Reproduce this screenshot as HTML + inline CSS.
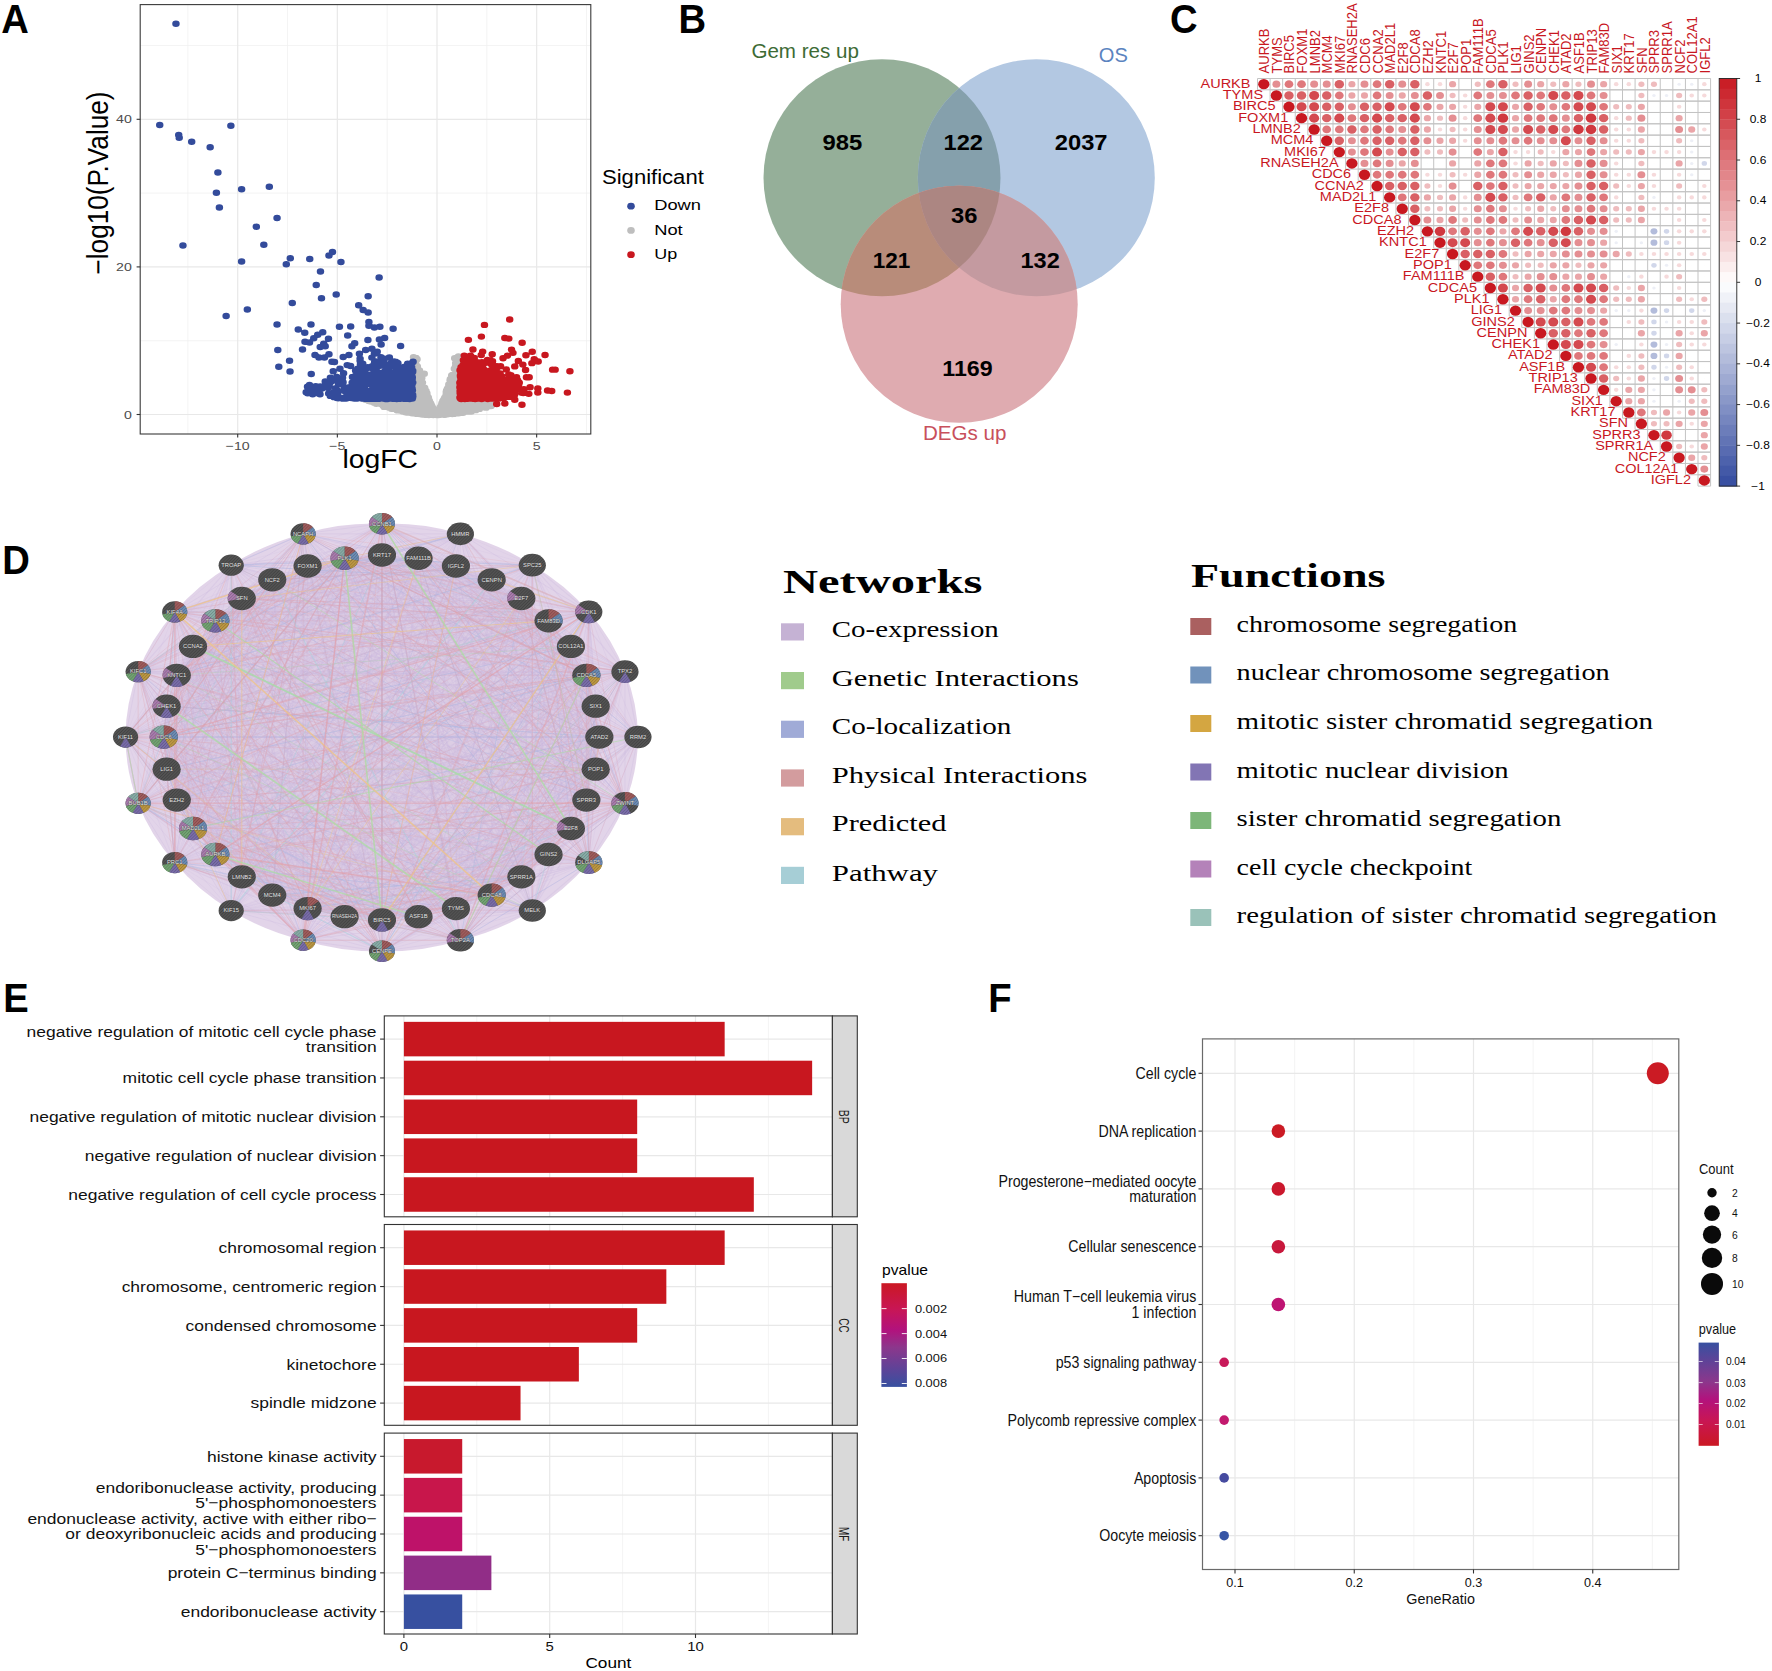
<!DOCTYPE html>
<html lang="en"><head><meta charset="utf-8"><title>Figure</title>
<style>
html,body{margin:0;padding:0;background:#fff}
svg{display:block}
text{font-family:"Liberation Sans",sans-serif;white-space:pre}
text.se{font-family:"Liberation Serif",serif}
</style></head><body>
<svg width="1772" height="1671" viewBox="0 0 1772 1671">
<rect width="1772" height="1671" fill="#fff"/>
<g id="a">
<rect x="140.2" y="4.6" width="450.6" height="429.4" fill="#fff" />
<line x1="187.88" y1="4.6" x2="187.88" y2="434" stroke="#efefef" stroke-width="0.7" />
<line x1="287.52" y1="4.6" x2="287.52" y2="434" stroke="#efefef" stroke-width="0.7" />
<line x1="387.18" y1="4.6" x2="387.18" y2="434" stroke="#efefef" stroke-width="0.7" />
<line x1="486.82" y1="4.6" x2="486.82" y2="434" stroke="#efefef" stroke-width="0.7" />
<line x1="586.48" y1="4.6" x2="586.48" y2="434" stroke="#efefef" stroke-width="0.7" />
<line x1="140.2" y1="340.7" x2="590.8" y2="340.7" stroke="#efefef" stroke-width="0.7" />
<line x1="140.2" y1="193.1" x2="590.8" y2="193.1" stroke="#efefef" stroke-width="0.7" />
<line x1="140.2" y1="45.5" x2="590.8" y2="45.5" stroke="#efefef" stroke-width="0.7" />
<line x1="237.7" y1="4.6" x2="237.7" y2="434" stroke="#e8e8e8" stroke-width="1.2" />
<line x1="337.35" y1="4.6" x2="337.35" y2="434" stroke="#e8e8e8" stroke-width="1.2" />
<line x1="437" y1="4.6" x2="437" y2="434" stroke="#e8e8e8" stroke-width="1.2" />
<line x1="536.65" y1="4.6" x2="536.65" y2="434" stroke="#e8e8e8" stroke-width="1.2" />
<line x1="140.2" y1="414.5" x2="590.8" y2="414.5" stroke="#e8e8e8" stroke-width="1.2" />
<line x1="140.2" y1="266.9" x2="590.8" y2="266.9" stroke="#e8e8e8" stroke-width="1.2" />
<line x1="140.2" y1="119.3" x2="590.8" y2="119.3" stroke="#e8e8e8" stroke-width="1.2" />
<path d="M364.92 402.51h0M381.23 414.06h0M350.58 412.71h0M365.82 407.18h0M392.4 411.71h0M375.65 414.78h0M334.94 408.53h0M388.54 407.08h0M334.4 404.13h0M333.28 405.77h0M376.85 407.29h0M369.38 413.37h0M376.92 412.94h0M378.73 403.62h0M382.19 400.31h0M395.8 409.09h0M363.04 413.98h0M368.09 413.48h0M360.85 406.58h0M350.01 405.99h0M353.18 370.47h0M375.56 411.18h0M371.39 413.49h0M398.12 401.15h0M368.1 403.5h0M352.98 409.86h0M339.22 409.47h0M387.95 395.63h0M400.98 402.79h0M378.06 408.79h0M383.44 395.83h0M357.35 389.2h0M349.79 401.82h0M359.06 374.99h0M339.37 410.2h0M375.44 411.34h0M329.97 400.93h0M316.82 401.61h0M346.55 412.16h0M391.13 392.4h0M375.58 414.9h0M379.59 402.58h0M381.38 407.98h0M382 393.69h0M390.66 387.27h0M381.61 394.44h0M388.26 404.99h0M331.85 405.27h0M342.48 399.67h0M404.58 409.97h0M377.26 413.42h0M384.17 401.78h0M356.29 413.92h0M361.54 403.87h0M351.64 399.86h0M390.48 378.59h0M341.02 403.76h0M367.49 414.67h0M400.22 401.09h0M348.52 402.48h0M353.62 410.53h0M383.78 397.24h0M377.69 413.46h0M373.38 414.92h0M366.61 414.93h0M376.25 414.37h0M386.6 413.97h0M382.39 392.47h0M361.27 408.84h0M362.44 407.07h0M363.2 392.65h0M378.56 400.85h0M346.46 411.69h0M375.54 414.75h0M361.19 387.57h0M384.28 411.46h0M422.02 402.52h0M377.91 413.97h0M365.56 406.39h0M369.02 406.01h0M391.8 403.48h0M345.51 408.49h0M388.56 392.34h0M402.05 402.5h0M363.11 393.66h0M383.61 384.47h0M393.5 402.3h0M339.58 402.75h0M374.09 414.29h0M395.75 412.82h0M387.3 406.56h0M373.36 413.96h0M392.64 360.17h0M364.11 390.96h0M389.8 406.32h0M364.71 411.59h0M375.08 412.32h0M383.93 386.75h0M383.43 397.33h0M349.88 402.51h0M397.28 400.58h0M386.23 385.04h0M370.38 414.44h0M346.11 402.49h0M351.43 399.52h0M403.53 407.59h0M328.43 401.74h0M400.26 410.73h0M378.85 401.68h0M379.07 403.01h0M394.51 399.36h0M401.97 404.32h0M354.54 409.57h0M392.01 413.37h0M400.63 406.33h0M364.76 394.65h0M330.94 400.96h0M387.76 408.07h0M370.15 414.05h0M388.06 390.48h0M369.05 414.37h0M392.47 362.16h0M356.07 387.11h0M389.06 368.98h0M328.63 403.79h0M393.08 407.08h0M366.27 408.99h0M369.75 414.23h0M408.44 408.82h0M371.3 413.62h0M366.15 410.81h0M343.58 406.23h0M335.36 408.78h0M357.65 391.62h0M370.52 411.09h0M387.47 395.53h0M337.11 400.22h0M356.77 396.23h0M351.17 407.23h0M353.97 377.53h0M345.28 407h0M378.1 403.06h0M356.72 366.37h0M329.07 405.82h0M322.95 400.2h0M351.75 412.19h0M386.94 412.87h0M386.25 408.02h0M398.71 402.63h0M384.38 385.43h0M389.42 383.22h0M398.19 411.41h0M411.6 407.59h0M332.98 399.59h0M350.64 399.19h0M385.02 386.25h0M382.29 403.67h0M389.54 400.9h0M376.58 409.32h0M387.9 413.89h0M348.76 412.63h0M362.72 407.78h0M352.22 412.94h0M352.46 399.28h0M383.91 412.9h0M315.23 401.06h0M406.16 408.46h0M379.45 413.73h0M329.02 400.88h0M392.32 403.54h0M398.54 405.94h0M408.82 403.01h0M376.55 409.72h0M374.26 413.98h0M415.43 402.89h0M392.41 369.97h0M406.56 410.13h0M391.38 365.63h0M351.82 406.67h0M375.9 408.72h0M369.1 411.09h0M381.47 411.16h0M380.1 414.49h0M378.36 413.26h0M363.47 396.29h0M387.13 405.5h0M357.05 401.39h0M370.35 415.03h0M370.35 411.08h0M374.09 413.68h0M379.31 399.8h0M392.76 410.33h0M379.85 407.61h0M349.83 401.92h0M350.57 404.42h0M386.08 375.47h0M348.26 403.94h0M403.9 404.41h0M354.13 412.33h0M381.43 413.16h0M401.9 409.51h0M385.37 410.93h0M405.53 400.94h0M391 379.08h0M367.2 412.04h0M385.87 400.21h0M383.03 409.6h0M389.66 362.85h0M396.72 410.57h0M365.78 396.95h0M363.06 414.69h0M388.94 399.5h0M345.54 410.42h0M374.34 413.64h0M387 412.39h0M370.87 413.63h0M374.74 414.16h0M371.53 414.57h0M347.94 403.22h0M356.99 384.83h0M361.09 404.31h0M327.65 404.93h0M382.4 397.28h0M369.2 410.07h0M409.21 400.48h0M381.32 402.3h0M366.42 413.63h0M331.68 404.2h0M330.02 401.11h0M369.25 408.26h0M331.55 402.56h0M347.71 404.11h0M371.03 414.75h0M375.66 413.35h0M402.3 405.67h0M395.11 405.39h0M347.82 407.18h0M347.47 412.44h0M380.78 406.18h0M336.62 404.96h0M366.12 403h0M363.74 410.5h0M385.26 390.08h0M377.89 413.42h0M366.65 408.52h0M312.5 399.85h0M338.38 402.28h0M374.6 412.93h0M365.03 413.08h0M363.68 410.43h0M369.58 411.3h0M352.26 413.3h0M385.97 390.9h0M376.61 409.58h0M362.42 401.93h0M354.62 392.21h0M359.92 380.6h0M372.6 414.89h0M419.77 406.09h0M363.52 405.22h0M394.08 408.22h0M319.85 402.76h0M383.16 410.8h0M420.03 402.55h0M386.65 374.93h0M390.5 409.7h0M381.18 395.61h0M347.44 403.94h0M375.65 412.55h0M415.44 407.63h0M395.08 408.09h0M370.91 414.09h0M382.73 408.5h0M385.45 384.58h0M405.79 401.38h0M370.74 414.75h0M400.42 400.64h0M355.37 402.46h0M355.6 357.99h0M385.63 395.26h0M355.95 403.73h0M387.61 413.32h0M402.73 409.02h0M394.41 400.18h0M370.43 412.65h0M387.06 409.25h0M333.15 400.43h0M408.34 401.6h0M338.36 399.86h0M335.89 404.68h0M369.07 408.92h0M363.71 405.67h0M370.87 414.13h0M339.79 410.38h0M380.3 407.48h0M365.43 409.91h0M360.05 377h0M403.64 409.11h0M360.34 396.89h0M355.42 396.92h0M376.62 413.89h0M381.32 394.66h0M355.37 363.77h0M370.63 409.79h0M359.27 409.45h0M373.96 414.96h0M365.28 411.69h0M378.14 412.74h0M330.12 401.69h0M351.54 408.72h0M348.15 408.77h0M383.7 407.02h0M386.21 375.76h0M376.87 414.38h0M340.4 401.06h0M369.72 414.03h0M368.24 411.54h0M386.28 400.17h0M409.95 400.7h0M358.57 413.94h0M403.1 400.65h0M377.08 411.22h0M370.01 413.06h0M370.15 409.23h0M389.48 362.88h0M333.17 407.07h0M379.89 407.03h0M378.15 407.05h0M402.09 404.45h0M358.13 381.8h0M344.4 411.58h0M377.49 406.89h0M375.57 411.54h0M417.84 405.18h0M381.59 401.55h0M382.02 398.91h0M376.54 411.31h0M375.61 411.93h0M358.82 391.96h0M380.14 414.83h0M362.84 387.66h0M392.75 380.7h0M388.34 406.75h0M354.25 404.22h0M402.55 408.81h0M362.22 414.41h0M338.51 406.61h0M370.69 414.19h0M346.33 410.29h0M328.33 406.88h0M358.69 387.62h0M389.25 407.65h0M380.51 406.52h0M337.02 408.45h0M388.4 376.46h0M366.9 412.67h0M376.77 413.14h0M405.72 399.73h0M356.67 406.65h0M370.72 413.43h0M344.06 410.65h0M325.7 403.91h0M383.61 412.19h0M377.45 411.72h0M372.75 413.83h0M396.06 399.05h0M347.29 400.18h0M363.85 391.76h0M382.32 396.76h0M401.14 408.2h0M376.61 412.59h0M364 414.75h0M381.63 410.2h0M338.78 409.59h0M412.98 399.44h0M375.64 410.13h0M389.61 372.45h0M364.2 405.74h0M373.14 414.67h0M382.54 407.44h0M363.61 392.27h0M391.83 369.27h0M374.49 412.38h0M375.83 414.87h0M371.79 412.47h0M368.8 406.44h0M405.58 407.86h0M362.88 399.53h0M423.3 403.72h0M366.5 411.83h0M352.22 413.33h0M372.04 413.72h0M323.02 399.44h0M385.69 399.84h0M372.71 413.68h0M390.5 404.35h0M364.35 406.99h0M321.62 403.76h0M372.36 413.62h0M367.5 405.3h0M330.91 403.24h0M361.6 405.78h0M386.83 383.32h0M382.75 395.5h0M377.07 413.39h0M375.48 412.29h0M372.56 414.7h0M414.1 399.15h0M364.9 410.99h0M378.62 409.12h0M375.18 411.67h0M355.68 396.04h0M375.44 411.9h0M354.16 366.76h0M339 403.7h0M399.86 409.45h0M398.47 406.01h0M346.07 410.54h0M395.27 410.76h0M370.71 410.71h0M382.62 401.31h0M360.5 377.89h0M389.3 392.36h0M374.87 412.43h0M408.74 399.13h0M389.66 372.48h0M384.82 386.48h0M375.6 413.79h0M367.23 414.06h0M391.53 384.8h0M423.41 399.51h0M340.74 406.68h0M401.02 409.63h0M379.27 414.04h0M319.82 401.25h0M359.49 403.23h0M360.16 411.43h0M375.01 412.55h0M385.99 391.78h0M371.28 414.17h0M373.44 413.93h0M377.64 413.53h0M387.24 381.42h0M363.02 413.27h0M368.07 411.44h0M341.5 410.53h0M360.95 411.15h0M363.01 409.27h0M349.8 409.91h0M387.96 391.7h0M365.02 409.28h0M333.59 399.04h0M391.65 398.03h0M381.53 411.8h0M402.79 411.43h0M388.55 375.97h0M357.42 399.01h0M387.87 409.78h0M354.49 413.46h0M341.52 400.4h0M360.68 412.92h0M355.63 390.93h0M356.14 409.54h0M365 395.61h0M395.59 412.21h0M332 399.4h0M372.65 414.9h0M405.97 399.37h0M406.72 405.99h0M416.18 404.98h0M386.33 378.62h0M341.5 409.95h0M343.14 402.36h0M374.13 412.58h0M391.67 368.04h0M376.45 412.49h0M383.97 400.97h0M362.25 409.65h0M377.63 407.38h0M375.28 412.46h0M366.65 403.75h0M409.77 408.89h0M379.98 405.33h0M341.96 408.57h0M361.12 403.3h0M350.91 404.91h0M359.25 399.72h0M366.07 405.35h0M372.1 414.16h0M373.7 413.4h0M406.3 406.35h0M380.66 413.71h0M392.11 409.55h0M361.9 403.58h0M374.29 413.66h0M399.61 411.67h0M378.02 406.52h0M374.75 414.98h0M345.29 406.65h0M332.8 407.81h0M406.59 401.08h0M404.85 401.79h0M369.52 414.1h0M394.93 399.79h0M367.52 402.97h0M389.4 365.97h0M402.62 411.13h0M349.2 411.54h0M399.13 400.76h0M364.24 412.88h0M408.97 405.38h0M383.09 409.58h0M363.35 403.67h0M367.91 413.64h0M375.64 414.47h0M399.91 400.76h0M357.88 409.53h0M372.64 414.4h0M360.09 393.06h0M342.88 405.64h0M403.67 405.21h0M377.75 403.2h0M363.63 400.59h0M340.44 408.69h0M393.79 399.18h0M352.59 403.24h0M360.97 402.31h0M385.93 413.63h0M401.78 401.89h0M369.66 407.57h0M400.7 405.48h0M360.86 414.49h0M354.59 413.01h0M387.74 398.68h0M394.08 407.28h0M379.32 412.51h0M363.45 399.54h0M371.88 414.37h0M370.57 414.77h0M360.91 396.91h0M382.2 401.74h0M378.8 409.27h0M398.86 411.35h0M385 411.47h0M364.19 413.65h0M342.55 402.37h0M337.5 406.62h0M370.07 411.31h0M373.58 414.08h0M352.31 408.37h0M395.09 400.14h0M368.69 406.12h0M354.37 412.68h0M349.08 410.65h0M366.09 414.46h0M370.96 412.97h0M367.06 401.26h0M379.24 406.4h0M381.41 405.2h0M345.82 410.74h0M340.1 408.15h0M368.27 405.29h0M376.73 408.41h0M369.84 409.28h0M368.01 406.77h0M336.2 405.81h0M377.93 413.19h0M382.55 414.31h0M379.85 410.5h0M370.28 410.15h0M337.59 402.93h0M367.65 410.53h0M397.23 402.64h0M353.84 380.92h0M367.93 403.25h0M379.37 414.85h0M413.2 406.82h0M373.41 413.33h0M405.31 402.74h0M350.02 409.67h0M409.14 408.06h0M395.44 404.32h0M353.89 379.38h0M394.08 401.9h0M367.21 405.96h0M384.61 391.92h0M352.57 406.46h0M365.15 403.62h0M384.07 413.41h0M380.42 414.68h0M364.04 413.44h0M387.99 410.44h0M361.91 414.28h0M401.9 404.66h0M378.8 405.59h0M369.71 411.26h0M362.54 406.72h0M386.56 378.5h0M334.51 408.78h0M402.14 399.91h0M335.55 408.82h0M373.2 415.07h0M380.32 399.01h0M381.81 395.65h0M342.47 404.54h0M368.09 414.42h0M379.84 402.25h0M375.56 413.04h0M388.26 413.81h0M369.63 410.05h0M387.67 401.7h0M346.76 406.85h0M419.83 400.34h0M366.43 409.62h0M366.75 409.57h0M373.18 414.08h0M350.94 406.82h0M379.18 414.22h0M411.75 401.26h0M370.88 414.48h0M371.31 412.38h0M372.32 414.29h0M370.08 412.44h0M374.29 413.72h0M357.36 401.73h0M378.48 401.97h0M355.97 403.33h0M377.6 410.35h0M402.51 410.8h0M364.64 398.37h0M363.75 398.86h0M377.23 412.29h0M341.26 407.34h0M335.1 408.83h0M397.84 400.93h0M384.62 408.46h0M372.63 413.71h0M349.59 401.06h0M370.2 414.11h0M344.96 402.96h0M376.72 408.74h0M358.42 403.77h0M354.71 408.56h0M387.65 383.14h0M344.25 410.47h0M336.4 404.41h0M384.1 412.38h0M327.38 405.45h0M380.81 412.36h0M359.82 382.74h0M358.52 370.35h0M385.04 389.1h0M365.92 403.12h0M368.98 407h0M364.87 393.3h0M387.48 380.65h0M370.01 408.54h0M377.62 406.5h0M371.82 412.38h0M386.73 381.59h0M382.42 398.29h0M373.86 413.16h0M386.87 379.47h0M389.58 368.59h0M359.34 379.75h0M381.85 398.22h0M355.32 376.41h0M387.1 377.92h0M389.65 372.88h0M360.43 387.15h0M355.32 374.2h0M364.78 397.83h0M371.34 411.96h0M358.66 371.34h0M362.34 396.55h0M383.88 386.89h0M360.1 378.95h0M381.43 392.04h0M353.53 377.61h0M358.42 377.25h0M367.33 404.72h0M371.81 412.81h0M385.52 382.27h0M375.8 410.24h0M391.34 368.61h0M353.46 357.23h0M377.72 407.61h0M356.91 371.75h0M385.77 380.64h0M365.45 398.22h0M382.51 396.26h0M357.47 377.28h0M367.05 404.15h0M392.14 364.62h0M373.81 412.81h0M380.45 397.84h0M382.73 394.08h0M359.72 386.01h0M389.74 383.05h0M388.42 384.32h0M385.6 393.3h0M368.13 407.97h0M378.43 406.51h0M356.08 379.9h0M380.24 402.73h0M388.57 383.35h0M359.55 375.81h0M377.45 405.4h0M358.18 380.09h0M361.67 392.69h0M356.58 374.44h0M362.99 387.88h0M378.37 406.25h0M369.06 408.49h0M386.2 377h0M381.72 390.52h0M368.68 407.61h0M371.67 413.05h0M388.88 384.24h0M382.82 387.96h0M368.06 406.1h0M365.72 397.1h0M380.14 397.65h0M366.74 403.7h0M384.12 384.51h0M380.4 399.4h0M383.18 394.94h0M392 365.26h0M365.87 401.97h0M376.14 407.53h0M357.39 386.54h0M383.96 396.23h0M375.79 410.98h0M385.14 383.75h0M385.29 383.79h0M368.08 404.84h0M385.45 390.93h0M355.8 373.24h0M354.96 365.23h0M390.07 380.21h0M384.27 392.47h0M377.21 408.9h0M364 394.12h0M362.74 391.97h0M357.58 378.68h0M382.11 400.41h0M384.87 379.31h0M363.16 394.48h0M370.5 410.67h0M360.33 386.57h0M359.26 389.26h0M367.97 407.45h0M374.09 412.36h0M363.62 391.85h0M365.21 396.58h0M358.4 387.97h0M382.37 389.06h0M390.85 381.05h0M371.84 413.26h0M364.78 399.55h0M354.14 360.53h0M366.14 397.68h0M382.55 397.73h0M365.26 397.65h0M382.68 389.91h0M391.43 361.85h0M379.23 405.37h0M390.02 365.58h0M356.5 371.15h0M384.69 380.22h0M365.01 396.58h0M356.95 379.94h0M366.04 402.74h0M361.08 382.59h0M366.66 404.94h0M366.93 400.74h0M380.25 403.29h0M388.67 382.34h0M366.27 404.81h0M382.46 397.43h0M384.73 395.23h0M382.36 399.07h0M388.2 382.86h0M390.32 369.74h0M383.23 395.75h0M368.46 408h0M380.54 398.4h0M388.34 368.76h0M371.22 411.06h0M389.96 374.65h0M388.49 383.82h0M365.6 399.66h0M370.3 410.96h0M384.73 392.02h0M381.73 391.08h0M367.3 406.77h0M353.45 372.51h0M371.1 411.54h0M382.86 388.47h0M355.91 368.16h0M358.84 388.87h0M384.32 386.63h0M377.17 405.37h0M391.82 356.42h0M368.84 405.49h0M374.87 411.28h0M356.39 384.06h0M374.8 412.11h0M354.48 364.68h0M384.79 388.29h0M388.64 358.28h0M389.88 364.6h0M356.44 359.19h0M362.6 373.63h0M356.74 375.08h0M359.83 382.66h0" stroke="#bebebe" stroke-width="6.4" stroke-linecap="round" fill="none" transform="scale(1.17 1)"/>
<path d="M322.28 390.55h0M339.4 392.43h0M339.25 392.66h0M336 377.11h0M334.6 366.63h0M306.47 396.73h0M301.12 397.93h0M324.97 392.8h0M312.86 378.99h0M338.78 398.71h0M341.58 395.46h0M349.29 392.95h0M341.17 381.31h0M347.09 391.03h0M289.2 391.32h0M348.16 391.81h0M344.65 398.66h0M328.37 394.33h0M305.7 394.99h0M349.49 390.91h0M333.8 396.79h0M332.01 385.76h0M308.05 364.55h0M329.11 375.04h0M349.17 380.33h0M336.48 394.97h0M344.95 395.39h0M338.54 391.87h0M347.72 375.28h0M348.33 385.44h0M335.97 389.59h0M332.17 391.23h0M307.78 360.8h0M343.08 393.07h0M351.64 392.02h0M343.47 396.35h0M299.24 389.21h0M345.27 396.44h0M326.3 375.54h0M289.2 381.57h0M311.42 396.44h0M348.58 384.28h0M324.21 396.17h0M342.19 398.87h0M318.77 389.26h0M299.66 366.06h0M331.71 393.33h0M343.27 385.46h0M268.64 393.57h0M337.61 379.88h0M348.7 384.46h0M344.59 388h0M351.76 382.91h0M328.11 373.07h0M340.11 363.27h0M350.7 393.14h0M344.72 375.46h0M282.39 377.75h0M294.27 387.59h0M286.83 394.2h0M349.54 381.56h0M335.74 398.66h0M305.65 397.09h0M344.77 397.77h0M324.93 396.56h0M342.03 388.24h0M262.95 393.33h0M344.08 374.88h0M323.55 390.72h0M344.97 391.2h0M340.35 397.69h0M347.14 394.77h0M334.76 387.29h0M311.4 397.45h0M349.09 370.34h0M330.29 395.57h0M345.39 384.32h0M334.91 392.29h0M267.25 394.28h0M323.7 383.28h0M326.56 386.74h0M351.3 393.01h0M338.04 374.78h0M316.49 374.4h0M341.66 392.2h0M329.03 393.78h0M348.25 383.86h0M340.23 371.85h0M321.38 398.85h0M349.5 396.24h0M341.5 396.02h0M320.86 395.61h0M337.05 392.28h0M335.36 398.37h0M351.65 372.34h0M324.79 365.79h0M324.6 385.86h0M305.38 398.52h0M349.78 397.28h0M352.44 395.41h0M351.68 397.41h0M340.49 396.58h0M350.29 387.15h0M275.15 388.54h0M332.12 370.25h0M281.37 386.15h0M343.58 381.31h0M313.85 394.51h0M335.34 383.24h0M345.6 392.51h0M329.84 392.93h0M288.54 394.19h0M334.05 376.31h0M351.93 393.61h0M346.79 388.51h0M338.24 364.74h0M341.52 393.77h0M343.74 371.02h0M345.8 398.22h0M352.2 388.36h0M325.92 393.32h0M321.84 389.33h0M300.86 393.2h0M311.23 389.23h0M320.11 362.9h0M337.25 384.35h0M348.47 396h0M325.56 394.7h0M300.04 397.68h0M296.76 365.11h0M343.79 385.77h0M323.93 382.85h0M337.43 397.55h0M337.56 388.4h0M349.23 392.27h0M348.15 373.81h0M343.37 386.1h0M349.44 373.65h0M318.73 394.49h0M340.27 393.22h0M331.25 386.98h0M322.63 398.91h0M338.99 394.26h0M330.58 377.42h0M336.3 392.72h0M345.21 376.1h0M325.76 395.31h0M352.09 395.06h0M287.43 394.17h0M330.61 394.03h0M324.86 391.37h0M302.33 381.75h0M336.58 390.71h0M351.64 384.02h0M335.39 398.86h0M350.79 395.54h0M337.61 389.77h0M322.61 363.97h0M348 396.23h0M337.03 392.18h0M310.68 368.53h0M327.24 383.38h0M313.16 397.72h0M339.81 392.93h0M350.58 394.06h0M347.26 384.83h0M342.74 393.41h0M273.64 386.47h0M324.01 389.14h0M303.87 395.91h0M288.18 391.94h0M351.04 387.95h0M349.58 387.79h0M323.99 381.96h0M318.81 398.86h0M352.76 382.53h0M329.56 365.93h0M338.19 397.62h0M352.39 398.6h0M347.27 379.54h0M328.64 371.78h0M287.52 389.33h0M348.35 396.06h0M326.22 396.92h0M331.71 389.54h0M351.99 397.95h0M334.62 391.52h0M306.26 385.05h0M319.48 387.51h0M348.35 395.39h0M343.52 398.56h0M324.19 372.95h0M267.53 393.72h0M346.69 386.01h0M352.27 395.7h0M338.26 379.82h0M351.54 398.26h0M344.97 395.65h0M347.82 387.25h0M347.33 398.92h0M294.51 390.93h0M337.17 395.15h0M350.82 383.98h0M320.35 387.32h0M337.41 392.25h0M316.87 398.7h0M294.25 397.79h0M347.45 392.67h0M352.62 370.58h0M338.26 393.01h0M341.04 371.75h0M341.01 385.01h0M336.98 366.57h0M329.5 392.49h0M334.65 393.39h0M336.3 394.65h0M352.1 377.29h0M344.84 397.15h0M346.52 388.55h0M308.06 388.25h0M334.64 377.95h0M344.9 392.91h0M345.79 392.1h0M324.14 387.45h0M342.64 390.42h0M346.23 373.04h0M320.32 361.16h0M326.64 391.29h0M330.72 392.12h0M332.2 397.22h0M312.68 383.95h0M350.07 373.64h0M314.34 379.78h0M352 382.18h0M348.31 398.8h0M316.98 383.24h0M309.57 395.5h0M346.81 369.52h0M350.8 366.43h0M305.55 380.13h0M346.65 382.15h0M350.18 394.48h0M303.77 392.24h0M340.12 374.29h0M334.78 385.86h0M324.2 372.59h0M273.03 393.2h0M339.64 377.66h0M318.89 368.81h0M352.1 382.84h0M338.04 367.59h0M349.87 394.42h0M343.7 386.53h0M345.68 383.97h0M337.84 386.54h0M336.55 380.21h0M347.93 381.19h0M329.6 385.81h0M345.37 389.85h0M331.57 364.47h0M320.77 387.63h0M273.51 394.31h0M311.13 384.85h0M327.4 383.18h0M319.8 398.5h0M341.75 379.06h0M340.58 366.47h0M337.23 380.9h0M325.22 395.69h0M331.17 393.3h0M340.81 389.71h0M319.12 374.75h0M324.41 389.56h0M320.2 395.94h0M320.51 374.1h0M309.29 390.07h0M302.42 388.12h0M347.29 396.63h0M308.95 395.43h0M347.52 393.34h0M350.03 385.56h0M348.57 383.6h0M333.57 390.24h0M317.48 398.92h0M318.83 397.1h0M323.23 383.09h0M348.7 382.66h0M327.23 395.34h0M324.14 397.33h0M336.86 361.36h0M320.16 396.77h0M299.95 392.08h0M346.16 383.44h0M352.48 390.15h0M351.56 368.96h0M342.36 397.45h0M347.75 391.18h0M328.49 394.46h0M329.26 398.38h0M333.62 380.73h0M341.19 381.16h0M343.96 385.24h0M308.55 393.84h0M339.97 397.74h0M343.1 386.38h0M314.91 383.04h0M322.23 397.92h0M313.05 398.66h0M338.3 396.92h0M331.29 368.99h0M319.71 397.57h0M316.15 394.07h0M325.11 392.67h0M322.71 393.15h0M345.27 397.05h0M344.38 398.21h0M349.56 377.44h0M337.91 398.31h0M345.79 391.7h0M326.16 385.92h0M348.41 395.57h0M348.54 385.55h0M297.86 390.33h0M345.72 392.81h0M351.9 386.47h0M301 389.49h0M348.37 398.01h0M351.19 382.52h0M288.86 398.14h0M347.23 381.86h0M339.07 398.95h0M305.7 384.06h0M328.6 390.6h0M330.22 389.34h0M336.67 388.84h0M324.43 396.77h0M338 386.53h0M350.38 376.96h0M315.75 393.65h0M321.78 387.94h0M337.03 392.89h0M321.94 397.05h0M294.89 388.96h0M323.8 373.97h0M345.56 381.12h0M318.85 396.89h0M327.82 388.25h0M269.92 389.18h0M344.89 391.27h0M344.09 395.58h0M346.28 380.59h0M345.61 374.88h0M322.51 396.24h0M320.76 382.6h0M345.39 390.86h0M330.31 383.15h0M314.38 367.12h0M328.65 373.66h0M319.94 377.6h0M348.67 389.71h0M332.38 374.78h0M331.91 390.82h0M319.35 388.56h0M346.69 390.44h0M350.01 392.79h0M324.96 392.12h0M351.44 398.44h0M317.84 357.62h0M335.04 397.3h0M348.63 367.23h0M346.33 397.38h0M315.17 393.18h0M339.62 374.54h0M305.71 381.31h0M352.5 395.08h0M344.93 389.44h0M331.33 393.14h0M333.43 376.48h0M340.23 393.16h0M341.37 386.73h0M351.83 366.98h0M344.81 393.19h0M318.61 398.72h0M336.08 378.2h0M333.48 397.98h0M344.19 396.84h0M320.82 374.97h0M327.18 395.18h0M311.4 394.84h0M335.86 398.67h0M333.53 390.21h0M351.91 374.89h0M350.6 386.13h0M322.92 386.83h0M318.7 391.09h0M331.8 393.05h0M331.12 394.05h0M348.78 385.99h0M345.97 376.28h0M315.28 393.65h0M334.57 362.19h0M341.93 393.57h0M333.74 395.59h0M344.57 371.24h0M325.71 385.76h0M315.31 396.94h0M338.81 398.13h0M340.08 387.68h0M327.45 397.01h0M318.16 366.25h0M285.49 397.16h0M346.41 391.62h0M328.32 397.62h0M307.45 378.08h0M344.98 377.84h0M348.44 398.01h0M340.76 393.02h0M297.37 395.27h0M293.21 382.29h0M341.07 382.82h0M320.63 370.42h0M308.72 389.69h0M287.9 377h0M348.11 395.95h0M289.34 384.22h0M337.83 392.3h0M310.05 363.77h0M327.29 396.94h0M316.05 395.14h0M328.31 384.72h0M350.63 396.2h0M278.03 385.19h0M342.35 393.21h0M318.95 382.03h0M341.72 396.44h0M286.92 388.29h0M311.76 385.92h0M345.02 398.73h0M351.43 391.11h0M288.27 394.59h0M332.69 397.61h0M344.84 398.23h0M348.84 398.34h0M350.63 376.49h0M328.07 382.14h0M352.69 394.81h0M323.1 398.8h0M341.56 398.63h0M341.62 372.13h0M352.04 390.15h0M325.63 377.6h0M347.29 372.57h0M306.84 397.79h0M325.41 379.13h0M338.09 361.58h0M293.11 398.66h0M341.82 384.9h0M341.97 391.88h0M317.03 375.07h0M347.91 398.75h0M346.01 388.99h0M299.75 393.12h0M339.86 393.4h0M319.88 372.31h0M328.1 395.53h0M324.96 376.7h0M334.07 398.57h0M322.71 384.99h0M329.78 382.72h0M329.15 393.05h0M331.03 394.75h0M344.41 388.15h0M349.8 377h0M348.12 385.83h0M349.07 388.59h0M346.21 379.05h0M344.17 386.63h0M314.16 368.03h0M293.67 373.29h0M309.18 389.01h0M340.35 382.57h0M335.99 372.9h0M345.91 366.66h0M285.97 392.04h0M345.95 378.28h0M352.06 384.67h0M352.39 377.17h0M282.02 382.83h0M340.35 395.56h0M339.2 367.45h0M339.22 384.79h0M295.93 398.59h0M352.23 382.59h0M344.83 393.19h0M341.43 391.64h0M343.39 370.9h0M307.6 390.38h0M263.65 391.8h0M342.52 397.77h0M352.72 371.68h0M344.53 393.88h0M325.6 357.26h0M345.95 398.29h0M308.78 373.68h0M314.39 398.37h0M309.85 391.32h0M336.34 397h0M305.57 396.81h0M282.34 395.9h0M342.41 389.72h0M340.31 380.52h0M334.78 392.28h0M337.38 385.35h0M321.19 392.29h0M341.01 369.07h0M327.39 396.01h0M324.3 398.8h0M348.65 386.99h0M328.11 383.08h0M315.14 398.34h0M287.95 398.12h0M331.29 398.97h0M345.51 388.67h0M323.84 388.53h0M331.01 374.69h0M261.7 392.26h0M345.51 398h0M317.68 398.8h0M346.52 398.35h0M307.78 358.68h0M343.85 393.77h0M351.62 390.97h0M343.25 393.67h0M313.3 394.85h0M336.99 388.69h0M338.88 396.82h0M311.46 370.65h0M305.76 368.66h0M323.7 395.37h0M318.63 381.61h0M302.35 384.54h0M350.21 386.12h0M351.85 382.26h0M337.79 388.14h0M319.45 391.24h0M320.96 390.93h0M327.91 390.48h0M322.71 390.55h0M340.72 388.51h0M339.02 375.85h0M307.53 371.96h0M340.15 398.12h0M343.88 384.69h0M302.25 398.01h0M306.69 384.5h0M344.04 374.57h0M296.46 393.32h0M327.1 387.77h0M350.87 380.2h0M339.75 395.96h0M347.48 392.95h0M320.46 396.8h0M321.49 396.4h0M322.31 366.93h0M341.6 393.04h0M295.24 391.58h0M337.58 382.89h0M339.24 392.97h0M321.39 389.18h0M342.43 384.58h0M343.54 394.44h0M335.75 397.43h0M323.73 381.58h0M347.29 389.33h0M352.67 397.14h0M333.44 384.66h0M324.65 389.16h0M306.08 395.13h0M329.35 398.99h0M344.15 387.14h0M342.25 388.55h0M280.91 393.57h0M343.92 391.35h0M331.3 389.97h0M350.15 397.18h0M308.92 365.36h0M316.3 392.74h0M351.61 380.42h0M336.54 386.58h0M344.26 395.38h0M298.05 397.16h0M297.66 387.47h0M350.95 395.99h0M295.96 397.9h0M335.79 392.36h0M337.35 362.54h0M323.06 378.17h0M349.54 387.99h0M347.23 398.11h0M338.18 397.07h0M312.43 398.88h0M345.19 396.03h0M330.28 364.45h0M342.77 393.68h0M338.67 390.82h0M350.11 373.99h0M328.37 398.79h0M332.97 373.96h0M345.82 390.96h0M302.61 396.04h0M341.02 372.6h0M329.73 380.7h0M299.19 397h0M337.73 398.32h0M324.36 393.87h0M346.88 388.72h0M331.62 397.8h0M338.84 384.52h0M342.58 392.33h0M290.11 383.82h0M342.24 395.21h0M339.01 391.39h0M330.41 394.17h0M348.75 395.91h0M322.3 363.2h0M321.96 382.56h0M348.43 363.59h0M340.75 390.9h0M317.36 384.52h0M315.06 398.89h0M302.71 398.52h0M345.67 391.32h0M346.37 395.88h0M325.56 392.08h0M315.22 395.97h0M346.27 396.36h0M296.38 397.24h0M348.58 370.84h0M304.16 389.87h0M352.43 382.03h0M314.2 396.62h0M345.63 382.07h0M312.91 377.49h0M330.73 396.7h0M309.38 382.31h0M331.84 390.68h0M346.33 397.73h0M351.35 395.64h0M301 382.73h0M335.95 391.66h0M348.7 396.68h0M335.75 380.15h0M292.78 377.81h0M317.35 382.12h0M342.13 395.04h0M329.83 395.79h0M341.36 396.75h0M342.89 384.87h0M318.58 396.07h0M348.18 396.3h0M341.12 392.19h0M351.69 393.24h0M321.86 395.86h0M321.98 389.13h0M350.65 390.06h0M352.32 378.8h0M346.37 394.64h0M342.4 387.35h0M312.03 396.02h0M334.46 379.61h0M310.96 367.84h0M327.84 394.27h0M327.75 397.59h0M352.8 396.13h0M348.06 394.26h0M347.38 393.27h0M333.87 393.69h0M339.75 397.46h0M301.26 377.01h0M315.65 390.94h0M313.11 397.41h0M347.75 392.36h0M351.78 398.47h0M327.81 391.92h0M318.36 391.87h0M300.36 397.95h0M315.24 381.4h0M339.96 384.56h0M350.11 398.94h0M322.92 374.92h0M342.39 394.98h0M349.58 395.38h0M348.03 394.81h0M330.32 393.8h0M344.68 387.84h0M351.6 395.07h0M266.57 389.95h0M283.73 380.88h0M330.71 395.36h0M349.95 397.52h0M351.24 378.16h0M317.89 395.85h0M313.48 397.79h0M347.41 374.57h0M336.89 386h0M349.48 387.8h0M349.12 384.52h0M345.74 395.29h0M309.72 389.45h0M303.4 376.12h0M350.65 393.54h0M349.85 395.79h0M309.99 396.45h0M342.38 397.84h0M311.68 387.1h0M347 393.93h0M351.89 378.36h0M348.21 389.49h0M347.55 377.78h0M310.33 395.98h0M277.99 381.47h0M317.19 398.08h0M352.76 370.76h0M351.73 389.1h0M341.26 398.05h0M326.09 398.14h0M294.59 398.32h0M339.68 391.96h0M322.41 351.81h0M327.57 377.4h0M333.23 379.36h0M333.02 395.01h0M318.63 394.21h0M351.27 390.66h0M307.92 383.86h0M347.63 392.53h0M323.32 362.15h0M332.04 380.69h0M326.81 384.86h0M323.9 398.07h0M308.64 377.47h0M312.68 374.02h0M344.9 387.23h0M329 371.1h0M328.1 363.04h0M289.14 398.32h0M321.34 392.33h0M324.35 379.25h0M340.71 392.67h0M267.3 391.09h0M320.62 378.16h0M321.37 367.85h0M336.76 394.17h0M342.51 386.7h0M334.19 391.97h0M342.55 396.91h0M330.05 397.85h0M338.36 390.67h0M351.88 393.57h0M346.84 369.73h0M337.71 388.74h0M344.84 395.76h0M324.31 392.74h0M287.26 392.31h0M341.14 396.83h0M347.54 393.25h0M303.92 370.62h0M342.17 393.91h0M292.44 378.22h0M325.87 373.19h0M338.5 398.88h0M297.31 397.55h0M344.68 387.94h0M321.89 381.28h0M314.49 380.42h0M321.12 397.07h0M312.37 395.12h0M337.29 389.41h0M341.21 394.89h0M342.7 394.16h0M317.12 383.6h0M351.06 384.88h0M333.18 383.38h0M352.31 371.36h0M289.53 397.32h0M339.15 394.05h0M332.07 396.81h0M325.83 390.84h0M352.63 362.37h0M343.68 396.24h0M280.53 387.99h0M347.33 387.17h0M324.3 395.33h0M309.98 398.65h0M329.87 392.05h0M323.35 389.98h0M339.92 368.03h0M341.51 375.19h0M333.04 398.34h0M330.86 369.22h0M150.4 23.75h0M136.53 125h0M197.33 125.75h0M152.75 135h0M153.17 137.75h0M163.84 141.75h0M179.63 147.25h0M186.24 172.5h0M230.19 186.75h0M206.51 189.25h0M184.96 192.75h0M187.52 207.5h0M236.8 218h0M219.09 226.75h0M156.37 245.5h0M225.49 244.75h0M206.51 261.5h0M248.11 258.25h0M244.69 264.25h0M264.75 259h0M281.17 255.5h0M284.16 252h0M291.41 262h0M273.92 271.5h0M324.05 277.5h0M270.29 285h0M287.36 294.5h0M314.67 296.25h0M274.77 298.25h0M249.81 303h0M306.56 305.25h0M310.4 310h0M314.67 312.5h0M211.41 309.5h0M193.28 316h0M236.8 324.5h0M265.81 324.5h0M290.13 326.75h0M299.73 326.5h0M315.31 322h0M315.31 325.75h0M320 327.5h0M324.69 326.75h0M336 328.75h0M254.93 329.5h0M260.48 332.75h0M275.84 332.25h0M271.57 334.75h0M268.16 338.25h0M280.75 338.75h0M297.17 335.5h0M260.69 341.75h0M264.53 342.5h0M276.69 343.75h0M273.71 347h0M277.97 346.25h0M314.45 340h0M324.27 339.5h0M328.75 338h0M325.76 344.5h0M303.15 343.25h0M300.8 346.25h0M342.4 346h0M237.44 350h0M258.56 349.5h0M269.23 355h0M272.64 357.5h0M277.33 357.5h0M281.17 354.25h0M283.73 361.75h0M285.87 362h0M293.33 357h0M298.24 355h0M307.2 353.75h0M312.53 350h0M317.87 348.75h0M320 353.75h0M247.47 360.75h0M238.29 366.75h0M247.89 371.5h0M266.03 374h0M284.8 371.25h0M290.56 368.75h0M264.53 385h0M262.83 386.75h0M269.87 386.25h0M353.07 361.75h0M332.8 357.5h0M339.2 362.5h0M328.53 358.75h0" stroke="#334b9b" stroke-width="6.4" stroke-linecap="round" fill="none" transform="scale(1.17 1)"/>
<path d="M397.36 375.9h0M394.22 393.84h0M407.35 382.96h0M439.55 384.56h0M422.33 392.74h0M416.1 394.54h0M436.37 388.35h0M411.94 362.1h0M403.07 382.96h0M401.76 393.6h0M423.81 390.03h0M412.04 389.25h0M403.24 396.56h0M436.58 396.72h0M399.37 388.24h0M414.15 372.58h0M403.35 397.89h0M402.69 381.29h0M402.82 375.64h0M430.26 396.37h0M404.66 398.84h0M407.83 382.21h0M400.11 386.08h0M394.96 386.06h0M427.44 373.33h0M417.31 361.71h0M396.52 396.28h0M418.08 379.99h0M395.43 391.75h0M429.01 376.47h0M428.72 391.22h0M406.52 393.24h0M432.14 380.47h0M396 380.35h0M403.42 362.25h0M399.64 395.64h0M415.38 362.77h0M394.33 398.96h0M409.66 395.24h0M404.06 395.63h0M418.49 377.43h0M415.23 372.12h0M395.75 395.48h0M430.04 394.38h0M395.59 394.34h0M445.06 389.53h0M399.6 384.38h0M433.73 390.93h0M437.29 379.81h0M421.85 385.98h0M406.89 385.88h0M438.78 391.88h0M401.7 387.2h0M435.85 396.3h0M393.44 388.79h0M397.79 390.42h0M421.21 390.7h0M410.42 386.3h0M393.62 388.18h0M405.3 389.73h0M399.79 360.4h0M407.77 395.33h0M408.88 374.92h0M409.83 381.49h0M397.91 396.34h0M425.54 394.42h0M402.15 355.67h0M399.23 397.69h0M395.31 392.06h0M403.26 383.6h0M434.74 396.81h0M402.05 388.37h0M413.95 394.94h0M413.05 386.98h0M434.51 384.14h0M397.11 385.59h0M395.3 396.46h0M420.85 397.89h0M437.51 397h0M422.36 377.1h0M419.55 378.19h0M397.37 379.25h0M428.57 393.47h0M423.14 398.68h0M419.27 385.69h0M393.29 392.88h0M403.56 373.7h0M413.04 379.71h0M408.07 387.56h0M412.29 387.32h0M400.39 392.86h0M395.15 380.15h0M415.96 391.34h0M393.56 381.49h0M421.95 393.11h0M431.17 391.72h0M435.15 388.21h0M394.66 393.23h0M400.48 367.09h0M430.07 387.67h0M398.63 392.1h0M401.52 384.03h0M447.21 392.96h0M399.35 375.34h0M407.29 378.12h0M418.28 396.54h0M437.31 389.21h0M395.89 397.35h0M418.43 388.38h0M393.52 375.48h0M394.73 377.75h0M397.44 387.08h0M401.06 387.5h0M405.09 378.46h0M438.82 396.96h0M397.45 392.86h0M434.54 396.17h0M404.32 387.1h0M442.49 380.37h0M409.49 381.19h0M431.67 395.4h0M413.61 371.24h0M417.65 390.11h0M434.54 384.56h0M395.44 389.34h0M402.38 382.13h0M424.45 368.08h0M393.07 387.3h0M419.72 395.44h0M419.21 384.37h0M398.41 365.55h0M397.34 398.99h0M405.26 391.79h0M422.18 398.37h0M408.86 386.9h0M403.42 398.41h0M405.31 389.86h0M420.85 369h0M394.96 396.83h0M407.7 385.58h0M400.61 389h0M402.38 369.4h0M394.44 398.58h0M413.41 397.75h0M409.1 385.7h0M423.67 388.19h0M416.91 383.82h0M411.65 390.44h0M414.7 387.49h0M397.55 396.09h0M406.81 373.54h0M397.55 381.73h0M418.99 383.38h0M411.53 397.74h0M407.32 383.13h0M394.77 395.17h0M394.81 394.51h0M400.21 394.09h0M406.3 386.96h0M400.95 396.01h0M394.58 398.38h0M415.44 378.55h0M397.68 392.18h0M443.32 384.5h0M397.61 379.07h0M420.25 397.84h0M393.4 398.15h0M418.53 383.45h0M395.81 365.05h0M424.56 398.13h0M411.83 394.13h0M398.74 396.98h0M423.28 372.74h0M393.54 392.25h0M396.43 396.51h0M413.84 390.01h0M412.06 379.38h0M420.12 393.47h0M424.81 398.7h0M408.07 393.16h0M408.33 392.81h0M426.09 398.7h0M421.8 395.18h0M401.18 397.84h0M396.42 398.5h0M430.26 390.42h0M401.01 398.07h0M395.52 390.41h0M397.62 398.23h0M414.28 395.06h0M407.28 378h0M412.5 384.37h0M397.79 379.28h0M435.39 379.94h0M404.02 397.24h0M411.42 385.64h0M399.52 392.05h0M394.86 370.79h0M413.02 385.5h0M413.84 380.09h0M395.97 397.99h0M394.35 392.04h0M394.56 380.66h0M407.98 397.93h0M394.49 387.58h0M418.04 384.35h0M406.94 369.53h0M442.55 388.19h0M437.99 393.04h0M402.8 382.27h0M405.05 393.54h0M397.49 392.12h0M422.99 397.42h0M397.56 392.95h0M400.97 385.25h0M429.52 397.22h0M394.81 377.61h0M414.17 393.76h0M398.94 398.35h0M405.82 373.58h0M394.13 394.89h0M394.8 386.72h0M394.23 394.08h0M399.09 361.57h0M446.75 389.87h0M408.26 396.28h0M401.99 380.26h0M402.03 396.45h0M414.26 370.13h0M439.9 394.38h0M420.95 361.25h0M393.57 384.34h0M435.55 377.32h0M430.49 394.28h0M436.66 393.07h0M393.12 397.53h0M402.24 392.54h0M399.45 390.03h0M406.05 397.37h0M408.82 389.5h0M403.12 389.7h0M403.83 398.12h0M397.12 394.66h0M404.45 395.17h0M401.06 398.17h0M406.9 389.73h0M397.73 385.76h0M444.55 389.7h0M394.18 391.07h0M394.1 388.67h0M406.95 393.67h0M395.07 389.9h0M405.34 358.03h0M423.04 397.02h0M425.12 384.87h0M394.99 394.38h0M423.41 398.01h0M416.75 389.97h0M398.79 389.01h0M412.29 375.6h0M438.54 382.63h0M415.69 398.54h0M413.42 378.24h0M414.33 396.9h0M401.84 392.13h0M435.61 392.03h0M393.81 371.68h0M413.87 384.25h0M416.51 398.78h0M404.97 380.96h0M404.65 372.39h0M428.73 393.29h0M400.35 395.88h0M394.32 398.65h0M396.51 392.75h0M405.92 398.05h0M402.13 372.09h0M419.5 383.35h0M397.64 365.85h0M397.15 390.09h0M400.23 377.49h0M420.55 398.55h0M396.8 391.53h0M417.11 387.21h0M421.72 395.18h0M428.45 396.06h0M425.63 385.7h0M405.58 387.87h0M402.53 394.76h0M409.13 394.51h0M403.5 365.18h0M395.82 393.57h0M420.35 396.43h0M403.72 397.83h0M426.45 376.79h0M398.68 387.16h0M397.91 396.71h0M417.32 397.6h0M404.16 374.99h0M438.8 396.04h0M420.36 396.3h0M395.89 397.93h0M402.23 394h0M414.26 381.85h0M410.09 390.71h0M406.52 388.4h0M415.25 392.53h0M407.41 387.54h0M404.18 386.43h0M398.69 392.25h0M413.15 391.55h0M398.8 374.8h0M416.59 398.18h0M415.41 395.66h0M400.75 363.57h0M404.49 393.17h0M436.1 388.63h0M408.27 391.81h0M395.79 379.72h0M402.04 381.73h0M402.33 389.44h0M412.95 369.4h0M395.32 389h0M435.2 384.11h0M413.31 390.11h0M404.81 393.34h0M408.29 393.07h0M420.76 393.71h0M425.6 382.22h0M415.04 377.7h0M402.77 397.25h0M412.39 394.16h0M408.6 395.8h0M398.56 386.43h0M421.63 392.54h0M430.12 383.53h0M396.46 398.06h0M404.84 383.63h0M421.45 398.35h0M437.45 384.55h0M403.37 387.47h0M393.55 376.55h0M428.46 397.15h0M398.57 396.33h0M396.73 366.63h0M423.06 395.22h0M393.45 397.8h0M394.79 395.9h0M405.39 397.93h0M401.37 394.16h0M419.9 369.87h0M400.9 362.26h0M398.97 394.67h0M394.26 398.25h0M395.74 370.6h0M400.77 389.23h0M395.95 385.97h0M424.96 379.36h0M428.69 390.68h0M399.82 398.77h0M400.27 397.95h0M405.48 398.05h0M396.21 376.86h0M404.74 390.14h0M425.94 385.08h0M427.05 389.64h0M404.16 398.82h0M446.01 392.72h0M428.81 389.8h0M420.15 389.25h0M407.41 393.35h0M394.12 395.36h0M393.44 388.92h0M397.62 381.26h0M404.82 396.01h0M437.73 395.23h0M394.23 390.29h0M401.07 381.93h0M415.33 382.03h0M424.95 391.79h0M407.45 393.87h0M422.12 393.69h0M399.77 393.49h0M398.25 396.3h0M412.39 395.06h0M393.58 393.58h0M423.04 381.23h0M432.86 381.61h0M405.63 393.78h0M394.5 383.92h0M412.09 390.94h0M394.33 376.18h0M407.07 390.63h0M403.57 381.88h0M407.95 377.79h0M418.2 393.7h0M394 378.45h0M395.77 371.61h0M408.92 398.09h0M415.51 398.5h0M413.94 372.17h0M414.1 393.16h0M407.32 396.81h0M416.36 381.36h0M419.02 398.55h0M440.03 381.35h0M407.74 382.11h0M400.4 375.07h0M411.08 391.69h0M398.33 392.14h0M425.14 381.59h0M401.78 367.91h0M404.96 387.75h0M402.54 395.4h0M396.97 375.65h0M420.79 392h0M397.38 377.29h0M420.01 364.35h0M406.18 370.67h0M407.05 376.28h0M393.52 388.92h0M425.89 382.08h0M411.66 393.73h0M418.54 372.52h0M415.42 383.89h0M394.11 399h0M398.13 393.09h0M423.26 394.89h0M393.76 398.47h0M398.03 393.64h0M399.99 385.51h0M402.78 394.32h0M393.22 383.21h0M420.59 378.41h0M409.34 364.95h0M426.19 384.22h0M394.02 368.11h0M396.65 396.71h0M400.14 389.15h0M400.69 390.95h0M400.15 395.16h0M417.41 383.42h0M394.08 367.28h0M396.68 393.6h0M422.1 371.71h0M433.36 386.81h0M405.4 390.32h0M420 373.53h0M418.54 392.72h0M394.27 397.24h0M393.48 392.52h0M411.65 389.34h0M394.03 371.44h0M412.96 393.78h0M405.64 392.34h0M412.88 368.42h0M409.79 393.62h0M401.25 373.4h0M419.25 392.91h0M441.08 383.92h0M437.24 396.27h0M404.53 398.84h0M398.01 395.72h0M408.28 362.19h0M414 371.11h0M413.78 387.22h0M405.08 387.19h0M393.44 397.03h0M396.95 394.18h0M407.14 379.84h0M395.07 376.86h0M411.08 398.17h0M401.91 359.04h0M419.14 396.59h0M412.79 397.88h0M403.52 393.44h0M406.19 379.44h0M393.19 370.26h0M411.13 392.34h0M427.82 366.2h0M396.48 398.75h0M413.47 369.39h0M395.32 387.2h0M394.05 398.2h0M406.72 366.52h0M430.23 380.61h0M417.35 395.61h0M405.11 396.65h0M397.67 396.67h0M404.25 398.57h0M395.84 382.69h0M411.1 395.27h0M397.75 385.12h0M394.06 378.16h0M424.72 366.15h0M396.51 377.59h0M408.1 395.3h0M426.72 394.93h0M396.73 370.14h0M417.98 397.37h0M405.11 386.36h0M397.73 373.65h0M403.78 388.97h0M406.08 398.98h0M432.77 369.4h0M437.56 385.74h0M403.46 393.6h0M396.66 395.58h0M408.29 391.64h0M398.03 370.47h0M401.6 390.97h0M400.23 384.87h0M404.51 396.85h0M410.4 397.14h0M399.84 391.42h0M428.81 377.84h0M410.51 390.02h0M399.32 388.75h0M405.46 389.03h0M406.54 395.28h0M401.45 392.22h0M394.39 397.52h0M418.88 393.27h0M416.85 373.28h0M413.26 390.22h0M428.17 387.32h0M393.81 377.49h0M405.64 389.03h0M417.34 383.1h0M411.89 396.62h0M413.64 379.75h0M393.05 382.74h0M412.24 383.12h0M402.93 393.46h0M409.55 395.52h0M424.56 396.54h0M408.68 384.25h0M399.55 396.95h0M411.71 375.97h0M404.34 394.5h0M407.39 398.72h0M408.55 377h0M400.66 360.02h0M395.39 394.88h0M411.38 387.32h0M431.03 397.84h0M424.45 397.96h0M425.5 384.92h0M399.62 389.42h0M447.77 389.26h0M394.51 395.7h0M419.08 396.88h0M400.26 395.53h0M404.2 397.18h0M439.42 395.4h0M396.01 387.78h0M421.97 396.75h0M428.52 397.83h0M406.41 380.62h0M403.7 385.08h0M417.11 396.23h0M395.62 393.97h0M394.69 396.55h0M393.75 393.43h0M416.16 396.42h0M405.15 397.41h0M397.28 392.79h0M448.39 392.72h0M395.49 371.73h0M400.67 391.63h0M404.53 389.75h0M393.46 383.32h0M438.05 394.63h0M436.65 375.21h0M412.21 384.07h0M404.51 385.35h0M408.48 368.75h0M393.25 390.9h0M393.43 384.93h0M414.09 388.96h0M396.1 398.31h0M423.17 388.81h0M406.41 382.65h0M396.31 384.44h0M406.54 363.09h0M416.63 359.85h0M429.37 391.99h0M416.89 396.06h0M402.34 383.76h0M400.92 389.84h0M396.41 367.39h0M397.61 383.7h0M411.62 398.94h0M409.94 393.46h0M413.09 387.49h0M424.56 393.16h0M409.65 387.93h0M406.22 374.27h0M393.9 391.17h0M394.66 391.5h0M399.79 389.07h0M416.85 398.94h0M410.36 396.99h0M402.21 369.67h0M411.2 390.99h0M434.87 374.33h0M394.63 390.65h0M401.96 398.49h0M428.13 393.47h0M394.29 394.82h0M422.77 395.77h0M406.84 389.26h0M407.62 378.46h0M416.05 384.38h0M399.34 384.56h0M400.45 382.87h0M393.9 373.64h0M425.59 393.88h0M410.99 370.93h0M419.09 360.11h0M401.45 372.28h0M431.14 393.85h0M406.78 390.75h0M393.48 397.81h0M423.6 368.86h0M397.72 386.13h0M433.81 396.54h0M399.7 373.32h0M411.33 354.95h0M413.24 379.12h0M413.23 373.45h0M398.87 396.49h0M439.3 393.46h0M431.09 394.52h0M398.85 398.12h0M394.25 392.23h0M397.64 391.45h0M405.38 393.74h0M394.19 392.22h0M413.65 389.81h0M407.74 395.94h0M398.83 388.69h0M395.47 393.63h0M437.79 388.31h0M395.01 389.35h0M400.76 393.12h0M394.93 392.31h0M406.48 394.34h0M400.81 386.91h0M396.81 378.37h0M435.64 319.46h0M414.07 324.88h0M411.45 336.61h0M400.35 339.86h0M431.48 338.06h0M434.87 338.6h0M446.28 342.75h0M404.21 349.44h0M412.53 351.6h0M437.18 349.62h0M454.91 351.78h0M449.51 355.21h0M465.85 355.03h0M420.7 354.31h0M456.6 359.19h0M459.99 361.53h0M454.6 363.16h0M472.32 369.66h0M474.48 369.66h0M487.11 371.29h0M449.2 370.02h0M449.97 377.25h0M452.29 377.25h0M453.06 387.18h0M459.68 388.44h0M459.68 392.6h0M468 390.43h0M471.55 390.97h0M484.96 392.6h0M451.98 393.86h0M446.12 404.7h0M439.96 399.82h0M431.48 403.43h0M424.55 403.97h0M443.81 382.66h0M441.5 377.25h0M446.89 364.6h0M443.04 360.99h0M439.96 366.41h0M396.81 355.58h0M396.04 360.09h0M433.79 355.58h0M429.94 358.28h0M438.42 352.87h0" stroke="#c8171f" stroke-width="6.4" stroke-linecap="round" fill="none" transform="scale(1.17 1)"/>
<rect x="140.2" y="4.6" width="450.6" height="429.4" fill="none" stroke="#3a3a3a" stroke-width="1.1" />
<line x1="237.7" y1="434" x2="237.7" y2="437.6" stroke="#333" stroke-width="1.1" />
<text font-size="11.8" text-anchor="middle" textLength="24.02" lengthAdjust="spacingAndGlyphs" fill="#4d4d4d" x="237.7" y="450.3">−10</text>
<line x1="337.35" y1="434" x2="337.35" y2="437.6" stroke="#333" stroke-width="1.1" />
<text font-size="11.8" text-anchor="middle" textLength="16.14" lengthAdjust="spacingAndGlyphs" fill="#4d4d4d" x="337.35" y="450.3">−5</text>
<line x1="437" y1="434" x2="437" y2="437.6" stroke="#333" stroke-width="1.1" />
<text font-size="11.8" text-anchor="middle" textLength="7.87" lengthAdjust="spacingAndGlyphs" fill="#4d4d4d" x="437" y="450.3">0</text>
<line x1="536.65" y1="434" x2="536.65" y2="437.6" stroke="#333" stroke-width="1.1" />
<text font-size="11.8" text-anchor="middle" textLength="7.87" lengthAdjust="spacingAndGlyphs" fill="#4d4d4d" x="536.65" y="450.3">5</text>
<line x1="136.6" y1="414.5" x2="140.2" y2="414.5" stroke="#333" stroke-width="1.1" />
<text font-size="11.8" text-anchor="end" textLength="7.87" lengthAdjust="spacingAndGlyphs" fill="#4d4d4d" x="131.8" y="418.5">0</text>
<line x1="136.6" y1="266.9" x2="140.2" y2="266.9" stroke="#333" stroke-width="1.1" />
<text font-size="11.8" text-anchor="end" textLength="15.75" lengthAdjust="spacingAndGlyphs" fill="#4d4d4d" x="131.8" y="270.9">20</text>
<line x1="136.6" y1="119.3" x2="140.2" y2="119.3" stroke="#333" stroke-width="1.1" />
<text font-size="11.8" text-anchor="end" textLength="15.75" lengthAdjust="spacingAndGlyphs" fill="#4d4d4d" x="131.8" y="123.3">40</text>
<text font-size="25.8" text-anchor="middle" textLength="75.5" lengthAdjust="spacingAndGlyphs" x="380.3" y="467.9">logFC</text>
<text font-size="28.6" text-anchor="middle" textLength="183" lengthAdjust="spacingAndGlyphs" transform="translate(107.7 183) rotate(-90)">−log10(P.Value)</text>
<text font-size="19.6" textLength="101.8" lengthAdjust="spacingAndGlyphs" x="602" y="184.3">Significant</text>
<ellipse cx="631" cy="206.2" rx="3.8" ry="3.4" fill="#334b9b"/>
<text font-size="14.6" textLength="46.8" lengthAdjust="spacingAndGlyphs" x="654.2" y="210.3">Down</text>
<ellipse cx="631" cy="230.4" rx="3.8" ry="3.4" fill="#bebebe"/>
<text font-size="14.6" textLength="28.5" lengthAdjust="spacingAndGlyphs" x="654.2" y="234.5">Not</text>
<ellipse cx="631" cy="254.7" rx="3.8" ry="3.4" fill="#c8171f"/>
<text font-size="14.6" textLength="23" lengthAdjust="spacingAndGlyphs" x="654.2" y="258.8">Up</text>
</g>
<g id="b">
<defs><clipPath id="cg"><circle cx="882" cy="177.8" r="118.5"/></clipPath><clipPath id="cb"><circle cx="1036.3" cy="177.8" r="118.5"/></clipPath><clipPath id="cgb"><circle cx="1036.3" cy="177.8" r="118.5" clip-path="url(#cg)"/></clipPath></defs>
<circle cx="882" cy="177.8" r="118.5" fill="#95af99"/>
<circle cx="1036.3" cy="177.8" r="118.5" fill="#b3c8e2"/>
<circle cx="1036.3" cy="177.8" r="118.5" fill="#85a0ac" clip-path="url(#cg)"/>
<circle cx="959.2" cy="304.3" r="118.5" fill="#dfabb0"/>
<circle cx="959.2" cy="304.3" r="118.5" fill="#b88c7a" clip-path="url(#cg)"/>
<circle cx="959.2" cy="304.3" r="118.5" fill="#c49aa0" clip-path="url(#cb)"/>
<circle cx="959.2" cy="304.3" r="118.5" fill="#ac8682" clip-path="url(#cgb)"/>
<text font-size="21" textLength="107.6" lengthAdjust="spacingAndGlyphs" fill="#3d6b35" x="751.4" y="57.9">Gem res up</text>
<text font-size="21" textLength="29" lengthAdjust="spacingAndGlyphs" fill="#5b84bf" x="1098.8" y="61.9">OS</text>
<text font-size="21" textLength="83.5" lengthAdjust="spacingAndGlyphs" fill="#c8505c" x="923" y="440.4">DEGs up</text>
<text font-size="22.5" font-weight="bold" text-anchor="middle" textLength="39.7" lengthAdjust="spacingAndGlyphs" x="842.35" y="150">985</text>
<text font-size="22.5" font-weight="bold" text-anchor="middle" textLength="39.4" lengthAdjust="spacingAndGlyphs" x="963.2" y="150">122</text>
<text font-size="22.5" font-weight="bold" text-anchor="middle" textLength="52.7" lengthAdjust="spacingAndGlyphs" x="1081.15" y="150">2037</text>
<text font-size="22.5" font-weight="bold" text-anchor="middle" textLength="26.4" lengthAdjust="spacingAndGlyphs" x="964.3" y="223.4">36</text>
<text font-size="22.5" font-weight="bold" text-anchor="middle" textLength="37.6" lengthAdjust="spacingAndGlyphs" x="891.6" y="268.2">121</text>
<text font-size="22.5" font-weight="bold" text-anchor="middle" textLength="39.2" lengthAdjust="spacingAndGlyphs" x="1040.1" y="268.2">132</text>
<text font-size="22.5" font-weight="bold" text-anchor="middle" textLength="50.4" lengthAdjust="spacingAndGlyphs" x="967.5" y="376">1169</text>
</g>
<g id="c">
<path d="M1257.5 78.5H1710.6M1257.5 89.82V78.5M1270.09 78.5V89.82M1257.5 89.82H1710.6M1270.09 89.82H1710.6M1270.09 101.14V89.82M1282.67 78.5V101.14M1270.09 101.14H1710.6M1282.67 101.14H1710.6M1282.67 112.47V101.14M1295.26 78.5V112.47M1282.67 112.47H1710.6M1295.26 112.47H1710.6M1295.26 123.79V112.47M1307.84 78.5V123.79M1295.26 123.79H1710.6M1307.84 123.79H1710.6M1307.84 135.11V123.79M1320.43 78.5V135.11M1307.84 135.11H1710.6M1320.43 135.11H1710.6M1320.43 146.43V135.11M1333.02 78.5V146.43M1320.43 146.43H1710.6M1333.02 146.43H1710.6M1333.02 157.76V146.43M1345.6 78.5V157.76M1333.02 157.76H1710.6M1345.6 157.76H1710.6M1345.6 169.08V157.76M1358.19 78.5V169.08M1345.6 169.08H1710.6M1358.19 169.08H1710.6M1358.19 180.4V169.08M1370.78 78.5V180.4M1358.19 180.4H1710.6M1370.78 180.4H1710.6M1370.78 191.72V180.4M1383.36 78.5V191.72M1370.78 191.72H1710.6M1383.36 191.72H1710.6M1383.36 203.04V191.72M1395.95 78.5V203.04M1383.36 203.04H1710.6M1395.95 203.04H1710.6M1395.95 214.37V203.04M1408.53 78.5V214.37M1395.95 214.37H1710.6M1408.53 214.37H1710.6M1408.53 225.69V214.37M1421.12 78.5V225.69M1408.53 225.69H1710.6M1421.12 225.69H1710.6M1421.12 237.01V225.69M1433.71 78.5V237.01M1421.12 237.01H1710.6M1433.71 237.01H1710.6M1433.71 248.33V237.01M1446.29 78.5V248.33M1433.71 248.33H1710.6M1446.29 248.33H1710.6M1446.29 259.66V248.33M1458.88 78.5V259.66M1446.29 259.66H1710.6M1458.88 259.66H1710.6M1458.88 270.98V259.66M1471.46 78.5V270.98M1458.88 270.98H1710.6M1471.46 270.98H1710.6M1471.46 282.3V270.98M1484.05 78.5V282.3M1471.46 282.3H1710.6M1484.05 282.3H1710.6M1484.05 293.62V282.3M1496.64 78.5V293.62M1484.05 293.62H1710.6M1496.64 293.62H1710.6M1496.64 304.94V293.62M1509.22 78.5V304.94M1496.64 304.94H1710.6M1509.22 304.94H1710.6M1509.22 316.27V304.94M1521.81 78.5V316.27M1509.22 316.27H1710.6M1521.81 316.27H1710.6M1521.81 327.59V316.27M1534.39 78.5V327.59M1521.81 327.59H1710.6M1534.39 327.59H1710.6M1534.39 338.91V327.59M1546.98 78.5V338.91M1534.39 338.91H1710.6M1546.98 338.91H1710.6M1546.98 350.23V338.91M1559.57 78.5V350.23M1546.98 350.23H1710.6M1559.57 350.23H1710.6M1559.57 361.56V350.23M1572.15 78.5V361.56M1559.57 361.56H1710.6M1572.15 361.56H1710.6M1572.15 372.88V361.56M1584.74 78.5V372.88M1572.15 372.88H1710.6M1584.74 372.88H1710.6M1584.74 384.2V372.88M1597.32 78.5V384.2M1584.74 384.2H1710.6M1597.32 384.2H1710.6M1597.32 395.52V384.2M1609.91 78.5V395.52M1597.32 395.52H1710.6M1609.91 395.52H1710.6M1609.91 406.84V395.52M1622.5 78.5V406.84M1609.91 406.84H1710.6M1622.5 406.84H1710.6M1622.5 418.17V406.84M1635.08 78.5V418.17M1622.5 418.17H1710.6M1635.08 418.17H1710.6M1635.08 429.49V418.17M1647.67 78.5V429.49M1635.08 429.49H1710.6M1647.67 429.49H1710.6M1647.67 440.81V429.49M1660.26 78.5V440.81M1647.67 440.81H1710.6M1660.26 440.81H1710.6M1660.26 452.13V440.81M1672.84 78.5V452.13M1660.26 452.13H1710.6M1672.84 452.13H1710.6M1672.84 463.46V452.13M1685.43 78.5V463.46M1672.84 463.46H1710.6M1685.43 463.46H1710.6M1685.43 474.78V463.46M1698.01 78.5V474.78M1685.43 474.78H1710.6M1698.01 474.78H1710.6M1698.01 486.1V474.78M1710.6 78.5V486.1M1698.01 486.1H1710.6" stroke="#c3c3c3" stroke-width="1" fill="none"/>
<ellipse cx="1263.79" cy="84.16" rx="5.66" ry="5.21" fill="#c81820"/>
<ellipse cx="1276.38" cy="84.16" rx="3.96" ry="3.57" fill="#e48e92"/>
<ellipse cx="1288.97" cy="84.16" rx="4.35" ry="3.91" fill="#df777b"/>
<ellipse cx="1301.55" cy="84.16" rx="4.35" ry="3.91" fill="#df777b"/>
<ellipse cx="1314.14" cy="84.16" rx="3.96" ry="3.57" fill="#e48e92"/>
<ellipse cx="1326.72" cy="84.16" rx="3.96" ry="3.57" fill="#e48e92"/>
<ellipse cx="1339.31" cy="84.16" rx="4.7" ry="4.23" fill="#d96065"/>
<ellipse cx="1351.9" cy="84.16" rx="3.54" ry="3.18" fill="#eaa5a8"/>
<ellipse cx="1364.48" cy="84.16" rx="3.96" ry="3.57" fill="#e48e92"/>
<ellipse cx="1377.07" cy="84.16" rx="4.35" ry="3.91" fill="#df777b"/>
<ellipse cx="1389.65" cy="84.16" rx="4.7" ry="4.23" fill="#d96065"/>
<ellipse cx="1402.24" cy="84.16" rx="3.96" ry="3.57" fill="#e48e92"/>
<ellipse cx="1414.83" cy="84.16" rx="4.7" ry="4.23" fill="#d96065"/>
<ellipse cx="1427.41" cy="84.16" rx="2.27" ry="2.04" fill="#f6dadb"/>
<ellipse cx="1440" cy="84.16" rx="2.27" ry="2.04" fill="#f6dadb"/>
<ellipse cx="1452.58" cy="84.16" rx="3.54" ry="3.18" fill="#eaa5a8"/>
<ellipse cx="1465.17" cy="84.16" rx="0.57" ry="0.51" fill="#fefdfd"/>
<ellipse cx="1477.76" cy="84.16" rx="3.05" ry="2.74" fill="#efbcbe"/>
<ellipse cx="1490.34" cy="84.16" rx="4.35" ry="3.91" fill="#df777b"/>
<ellipse cx="1502.93" cy="84.16" rx="4.7" ry="4.23" fill="#d96065"/>
<ellipse cx="1515.52" cy="84.16" rx="3.05" ry="2.74" fill="#efbcbe"/>
<ellipse cx="1528.1" cy="84.16" rx="3.96" ry="3.57" fill="#e48e92"/>
<ellipse cx="1540.69" cy="84.16" rx="3.54" ry="3.18" fill="#eaa5a8"/>
<ellipse cx="1553.27" cy="84.16" rx="3.05" ry="2.74" fill="#efbcbe"/>
<ellipse cx="1565.86" cy="84.16" rx="3.54" ry="3.18" fill="#eaa5a8"/>
<ellipse cx="1578.45" cy="84.16" rx="3.05" ry="2.74" fill="#efbcbe"/>
<ellipse cx="1591.03" cy="84.16" rx="3.96" ry="3.57" fill="#e48e92"/>
<ellipse cx="1603.62" cy="84.16" rx="3.54" ry="3.18" fill="#eaa5a8"/>
<ellipse cx="1616.2" cy="84.16" rx="2.27" ry="2.04" fill="#f6dadb"/>
<ellipse cx="1628.79" cy="84.16" rx="2.27" ry="2.04" fill="#f6dadb"/>
<ellipse cx="1641.38" cy="84.16" rx="3.05" ry="2.74" fill="#efbcbe"/>
<ellipse cx="1653.96" cy="84.16" rx="3.05" ry="2.74" fill="#efbcbe"/>
<ellipse cx="1666.55" cy="84.16" rx="0.57" ry="0.51" fill="#fefdfd"/>
<ellipse cx="1679.13" cy="84.16" rx="1.7" ry="1.53" fill="#edeff6"/>
<ellipse cx="1691.72" cy="84.16" rx="1.7" ry="1.53" fill="#edeff6"/>
<ellipse cx="1704.31" cy="84.16" rx="2.27" ry="2.04" fill="#f6dadb"/>
<ellipse cx="1276.38" cy="95.48" rx="5.66" ry="5.21" fill="#c81820"/>
<ellipse cx="1288.97" cy="95.48" rx="4.7" ry="4.23" fill="#d96065"/>
<ellipse cx="1301.55" cy="95.48" rx="4.7" ry="4.23" fill="#d96065"/>
<ellipse cx="1314.14" cy="95.48" rx="5.03" ry="4.53" fill="#d4494f"/>
<ellipse cx="1326.72" cy="95.48" rx="4.7" ry="4.23" fill="#d96065"/>
<ellipse cx="1339.31" cy="95.48" rx="4.35" ry="3.91" fill="#df777b"/>
<ellipse cx="1351.9" cy="95.48" rx="3.54" ry="3.18" fill="#eaa5a8"/>
<ellipse cx="1364.48" cy="95.48" rx="3.54" ry="3.18" fill="#eaa5a8"/>
<ellipse cx="1377.07" cy="95.48" rx="4.35" ry="3.91" fill="#df777b"/>
<ellipse cx="1389.65" cy="95.48" rx="3.96" ry="3.57" fill="#e48e92"/>
<ellipse cx="1402.24" cy="95.48" rx="3.54" ry="3.18" fill="#eaa5a8"/>
<ellipse cx="1414.83" cy="95.48" rx="3.96" ry="3.57" fill="#e48e92"/>
<ellipse cx="1427.41" cy="95.48" rx="4.7" ry="4.23" fill="#d96065"/>
<ellipse cx="1440" cy="95.48" rx="3.96" ry="3.57" fill="#e48e92"/>
<ellipse cx="1452.58" cy="95.48" rx="3.05" ry="2.74" fill="#efbcbe"/>
<ellipse cx="1465.17" cy="95.48" rx="2.27" ry="2.04" fill="#f6dadb"/>
<ellipse cx="1477.76" cy="95.48" rx="4.35" ry="3.91" fill="#df777b"/>
<ellipse cx="1490.34" cy="95.48" rx="3.96" ry="3.57" fill="#e48e92"/>
<ellipse cx="1502.93" cy="95.48" rx="3.96" ry="3.57" fill="#e48e92"/>
<ellipse cx="1515.52" cy="95.48" rx="4.35" ry="3.91" fill="#df777b"/>
<ellipse cx="1528.1" cy="95.48" rx="4.7" ry="4.23" fill="#d96065"/>
<ellipse cx="1540.69" cy="95.48" rx="4.35" ry="3.91" fill="#df777b"/>
<ellipse cx="1553.27" cy="95.48" rx="5.03" ry="4.53" fill="#d4494f"/>
<ellipse cx="1565.86" cy="95.48" rx="4.7" ry="4.23" fill="#d96065"/>
<ellipse cx="1578.45" cy="95.48" rx="5.03" ry="4.53" fill="#d4494f"/>
<ellipse cx="1591.03" cy="95.48" rx="4.35" ry="3.91" fill="#df777b"/>
<ellipse cx="1603.62" cy="95.48" rx="3.96" ry="3.57" fill="#e48e92"/>
<ellipse cx="1616.2" cy="95.48" rx="0.57" ry="0.51" fill="#fefdfd"/>
<ellipse cx="1628.79" cy="95.48" rx="0.57" ry="0.51" fill="#fefdfd"/>
<ellipse cx="1641.38" cy="95.48" rx="3.05" ry="2.74" fill="#efbcbe"/>
<ellipse cx="1653.96" cy="95.48" rx="1.7" ry="1.53" fill="#edeff6"/>
<ellipse cx="1666.55" cy="95.48" rx="1.7" ry="1.53" fill="#edeff6"/>
<ellipse cx="1679.13" cy="95.48" rx="3.05" ry="2.74" fill="#efbcbe"/>
<ellipse cx="1691.72" cy="95.48" rx="2.27" ry="2.04" fill="#f6dadb"/>
<ellipse cx="1704.31" cy="95.48" rx="2.27" ry="2.04" fill="#f6dadb"/>
<ellipse cx="1288.97" cy="106.81" rx="5.66" ry="5.21" fill="#c81820"/>
<ellipse cx="1301.55" cy="106.81" rx="5.03" ry="4.53" fill="#d4494f"/>
<ellipse cx="1314.14" cy="106.81" rx="5.03" ry="4.53" fill="#d4494f"/>
<ellipse cx="1326.72" cy="106.81" rx="4.7" ry="4.23" fill="#d96065"/>
<ellipse cx="1339.31" cy="106.81" rx="4.7" ry="4.23" fill="#d96065"/>
<ellipse cx="1351.9" cy="106.81" rx="3.96" ry="3.57" fill="#e48e92"/>
<ellipse cx="1364.48" cy="106.81" rx="4.7" ry="4.23" fill="#d96065"/>
<ellipse cx="1377.07" cy="106.81" rx="4.7" ry="4.23" fill="#d96065"/>
<ellipse cx="1389.65" cy="106.81" rx="5.03" ry="4.53" fill="#d4494f"/>
<ellipse cx="1402.24" cy="106.81" rx="4.35" ry="3.91" fill="#df777b"/>
<ellipse cx="1414.83" cy="106.81" rx="5.03" ry="4.53" fill="#d4494f"/>
<ellipse cx="1427.41" cy="106.81" rx="4.35" ry="3.91" fill="#df777b"/>
<ellipse cx="1440" cy="106.81" rx="3.54" ry="3.18" fill="#eaa5a8"/>
<ellipse cx="1452.58" cy="106.81" rx="3.54" ry="3.18" fill="#eaa5a8"/>
<ellipse cx="1465.17" cy="106.81" rx="2.27" ry="2.04" fill="#f6dadb"/>
<ellipse cx="1477.76" cy="106.81" rx="3.54" ry="3.18" fill="#eaa5a8"/>
<ellipse cx="1490.34" cy="106.81" rx="5.03" ry="4.53" fill="#d4494f"/>
<ellipse cx="1502.93" cy="106.81" rx="5.03" ry="4.53" fill="#d4494f"/>
<ellipse cx="1515.52" cy="106.81" rx="3.54" ry="3.18" fill="#eaa5a8"/>
<ellipse cx="1528.1" cy="106.81" rx="4.7" ry="4.23" fill="#d96065"/>
<ellipse cx="1540.69" cy="106.81" rx="4.35" ry="3.91" fill="#df777b"/>
<ellipse cx="1553.27" cy="106.81" rx="3.96" ry="3.57" fill="#e48e92"/>
<ellipse cx="1565.86" cy="106.81" rx="4.35" ry="3.91" fill="#df777b"/>
<ellipse cx="1578.45" cy="106.81" rx="5.03" ry="4.53" fill="#d4494f"/>
<ellipse cx="1591.03" cy="106.81" rx="5.03" ry="4.53" fill="#d4494f"/>
<ellipse cx="1603.62" cy="106.81" rx="4.35" ry="3.91" fill="#df777b"/>
<ellipse cx="1616.2" cy="106.81" rx="3.05" ry="2.74" fill="#efbcbe"/>
<ellipse cx="1628.79" cy="106.81" rx="3.05" ry="2.74" fill="#efbcbe"/>
<ellipse cx="1641.38" cy="106.81" rx="3.54" ry="3.18" fill="#eaa5a8"/>
<ellipse cx="1653.96" cy="106.81" rx="0.57" ry="0.51" fill="#fefdfd"/>
<ellipse cx="1666.55" cy="106.81" rx="0.57" ry="0.51" fill="#fefdfd"/>
<ellipse cx="1679.13" cy="106.81" rx="2.27" ry="2.04" fill="#f6dadb"/>
<ellipse cx="1691.72" cy="106.81" rx="0.57" ry="0.51" fill="#fefdfd"/>
<ellipse cx="1704.31" cy="106.81" rx="0.57" ry="0.51" fill="#fefdfd"/>
<ellipse cx="1301.55" cy="118.13" rx="5.66" ry="5.21" fill="#c81820"/>
<ellipse cx="1314.14" cy="118.13" rx="5.03" ry="4.53" fill="#d4494f"/>
<ellipse cx="1326.72" cy="118.13" rx="4.7" ry="4.23" fill="#d96065"/>
<ellipse cx="1339.31" cy="118.13" rx="5.03" ry="4.53" fill="#d4494f"/>
<ellipse cx="1351.9" cy="118.13" rx="4.35" ry="3.91" fill="#df777b"/>
<ellipse cx="1364.48" cy="118.13" rx="4.7" ry="4.23" fill="#d96065"/>
<ellipse cx="1377.07" cy="118.13" rx="5.03" ry="4.53" fill="#d4494f"/>
<ellipse cx="1389.65" cy="118.13" rx="4.7" ry="4.23" fill="#d96065"/>
<ellipse cx="1402.24" cy="118.13" rx="4.7" ry="4.23" fill="#d96065"/>
<ellipse cx="1414.83" cy="118.13" rx="5.03" ry="4.53" fill="#d4494f"/>
<ellipse cx="1427.41" cy="118.13" rx="3.54" ry="3.18" fill="#eaa5a8"/>
<ellipse cx="1440" cy="118.13" rx="3.05" ry="2.74" fill="#efbcbe"/>
<ellipse cx="1452.58" cy="118.13" rx="3.96" ry="3.57" fill="#e48e92"/>
<ellipse cx="1465.17" cy="118.13" rx="2.27" ry="2.04" fill="#f6dadb"/>
<ellipse cx="1477.76" cy="118.13" rx="4.35" ry="3.91" fill="#df777b"/>
<ellipse cx="1490.34" cy="118.13" rx="5.03" ry="4.53" fill="#d4494f"/>
<ellipse cx="1502.93" cy="118.13" rx="5.25" ry="4.72" fill="#d0383f"/>
<ellipse cx="1515.52" cy="118.13" rx="3.54" ry="3.18" fill="#eaa5a8"/>
<ellipse cx="1528.1" cy="118.13" rx="4.35" ry="3.91" fill="#df777b"/>
<ellipse cx="1540.69" cy="118.13" rx="4.35" ry="3.91" fill="#df777b"/>
<ellipse cx="1553.27" cy="118.13" rx="4.35" ry="3.91" fill="#df777b"/>
<ellipse cx="1565.86" cy="118.13" rx="3.96" ry="3.57" fill="#e48e92"/>
<ellipse cx="1578.45" cy="118.13" rx="4.7" ry="4.23" fill="#d96065"/>
<ellipse cx="1591.03" cy="118.13" rx="5.25" ry="4.72" fill="#d0383f"/>
<ellipse cx="1603.62" cy="118.13" rx="4.7" ry="4.23" fill="#d96065"/>
<ellipse cx="1616.2" cy="118.13" rx="2.27" ry="2.04" fill="#f6dadb"/>
<ellipse cx="1628.79" cy="118.13" rx="3.05" ry="2.74" fill="#efbcbe"/>
<ellipse cx="1641.38" cy="118.13" rx="3.96" ry="3.57" fill="#e48e92"/>
<ellipse cx="1653.96" cy="118.13" rx="0.57" ry="0.51" fill="#fefdfd"/>
<ellipse cx="1666.55" cy="118.13" rx="0.57" ry="0.51" fill="#fefdfd"/>
<ellipse cx="1679.13" cy="118.13" rx="3.54" ry="3.18" fill="#eaa5a8"/>
<ellipse cx="1691.72" cy="118.13" rx="0.57" ry="0.51" fill="#fefdfd"/>
<ellipse cx="1704.31" cy="118.13" rx="0.57" ry="0.51" fill="#fefdfd"/>
<ellipse cx="1314.14" cy="129.45" rx="5.66" ry="5.21" fill="#c81820"/>
<ellipse cx="1326.72" cy="129.45" rx="4.35" ry="3.91" fill="#df777b"/>
<ellipse cx="1339.31" cy="129.45" rx="4.35" ry="3.91" fill="#df777b"/>
<ellipse cx="1351.9" cy="129.45" rx="4.7" ry="4.23" fill="#d96065"/>
<ellipse cx="1364.48" cy="129.45" rx="4.35" ry="3.91" fill="#df777b"/>
<ellipse cx="1377.07" cy="129.45" rx="4.7" ry="4.23" fill="#d96065"/>
<ellipse cx="1389.65" cy="129.45" rx="4.35" ry="3.91" fill="#df777b"/>
<ellipse cx="1402.24" cy="129.45" rx="3.96" ry="3.57" fill="#e48e92"/>
<ellipse cx="1414.83" cy="129.45" rx="4.7" ry="4.23" fill="#d96065"/>
<ellipse cx="1427.41" cy="129.45" rx="3.54" ry="3.18" fill="#eaa5a8"/>
<ellipse cx="1440" cy="129.45" rx="2.27" ry="2.04" fill="#f6dadb"/>
<ellipse cx="1452.58" cy="129.45" rx="3.05" ry="2.74" fill="#efbcbe"/>
<ellipse cx="1465.17" cy="129.45" rx="2.27" ry="2.04" fill="#f6dadb"/>
<ellipse cx="1477.76" cy="129.45" rx="3.96" ry="3.57" fill="#e48e92"/>
<ellipse cx="1490.34" cy="129.45" rx="5.03" ry="4.53" fill="#d4494f"/>
<ellipse cx="1502.93" cy="129.45" rx="5.03" ry="4.53" fill="#d4494f"/>
<ellipse cx="1515.52" cy="129.45" rx="3.54" ry="3.18" fill="#eaa5a8"/>
<ellipse cx="1528.1" cy="129.45" rx="5.03" ry="4.53" fill="#d4494f"/>
<ellipse cx="1540.69" cy="129.45" rx="4.7" ry="4.23" fill="#d96065"/>
<ellipse cx="1553.27" cy="129.45" rx="5.03" ry="4.53" fill="#d4494f"/>
<ellipse cx="1565.86" cy="129.45" rx="4.35" ry="3.91" fill="#df777b"/>
<ellipse cx="1578.45" cy="129.45" rx="5.25" ry="4.72" fill="#d0383f"/>
<ellipse cx="1591.03" cy="129.45" rx="5.25" ry="4.72" fill="#d0383f"/>
<ellipse cx="1603.62" cy="129.45" rx="4.7" ry="4.23" fill="#d96065"/>
<ellipse cx="1616.2" cy="129.45" rx="2.27" ry="2.04" fill="#f6dadb"/>
<ellipse cx="1628.79" cy="129.45" rx="2.27" ry="2.04" fill="#f6dadb"/>
<ellipse cx="1641.38" cy="129.45" rx="3.54" ry="3.18" fill="#eaa5a8"/>
<ellipse cx="1653.96" cy="129.45" rx="0.57" ry="0.51" fill="#fefdfd"/>
<ellipse cx="1666.55" cy="129.45" rx="0.57" ry="0.51" fill="#fefdfd"/>
<ellipse cx="1679.13" cy="129.45" rx="3.96" ry="3.57" fill="#e48e92"/>
<ellipse cx="1691.72" cy="129.45" rx="3.54" ry="3.18" fill="#eaa5a8"/>
<ellipse cx="1704.31" cy="129.45" rx="2.27" ry="2.04" fill="#f6dadb"/>
<ellipse cx="1326.72" cy="140.77" rx="5.66" ry="5.21" fill="#c81820"/>
<ellipse cx="1339.31" cy="140.77" rx="4.7" ry="4.23" fill="#d96065"/>
<ellipse cx="1351.9" cy="140.77" rx="3.96" ry="3.57" fill="#e48e92"/>
<ellipse cx="1364.48" cy="140.77" rx="4.35" ry="3.91" fill="#df777b"/>
<ellipse cx="1377.07" cy="140.77" rx="4.7" ry="4.23" fill="#d96065"/>
<ellipse cx="1389.65" cy="140.77" rx="4.7" ry="4.23" fill="#d96065"/>
<ellipse cx="1402.24" cy="140.77" rx="4.35" ry="3.91" fill="#df777b"/>
<ellipse cx="1414.83" cy="140.77" rx="4.7" ry="4.23" fill="#d96065"/>
<ellipse cx="1427.41" cy="140.77" rx="3.96" ry="3.57" fill="#e48e92"/>
<ellipse cx="1440" cy="140.77" rx="3.54" ry="3.18" fill="#eaa5a8"/>
<ellipse cx="1452.58" cy="140.77" rx="3.54" ry="3.18" fill="#eaa5a8"/>
<ellipse cx="1465.17" cy="140.77" rx="2.27" ry="2.04" fill="#f6dadb"/>
<ellipse cx="1477.76" cy="140.77" rx="3.96" ry="3.57" fill="#e48e92"/>
<ellipse cx="1490.34" cy="140.77" rx="3.96" ry="3.57" fill="#e48e92"/>
<ellipse cx="1502.93" cy="140.77" rx="4.35" ry="3.91" fill="#df777b"/>
<ellipse cx="1515.52" cy="140.77" rx="3.96" ry="3.57" fill="#e48e92"/>
<ellipse cx="1528.1" cy="140.77" rx="4.35" ry="3.91" fill="#df777b"/>
<ellipse cx="1540.69" cy="140.77" rx="3.96" ry="3.57" fill="#e48e92"/>
<ellipse cx="1553.27" cy="140.77" rx="3.96" ry="3.57" fill="#e48e92"/>
<ellipse cx="1565.86" cy="140.77" rx="5.03" ry="4.53" fill="#d4494f"/>
<ellipse cx="1578.45" cy="140.77" rx="3.96" ry="3.57" fill="#e48e92"/>
<ellipse cx="1591.03" cy="140.77" rx="4.7" ry="4.23" fill="#d96065"/>
<ellipse cx="1603.62" cy="140.77" rx="3.96" ry="3.57" fill="#e48e92"/>
<ellipse cx="1616.2" cy="140.77" rx="2.27" ry="2.04" fill="#f6dadb"/>
<ellipse cx="1628.79" cy="140.77" rx="2.27" ry="2.04" fill="#f6dadb"/>
<ellipse cx="1641.38" cy="140.77" rx="3.05" ry="2.74" fill="#efbcbe"/>
<ellipse cx="1653.96" cy="140.77" rx="0.57" ry="0.51" fill="#fefdfd"/>
<ellipse cx="1666.55" cy="140.77" rx="0.57" ry="0.51" fill="#fefdfd"/>
<ellipse cx="1679.13" cy="140.77" rx="3.05" ry="2.74" fill="#efbcbe"/>
<ellipse cx="1691.72" cy="140.77" rx="1.7" ry="1.53" fill="#edeff6"/>
<ellipse cx="1704.31" cy="140.77" rx="0.57" ry="0.51" fill="#fefdfd"/>
<ellipse cx="1339.31" cy="152.09" rx="5.66" ry="5.21" fill="#c81820"/>
<ellipse cx="1351.9" cy="152.09" rx="3.96" ry="3.57" fill="#e48e92"/>
<ellipse cx="1364.48" cy="152.09" rx="4.35" ry="3.91" fill="#df777b"/>
<ellipse cx="1377.07" cy="152.09" rx="5.03" ry="4.53" fill="#d4494f"/>
<ellipse cx="1389.65" cy="152.09" rx="3.96" ry="3.57" fill="#e48e92"/>
<ellipse cx="1402.24" cy="152.09" rx="4.7" ry="4.23" fill="#d96065"/>
<ellipse cx="1414.83" cy="152.09" rx="4.7" ry="4.23" fill="#d96065"/>
<ellipse cx="1427.41" cy="152.09" rx="3.05" ry="2.74" fill="#efbcbe"/>
<ellipse cx="1440" cy="152.09" rx="3.05" ry="2.74" fill="#efbcbe"/>
<ellipse cx="1452.58" cy="152.09" rx="3.96" ry="3.57" fill="#e48e92"/>
<ellipse cx="1465.17" cy="152.09" rx="0.57" ry="0.51" fill="#fefdfd"/>
<ellipse cx="1477.76" cy="152.09" rx="4.35" ry="3.91" fill="#df777b"/>
<ellipse cx="1490.34" cy="152.09" rx="3.54" ry="3.18" fill="#eaa5a8"/>
<ellipse cx="1502.93" cy="152.09" rx="4.7" ry="4.23" fill="#d96065"/>
<ellipse cx="1515.52" cy="152.09" rx="2.27" ry="2.04" fill="#f6dadb"/>
<ellipse cx="1528.1" cy="152.09" rx="2.27" ry="2.04" fill="#f6dadb"/>
<ellipse cx="1540.69" cy="152.09" rx="3.05" ry="2.74" fill="#efbcbe"/>
<ellipse cx="1553.27" cy="152.09" rx="2.27" ry="2.04" fill="#f6dadb"/>
<ellipse cx="1565.86" cy="152.09" rx="3.54" ry="3.18" fill="#eaa5a8"/>
<ellipse cx="1578.45" cy="152.09" rx="3.54" ry="3.18" fill="#eaa5a8"/>
<ellipse cx="1591.03" cy="152.09" rx="4.35" ry="3.91" fill="#df777b"/>
<ellipse cx="1603.62" cy="152.09" rx="3.54" ry="3.18" fill="#eaa5a8"/>
<ellipse cx="1616.2" cy="152.09" rx="3.05" ry="2.74" fill="#efbcbe"/>
<ellipse cx="1628.79" cy="152.09" rx="3.05" ry="2.74" fill="#efbcbe"/>
<ellipse cx="1641.38" cy="152.09" rx="3.54" ry="3.18" fill="#eaa5a8"/>
<ellipse cx="1653.96" cy="152.09" rx="2.27" ry="2.04" fill="#f6dadb"/>
<ellipse cx="1666.55" cy="152.09" rx="2.27" ry="2.04" fill="#f6dadb"/>
<ellipse cx="1679.13" cy="152.09" rx="2.27" ry="2.04" fill="#f6dadb"/>
<ellipse cx="1691.72" cy="152.09" rx="1.7" ry="1.53" fill="#edeff6"/>
<ellipse cx="1704.31" cy="152.09" rx="0.57" ry="0.51" fill="#fefdfd"/>
<ellipse cx="1351.9" cy="163.42" rx="5.66" ry="5.21" fill="#c81820"/>
<ellipse cx="1364.48" cy="163.42" rx="3.96" ry="3.57" fill="#e48e92"/>
<ellipse cx="1377.07" cy="163.42" rx="4.35" ry="3.91" fill="#df777b"/>
<ellipse cx="1389.65" cy="163.42" rx="3.96" ry="3.57" fill="#e48e92"/>
<ellipse cx="1402.24" cy="163.42" rx="3.54" ry="3.18" fill="#eaa5a8"/>
<ellipse cx="1414.83" cy="163.42" rx="3.96" ry="3.57" fill="#e48e92"/>
<ellipse cx="1427.41" cy="163.42" rx="0.57" ry="0.51" fill="#fefdfd"/>
<ellipse cx="1440" cy="163.42" rx="0.57" ry="0.51" fill="#fefdfd"/>
<ellipse cx="1452.58" cy="163.42" rx="3.54" ry="3.18" fill="#eaa5a8"/>
<ellipse cx="1465.17" cy="163.42" rx="0.57" ry="0.51" fill="#fefdfd"/>
<ellipse cx="1477.76" cy="163.42" rx="3.54" ry="3.18" fill="#eaa5a8"/>
<ellipse cx="1490.34" cy="163.42" rx="4.35" ry="3.91" fill="#df777b"/>
<ellipse cx="1502.93" cy="163.42" rx="4.35" ry="3.91" fill="#df777b"/>
<ellipse cx="1515.52" cy="163.42" rx="2.27" ry="2.04" fill="#f6dadb"/>
<ellipse cx="1528.1" cy="163.42" rx="3.54" ry="3.18" fill="#eaa5a8"/>
<ellipse cx="1540.69" cy="163.42" rx="3.05" ry="2.74" fill="#efbcbe"/>
<ellipse cx="1553.27" cy="163.42" rx="3.54" ry="3.18" fill="#eaa5a8"/>
<ellipse cx="1565.86" cy="163.42" rx="3.05" ry="2.74" fill="#efbcbe"/>
<ellipse cx="1578.45" cy="163.42" rx="3.96" ry="3.57" fill="#e48e92"/>
<ellipse cx="1591.03" cy="163.42" rx="4.7" ry="4.23" fill="#d96065"/>
<ellipse cx="1603.62" cy="163.42" rx="3.96" ry="3.57" fill="#e48e92"/>
<ellipse cx="1616.2" cy="163.42" rx="2.27" ry="2.04" fill="#f6dadb"/>
<ellipse cx="1628.79" cy="163.42" rx="0.57" ry="0.51" fill="#fefdfd"/>
<ellipse cx="1641.38" cy="163.42" rx="3.05" ry="2.74" fill="#efbcbe"/>
<ellipse cx="1653.96" cy="163.42" rx="0.57" ry="0.51" fill="#fefdfd"/>
<ellipse cx="1666.55" cy="163.42" rx="0.57" ry="0.51" fill="#fefdfd"/>
<ellipse cx="1679.13" cy="163.42" rx="3.54" ry="3.18" fill="#eaa5a8"/>
<ellipse cx="1691.72" cy="163.42" rx="1.7" ry="1.53" fill="#edeff6"/>
<ellipse cx="1704.31" cy="163.42" rx="2.69" ry="2.42" fill="#d1d7ea"/>
<ellipse cx="1364.48" cy="174.74" rx="5.66" ry="5.21" fill="#c81820"/>
<ellipse cx="1377.07" cy="174.74" rx="4.35" ry="3.91" fill="#df777b"/>
<ellipse cx="1389.65" cy="174.74" rx="4.35" ry="3.91" fill="#df777b"/>
<ellipse cx="1402.24" cy="174.74" rx="4.35" ry="3.91" fill="#df777b"/>
<ellipse cx="1414.83" cy="174.74" rx="4.35" ry="3.91" fill="#df777b"/>
<ellipse cx="1427.41" cy="174.74" rx="2.27" ry="2.04" fill="#f6dadb"/>
<ellipse cx="1440" cy="174.74" rx="2.27" ry="2.04" fill="#f6dadb"/>
<ellipse cx="1452.58" cy="174.74" rx="3.05" ry="2.74" fill="#efbcbe"/>
<ellipse cx="1465.17" cy="174.74" rx="2.27" ry="2.04" fill="#f6dadb"/>
<ellipse cx="1477.76" cy="174.74" rx="3.54" ry="3.18" fill="#eaa5a8"/>
<ellipse cx="1490.34" cy="174.74" rx="4.35" ry="3.91" fill="#df777b"/>
<ellipse cx="1502.93" cy="174.74" rx="4.35" ry="3.91" fill="#df777b"/>
<ellipse cx="1515.52" cy="174.74" rx="3.05" ry="2.74" fill="#efbcbe"/>
<ellipse cx="1528.1" cy="174.74" rx="3.96" ry="3.57" fill="#e48e92"/>
<ellipse cx="1540.69" cy="174.74" rx="3.54" ry="3.18" fill="#eaa5a8"/>
<ellipse cx="1553.27" cy="174.74" rx="3.54" ry="3.18" fill="#eaa5a8"/>
<ellipse cx="1565.86" cy="174.74" rx="3.05" ry="2.74" fill="#efbcbe"/>
<ellipse cx="1578.45" cy="174.74" rx="3.54" ry="3.18" fill="#eaa5a8"/>
<ellipse cx="1591.03" cy="174.74" rx="4.7" ry="4.23" fill="#d96065"/>
<ellipse cx="1603.62" cy="174.74" rx="3.96" ry="3.57" fill="#e48e92"/>
<ellipse cx="1616.2" cy="174.74" rx="2.27" ry="2.04" fill="#f6dadb"/>
<ellipse cx="1628.79" cy="174.74" rx="2.27" ry="2.04" fill="#f6dadb"/>
<ellipse cx="1641.38" cy="174.74" rx="3.96" ry="3.57" fill="#e48e92"/>
<ellipse cx="1653.96" cy="174.74" rx="2.27" ry="2.04" fill="#f6dadb"/>
<ellipse cx="1666.55" cy="174.74" rx="0.57" ry="0.51" fill="#fefdfd"/>
<ellipse cx="1679.13" cy="174.74" rx="2.27" ry="2.04" fill="#f6dadb"/>
<ellipse cx="1691.72" cy="174.74" rx="1.7" ry="1.53" fill="#edeff6"/>
<ellipse cx="1704.31" cy="174.74" rx="0.57" ry="0.51" fill="#fefdfd"/>
<ellipse cx="1377.07" cy="186.06" rx="5.66" ry="5.21" fill="#c81820"/>
<ellipse cx="1389.65" cy="186.06" rx="4.7" ry="4.23" fill="#d96065"/>
<ellipse cx="1402.24" cy="186.06" rx="4.7" ry="4.23" fill="#d96065"/>
<ellipse cx="1414.83" cy="186.06" rx="4.7" ry="4.23" fill="#d96065"/>
<ellipse cx="1427.41" cy="186.06" rx="3.05" ry="2.74" fill="#efbcbe"/>
<ellipse cx="1440" cy="186.06" rx="2.27" ry="2.04" fill="#f6dadb"/>
<ellipse cx="1452.58" cy="186.06" rx="3.96" ry="3.57" fill="#e48e92"/>
<ellipse cx="1465.17" cy="186.06" rx="0.57" ry="0.51" fill="#fefdfd"/>
<ellipse cx="1477.76" cy="186.06" rx="4.7" ry="4.23" fill="#d96065"/>
<ellipse cx="1490.34" cy="186.06" rx="4.35" ry="3.91" fill="#df777b"/>
<ellipse cx="1502.93" cy="186.06" rx="4.7" ry="4.23" fill="#d96065"/>
<ellipse cx="1515.52" cy="186.06" rx="3.05" ry="2.74" fill="#efbcbe"/>
<ellipse cx="1528.1" cy="186.06" rx="3.54" ry="3.18" fill="#eaa5a8"/>
<ellipse cx="1540.69" cy="186.06" rx="3.54" ry="3.18" fill="#eaa5a8"/>
<ellipse cx="1553.27" cy="186.06" rx="3.54" ry="3.18" fill="#eaa5a8"/>
<ellipse cx="1565.86" cy="186.06" rx="3.54" ry="3.18" fill="#eaa5a8"/>
<ellipse cx="1578.45" cy="186.06" rx="3.96" ry="3.57" fill="#e48e92"/>
<ellipse cx="1591.03" cy="186.06" rx="4.7" ry="4.23" fill="#d96065"/>
<ellipse cx="1603.62" cy="186.06" rx="4.7" ry="4.23" fill="#d96065"/>
<ellipse cx="1616.2" cy="186.06" rx="3.05" ry="2.74" fill="#efbcbe"/>
<ellipse cx="1628.79" cy="186.06" rx="2.27" ry="2.04" fill="#f6dadb"/>
<ellipse cx="1641.38" cy="186.06" rx="3.54" ry="3.18" fill="#eaa5a8"/>
<ellipse cx="1653.96" cy="186.06" rx="2.27" ry="2.04" fill="#f6dadb"/>
<ellipse cx="1666.55" cy="186.06" rx="0.57" ry="0.51" fill="#fefdfd"/>
<ellipse cx="1679.13" cy="186.06" rx="3.05" ry="2.74" fill="#efbcbe"/>
<ellipse cx="1691.72" cy="186.06" rx="0.57" ry="0.51" fill="#fefdfd"/>
<ellipse cx="1704.31" cy="186.06" rx="2.27" ry="2.04" fill="#f6dadb"/>
<ellipse cx="1389.65" cy="197.38" rx="5.66" ry="5.21" fill="#c81820"/>
<ellipse cx="1402.24" cy="197.38" rx="4.35" ry="3.91" fill="#df777b"/>
<ellipse cx="1414.83" cy="197.38" rx="4.7" ry="4.23" fill="#d96065"/>
<ellipse cx="1427.41" cy="197.38" rx="3.54" ry="3.18" fill="#eaa5a8"/>
<ellipse cx="1440" cy="197.38" rx="3.05" ry="2.74" fill="#efbcbe"/>
<ellipse cx="1452.58" cy="197.38" rx="3.54" ry="3.18" fill="#eaa5a8"/>
<ellipse cx="1465.17" cy="197.38" rx="2.27" ry="2.04" fill="#f6dadb"/>
<ellipse cx="1477.76" cy="197.38" rx="3.96" ry="3.57" fill="#e48e92"/>
<ellipse cx="1490.34" cy="197.38" rx="5.03" ry="4.53" fill="#d4494f"/>
<ellipse cx="1502.93" cy="197.38" rx="4.7" ry="4.23" fill="#d96065"/>
<ellipse cx="1515.52" cy="197.38" rx="3.05" ry="2.74" fill="#efbcbe"/>
<ellipse cx="1528.1" cy="197.38" rx="4.35" ry="3.91" fill="#df777b"/>
<ellipse cx="1540.69" cy="197.38" rx="4.7" ry="4.23" fill="#d96065"/>
<ellipse cx="1553.27" cy="197.38" rx="3.54" ry="3.18" fill="#eaa5a8"/>
<ellipse cx="1565.86" cy="197.38" rx="4.35" ry="3.91" fill="#df777b"/>
<ellipse cx="1578.45" cy="197.38" rx="3.96" ry="3.57" fill="#e48e92"/>
<ellipse cx="1591.03" cy="197.38" rx="4.7" ry="4.23" fill="#d96065"/>
<ellipse cx="1603.62" cy="197.38" rx="4.35" ry="3.91" fill="#df777b"/>
<ellipse cx="1616.2" cy="197.38" rx="2.27" ry="2.04" fill="#f6dadb"/>
<ellipse cx="1628.79" cy="197.38" rx="0.57" ry="0.51" fill="#fefdfd"/>
<ellipse cx="1641.38" cy="197.38" rx="3.05" ry="2.74" fill="#efbcbe"/>
<ellipse cx="1653.96" cy="197.38" rx="1.7" ry="1.53" fill="#edeff6"/>
<ellipse cx="1666.55" cy="197.38" rx="0.57" ry="0.51" fill="#fefdfd"/>
<ellipse cx="1679.13" cy="197.38" rx="2.27" ry="2.04" fill="#f6dadb"/>
<ellipse cx="1691.72" cy="197.38" rx="2.27" ry="2.04" fill="#f6dadb"/>
<ellipse cx="1704.31" cy="197.38" rx="2.27" ry="2.04" fill="#f6dadb"/>
<ellipse cx="1402.24" cy="208.71" rx="5.66" ry="5.21" fill="#c81820"/>
<ellipse cx="1414.83" cy="208.71" rx="4.7" ry="4.23" fill="#d96065"/>
<ellipse cx="1427.41" cy="208.71" rx="3.05" ry="2.74" fill="#efbcbe"/>
<ellipse cx="1440" cy="208.71" rx="3.05" ry="2.74" fill="#efbcbe"/>
<ellipse cx="1452.58" cy="208.71" rx="3.54" ry="3.18" fill="#eaa5a8"/>
<ellipse cx="1465.17" cy="208.71" rx="2.27" ry="2.04" fill="#f6dadb"/>
<ellipse cx="1477.76" cy="208.71" rx="3.96" ry="3.57" fill="#e48e92"/>
<ellipse cx="1490.34" cy="208.71" rx="4.35" ry="3.91" fill="#df777b"/>
<ellipse cx="1502.93" cy="208.71" rx="3.96" ry="3.57" fill="#e48e92"/>
<ellipse cx="1515.52" cy="208.71" rx="2.27" ry="2.04" fill="#f6dadb"/>
<ellipse cx="1528.1" cy="208.71" rx="3.05" ry="2.74" fill="#efbcbe"/>
<ellipse cx="1540.69" cy="208.71" rx="3.54" ry="3.18" fill="#eaa5a8"/>
<ellipse cx="1553.27" cy="208.71" rx="3.05" ry="2.74" fill="#efbcbe"/>
<ellipse cx="1565.86" cy="208.71" rx="3.96" ry="3.57" fill="#e48e92"/>
<ellipse cx="1578.45" cy="208.71" rx="3.96" ry="3.57" fill="#e48e92"/>
<ellipse cx="1591.03" cy="208.71" rx="4.35" ry="3.91" fill="#df777b"/>
<ellipse cx="1603.62" cy="208.71" rx="3.96" ry="3.57" fill="#e48e92"/>
<ellipse cx="1616.2" cy="208.71" rx="3.05" ry="2.74" fill="#efbcbe"/>
<ellipse cx="1628.79" cy="208.71" rx="3.05" ry="2.74" fill="#efbcbe"/>
<ellipse cx="1641.38" cy="208.71" rx="3.54" ry="3.18" fill="#eaa5a8"/>
<ellipse cx="1653.96" cy="208.71" rx="2.27" ry="2.04" fill="#f6dadb"/>
<ellipse cx="1666.55" cy="208.71" rx="2.27" ry="2.04" fill="#f6dadb"/>
<ellipse cx="1679.13" cy="208.71" rx="2.27" ry="2.04" fill="#f6dadb"/>
<ellipse cx="1691.72" cy="208.71" rx="0.57" ry="0.51" fill="#fefdfd"/>
<ellipse cx="1704.31" cy="208.71" rx="0.57" ry="0.51" fill="#fefdfd"/>
<ellipse cx="1414.83" cy="220.03" rx="5.66" ry="5.21" fill="#c81820"/>
<ellipse cx="1427.41" cy="220.03" rx="3.96" ry="3.57" fill="#e48e92"/>
<ellipse cx="1440" cy="220.03" rx="3.54" ry="3.18" fill="#eaa5a8"/>
<ellipse cx="1452.58" cy="220.03" rx="4.35" ry="3.91" fill="#df777b"/>
<ellipse cx="1465.17" cy="220.03" rx="3.05" ry="2.74" fill="#efbcbe"/>
<ellipse cx="1477.76" cy="220.03" rx="3.96" ry="3.57" fill="#e48e92"/>
<ellipse cx="1490.34" cy="220.03" rx="4.35" ry="3.91" fill="#df777b"/>
<ellipse cx="1502.93" cy="220.03" rx="4.35" ry="3.91" fill="#df777b"/>
<ellipse cx="1515.52" cy="220.03" rx="3.05" ry="2.74" fill="#efbcbe"/>
<ellipse cx="1528.1" cy="220.03" rx="3.96" ry="3.57" fill="#e48e92"/>
<ellipse cx="1540.69" cy="220.03" rx="3.54" ry="3.18" fill="#eaa5a8"/>
<ellipse cx="1553.27" cy="220.03" rx="3.54" ry="3.18" fill="#eaa5a8"/>
<ellipse cx="1565.86" cy="220.03" rx="4.35" ry="3.91" fill="#df777b"/>
<ellipse cx="1578.45" cy="220.03" rx="4.7" ry="4.23" fill="#d96065"/>
<ellipse cx="1591.03" cy="220.03" rx="5.03" ry="4.53" fill="#d4494f"/>
<ellipse cx="1603.62" cy="220.03" rx="4.7" ry="4.23" fill="#d96065"/>
<ellipse cx="1616.2" cy="220.03" rx="3.05" ry="2.74" fill="#efbcbe"/>
<ellipse cx="1628.79" cy="220.03" rx="3.05" ry="2.74" fill="#efbcbe"/>
<ellipse cx="1641.38" cy="220.03" rx="3.54" ry="3.18" fill="#eaa5a8"/>
<ellipse cx="1653.96" cy="220.03" rx="0.57" ry="0.51" fill="#fefdfd"/>
<ellipse cx="1666.55" cy="220.03" rx="0.57" ry="0.51" fill="#fefdfd"/>
<ellipse cx="1679.13" cy="220.03" rx="2.27" ry="2.04" fill="#f6dadb"/>
<ellipse cx="1691.72" cy="220.03" rx="0.57" ry="0.51" fill="#fefdfd"/>
<ellipse cx="1704.31" cy="220.03" rx="2.27" ry="2.04" fill="#f6dadb"/>
<ellipse cx="1427.41" cy="231.35" rx="5.66" ry="5.21" fill="#c81820"/>
<ellipse cx="1440" cy="231.35" rx="5.25" ry="4.72" fill="#d0383f"/>
<ellipse cx="1452.58" cy="231.35" rx="4.35" ry="3.91" fill="#df777b"/>
<ellipse cx="1465.17" cy="231.35" rx="4.7" ry="4.23" fill="#d96065"/>
<ellipse cx="1477.76" cy="231.35" rx="3.96" ry="3.57" fill="#e48e92"/>
<ellipse cx="1490.34" cy="231.35" rx="4.35" ry="3.91" fill="#df777b"/>
<ellipse cx="1502.93" cy="231.35" rx="3.54" ry="3.18" fill="#eaa5a8"/>
<ellipse cx="1515.52" cy="231.35" rx="4.35" ry="3.91" fill="#df777b"/>
<ellipse cx="1528.1" cy="231.35" rx="5.03" ry="4.53" fill="#d4494f"/>
<ellipse cx="1540.69" cy="231.35" rx="4.7" ry="4.23" fill="#d96065"/>
<ellipse cx="1553.27" cy="231.35" rx="5.03" ry="4.53" fill="#d4494f"/>
<ellipse cx="1565.86" cy="231.35" rx="5.25" ry="4.72" fill="#d0383f"/>
<ellipse cx="1578.45" cy="231.35" rx="4.7" ry="4.23" fill="#d96065"/>
<ellipse cx="1591.03" cy="231.35" rx="3.96" ry="3.57" fill="#e48e92"/>
<ellipse cx="1603.62" cy="231.35" rx="3.96" ry="3.57" fill="#e48e92"/>
<ellipse cx="1616.2" cy="231.35" rx="1.7" ry="1.53" fill="#edeff6"/>
<ellipse cx="1628.79" cy="231.35" rx="0.57" ry="0.51" fill="#fefdfd"/>
<ellipse cx="1641.38" cy="231.35" rx="0.57" ry="0.51" fill="#fefdfd"/>
<ellipse cx="1653.96" cy="231.35" rx="3.47" ry="3.12" fill="#b3bcdb"/>
<ellipse cx="1666.55" cy="231.35" rx="2.69" ry="2.42" fill="#d1d7ea"/>
<ellipse cx="1679.13" cy="231.35" rx="2.27" ry="2.04" fill="#f6dadb"/>
<ellipse cx="1691.72" cy="231.35" rx="2.27" ry="2.04" fill="#f6dadb"/>
<ellipse cx="1704.31" cy="231.35" rx="2.27" ry="2.04" fill="#f6dadb"/>
<ellipse cx="1440" cy="242.67" rx="5.66" ry="5.21" fill="#c81820"/>
<ellipse cx="1452.58" cy="242.67" rx="5.03" ry="4.53" fill="#d4494f"/>
<ellipse cx="1465.17" cy="242.67" rx="5.03" ry="4.53" fill="#d4494f"/>
<ellipse cx="1477.76" cy="242.67" rx="3.96" ry="3.57" fill="#e48e92"/>
<ellipse cx="1490.34" cy="242.67" rx="4.35" ry="3.91" fill="#df777b"/>
<ellipse cx="1502.93" cy="242.67" rx="3.96" ry="3.57" fill="#e48e92"/>
<ellipse cx="1515.52" cy="242.67" rx="4.7" ry="4.23" fill="#d96065"/>
<ellipse cx="1528.1" cy="242.67" rx="4.35" ry="3.91" fill="#df777b"/>
<ellipse cx="1540.69" cy="242.67" rx="3.96" ry="3.57" fill="#e48e92"/>
<ellipse cx="1553.27" cy="242.67" rx="4.7" ry="4.23" fill="#d96065"/>
<ellipse cx="1565.86" cy="242.67" rx="5.03" ry="4.53" fill="#d4494f"/>
<ellipse cx="1578.45" cy="242.67" rx="3.96" ry="3.57" fill="#e48e92"/>
<ellipse cx="1591.03" cy="242.67" rx="3.96" ry="3.57" fill="#e48e92"/>
<ellipse cx="1603.62" cy="242.67" rx="3.54" ry="3.18" fill="#eaa5a8"/>
<ellipse cx="1616.2" cy="242.67" rx="1.7" ry="1.53" fill="#edeff6"/>
<ellipse cx="1628.79" cy="242.67" rx="0.57" ry="0.51" fill="#fefdfd"/>
<ellipse cx="1641.38" cy="242.67" rx="1.7" ry="1.53" fill="#edeff6"/>
<ellipse cx="1653.96" cy="242.67" rx="3.47" ry="3.12" fill="#b3bcdb"/>
<ellipse cx="1666.55" cy="242.67" rx="2.69" ry="2.42" fill="#d1d7ea"/>
<ellipse cx="1679.13" cy="242.67" rx="2.27" ry="2.04" fill="#f6dadb"/>
<ellipse cx="1691.72" cy="242.67" rx="0.57" ry="0.51" fill="#fefdfd"/>
<ellipse cx="1704.31" cy="242.67" rx="0.57" ry="0.51" fill="#fefdfd"/>
<ellipse cx="1452.58" cy="253.99" rx="5.66" ry="5.21" fill="#c81820"/>
<ellipse cx="1465.17" cy="253.99" rx="4.7" ry="4.23" fill="#d96065"/>
<ellipse cx="1477.76" cy="253.99" rx="4.7" ry="4.23" fill="#d96065"/>
<ellipse cx="1490.34" cy="253.99" rx="4.7" ry="4.23" fill="#d96065"/>
<ellipse cx="1502.93" cy="253.99" rx="4.35" ry="3.91" fill="#df777b"/>
<ellipse cx="1515.52" cy="253.99" rx="3.05" ry="2.74" fill="#efbcbe"/>
<ellipse cx="1528.1" cy="253.99" rx="3.54" ry="3.18" fill="#eaa5a8"/>
<ellipse cx="1540.69" cy="253.99" rx="3.54" ry="3.18" fill="#eaa5a8"/>
<ellipse cx="1553.27" cy="253.99" rx="3.54" ry="3.18" fill="#eaa5a8"/>
<ellipse cx="1565.86" cy="253.99" rx="3.96" ry="3.57" fill="#e48e92"/>
<ellipse cx="1578.45" cy="253.99" rx="3.96" ry="3.57" fill="#e48e92"/>
<ellipse cx="1591.03" cy="253.99" rx="3.96" ry="3.57" fill="#e48e92"/>
<ellipse cx="1603.62" cy="253.99" rx="3.96" ry="3.57" fill="#e48e92"/>
<ellipse cx="1616.2" cy="253.99" rx="3.54" ry="3.18" fill="#eaa5a8"/>
<ellipse cx="1628.79" cy="253.99" rx="3.05" ry="2.74" fill="#efbcbe"/>
<ellipse cx="1641.38" cy="253.99" rx="2.27" ry="2.04" fill="#f6dadb"/>
<ellipse cx="1653.96" cy="253.99" rx="2.27" ry="2.04" fill="#f6dadb"/>
<ellipse cx="1666.55" cy="253.99" rx="2.27" ry="2.04" fill="#f6dadb"/>
<ellipse cx="1679.13" cy="253.99" rx="2.27" ry="2.04" fill="#f6dadb"/>
<ellipse cx="1691.72" cy="253.99" rx="2.27" ry="2.04" fill="#f6dadb"/>
<ellipse cx="1704.31" cy="253.99" rx="2.27" ry="2.04" fill="#f6dadb"/>
<ellipse cx="1465.17" cy="265.32" rx="5.66" ry="5.21" fill="#c81820"/>
<ellipse cx="1477.76" cy="265.32" rx="4.35" ry="3.91" fill="#df777b"/>
<ellipse cx="1490.34" cy="265.32" rx="4.35" ry="3.91" fill="#df777b"/>
<ellipse cx="1502.93" cy="265.32" rx="3.96" ry="3.57" fill="#e48e92"/>
<ellipse cx="1515.52" cy="265.32" rx="3.54" ry="3.18" fill="#eaa5a8"/>
<ellipse cx="1528.1" cy="265.32" rx="3.05" ry="2.74" fill="#efbcbe"/>
<ellipse cx="1540.69" cy="265.32" rx="3.05" ry="2.74" fill="#efbcbe"/>
<ellipse cx="1553.27" cy="265.32" rx="3.54" ry="3.18" fill="#eaa5a8"/>
<ellipse cx="1565.86" cy="265.32" rx="3.54" ry="3.18" fill="#eaa5a8"/>
<ellipse cx="1578.45" cy="265.32" rx="3.05" ry="2.74" fill="#efbcbe"/>
<ellipse cx="1591.03" cy="265.32" rx="3.54" ry="3.18" fill="#eaa5a8"/>
<ellipse cx="1603.62" cy="265.32" rx="3.54" ry="3.18" fill="#eaa5a8"/>
<ellipse cx="1616.2" cy="265.32" rx="0.57" ry="0.51" fill="#fefdfd"/>
<ellipse cx="1628.79" cy="265.32" rx="0.57" ry="0.51" fill="#fefdfd"/>
<ellipse cx="1641.38" cy="265.32" rx="0.57" ry="0.51" fill="#fefdfd"/>
<ellipse cx="1653.96" cy="265.32" rx="2.69" ry="2.42" fill="#d1d7ea"/>
<ellipse cx="1666.55" cy="265.32" rx="1.7" ry="1.53" fill="#edeff6"/>
<ellipse cx="1679.13" cy="265.32" rx="2.27" ry="2.04" fill="#f6dadb"/>
<ellipse cx="1691.72" cy="265.32" rx="0.57" ry="0.51" fill="#fefdfd"/>
<ellipse cx="1704.31" cy="265.32" rx="0.57" ry="0.51" fill="#fefdfd"/>
<ellipse cx="1477.76" cy="276.64" rx="5.66" ry="5.21" fill="#c81820"/>
<ellipse cx="1490.34" cy="276.64" rx="4.7" ry="4.23" fill="#d96065"/>
<ellipse cx="1502.93" cy="276.64" rx="4.35" ry="3.91" fill="#df777b"/>
<ellipse cx="1515.52" cy="276.64" rx="3.05" ry="2.74" fill="#efbcbe"/>
<ellipse cx="1528.1" cy="276.64" rx="3.54" ry="3.18" fill="#eaa5a8"/>
<ellipse cx="1540.69" cy="276.64" rx="3.96" ry="3.57" fill="#e48e92"/>
<ellipse cx="1553.27" cy="276.64" rx="3.96" ry="3.57" fill="#e48e92"/>
<ellipse cx="1565.86" cy="276.64" rx="3.54" ry="3.18" fill="#eaa5a8"/>
<ellipse cx="1578.45" cy="276.64" rx="3.54" ry="3.18" fill="#eaa5a8"/>
<ellipse cx="1591.03" cy="276.64" rx="3.96" ry="3.57" fill="#e48e92"/>
<ellipse cx="1603.62" cy="276.64" rx="3.54" ry="3.18" fill="#eaa5a8"/>
<ellipse cx="1616.2" cy="276.64" rx="0.57" ry="0.51" fill="#fefdfd"/>
<ellipse cx="1628.79" cy="276.64" rx="1.7" ry="1.53" fill="#edeff6"/>
<ellipse cx="1641.38" cy="276.64" rx="2.27" ry="2.04" fill="#f6dadb"/>
<ellipse cx="1653.96" cy="276.64" rx="0.57" ry="0.51" fill="#fefdfd"/>
<ellipse cx="1666.55" cy="276.64" rx="2.27" ry="2.04" fill="#f6dadb"/>
<ellipse cx="1679.13" cy="276.64" rx="3.05" ry="2.74" fill="#efbcbe"/>
<ellipse cx="1691.72" cy="276.64" rx="0.57" ry="0.51" fill="#fefdfd"/>
<ellipse cx="1704.31" cy="276.64" rx="0.57" ry="0.51" fill="#fefdfd"/>
<ellipse cx="1490.34" cy="287.96" rx="5.66" ry="5.21" fill="#c81820"/>
<ellipse cx="1502.93" cy="287.96" rx="5.03" ry="4.53" fill="#d4494f"/>
<ellipse cx="1515.52" cy="287.96" rx="3.54" ry="3.18" fill="#eaa5a8"/>
<ellipse cx="1528.1" cy="287.96" rx="4.7" ry="4.23" fill="#d96065"/>
<ellipse cx="1540.69" cy="287.96" rx="5.03" ry="4.53" fill="#d4494f"/>
<ellipse cx="1553.27" cy="287.96" rx="3.96" ry="3.57" fill="#e48e92"/>
<ellipse cx="1565.86" cy="287.96" rx="4.35" ry="3.91" fill="#df777b"/>
<ellipse cx="1578.45" cy="287.96" rx="5.03" ry="4.53" fill="#d4494f"/>
<ellipse cx="1591.03" cy="287.96" rx="5.03" ry="4.53" fill="#d4494f"/>
<ellipse cx="1603.62" cy="287.96" rx="4.7" ry="4.23" fill="#d96065"/>
<ellipse cx="1616.2" cy="287.96" rx="3.05" ry="2.74" fill="#efbcbe"/>
<ellipse cx="1628.79" cy="287.96" rx="2.27" ry="2.04" fill="#f6dadb"/>
<ellipse cx="1641.38" cy="287.96" rx="3.54" ry="3.18" fill="#eaa5a8"/>
<ellipse cx="1653.96" cy="287.96" rx="1.7" ry="1.53" fill="#edeff6"/>
<ellipse cx="1666.55" cy="287.96" rx="0.57" ry="0.51" fill="#fefdfd"/>
<ellipse cx="1679.13" cy="287.96" rx="2.27" ry="2.04" fill="#f6dadb"/>
<ellipse cx="1691.72" cy="287.96" rx="0.57" ry="0.51" fill="#fefdfd"/>
<ellipse cx="1704.31" cy="287.96" rx="0.57" ry="0.51" fill="#fefdfd"/>
<ellipse cx="1502.93" cy="299.28" rx="5.66" ry="5.21" fill="#c81820"/>
<ellipse cx="1515.52" cy="299.28" rx="3.54" ry="3.18" fill="#eaa5a8"/>
<ellipse cx="1528.1" cy="299.28" rx="4.35" ry="3.91" fill="#df777b"/>
<ellipse cx="1540.69" cy="299.28" rx="4.7" ry="4.23" fill="#d96065"/>
<ellipse cx="1553.27" cy="299.28" rx="3.54" ry="3.18" fill="#eaa5a8"/>
<ellipse cx="1565.86" cy="299.28" rx="4.35" ry="3.91" fill="#df777b"/>
<ellipse cx="1578.45" cy="299.28" rx="4.35" ry="3.91" fill="#df777b"/>
<ellipse cx="1591.03" cy="299.28" rx="5.03" ry="4.53" fill="#d4494f"/>
<ellipse cx="1603.62" cy="299.28" rx="4.35" ry="3.91" fill="#df777b"/>
<ellipse cx="1616.2" cy="299.28" rx="3.05" ry="2.74" fill="#efbcbe"/>
<ellipse cx="1628.79" cy="299.28" rx="3.05" ry="2.74" fill="#efbcbe"/>
<ellipse cx="1641.38" cy="299.28" rx="3.54" ry="3.18" fill="#eaa5a8"/>
<ellipse cx="1653.96" cy="299.28" rx="0.57" ry="0.51" fill="#fefdfd"/>
<ellipse cx="1666.55" cy="299.28" rx="0.57" ry="0.51" fill="#fefdfd"/>
<ellipse cx="1679.13" cy="299.28" rx="3.05" ry="2.74" fill="#efbcbe"/>
<ellipse cx="1691.72" cy="299.28" rx="2.27" ry="2.04" fill="#f6dadb"/>
<ellipse cx="1704.31" cy="299.28" rx="3.05" ry="2.74" fill="#efbcbe"/>
<ellipse cx="1515.52" cy="310.61" rx="5.66" ry="5.21" fill="#c81820"/>
<ellipse cx="1528.1" cy="310.61" rx="3.96" ry="3.57" fill="#e48e92"/>
<ellipse cx="1540.69" cy="310.61" rx="3.96" ry="3.57" fill="#e48e92"/>
<ellipse cx="1553.27" cy="310.61" rx="4.35" ry="3.91" fill="#df777b"/>
<ellipse cx="1565.86" cy="310.61" rx="4.35" ry="3.91" fill="#df777b"/>
<ellipse cx="1578.45" cy="310.61" rx="3.96" ry="3.57" fill="#e48e92"/>
<ellipse cx="1591.03" cy="310.61" rx="3.96" ry="3.57" fill="#e48e92"/>
<ellipse cx="1603.62" cy="310.61" rx="3.54" ry="3.18" fill="#eaa5a8"/>
<ellipse cx="1616.2" cy="310.61" rx="1.7" ry="1.53" fill="#edeff6"/>
<ellipse cx="1628.79" cy="310.61" rx="1.7" ry="1.53" fill="#edeff6"/>
<ellipse cx="1641.38" cy="310.61" rx="2.27" ry="2.04" fill="#f6dadb"/>
<ellipse cx="1653.96" cy="310.61" rx="3.47" ry="3.12" fill="#b3bcdb"/>
<ellipse cx="1666.55" cy="310.61" rx="2.69" ry="2.42" fill="#d1d7ea"/>
<ellipse cx="1679.13" cy="310.61" rx="0.57" ry="0.51" fill="#fefdfd"/>
<ellipse cx="1691.72" cy="310.61" rx="2.69" ry="2.42" fill="#d1d7ea"/>
<ellipse cx="1704.31" cy="310.61" rx="1.7" ry="1.53" fill="#edeff6"/>
<ellipse cx="1528.1" cy="321.93" rx="5.66" ry="5.21" fill="#c81820"/>
<ellipse cx="1540.69" cy="321.93" rx="5.03" ry="4.53" fill="#d4494f"/>
<ellipse cx="1553.27" cy="321.93" rx="5.03" ry="4.53" fill="#d4494f"/>
<ellipse cx="1565.86" cy="321.93" rx="4.7" ry="4.23" fill="#d96065"/>
<ellipse cx="1578.45" cy="321.93" rx="5.03" ry="4.53" fill="#d4494f"/>
<ellipse cx="1591.03" cy="321.93" rx="4.35" ry="3.91" fill="#df777b"/>
<ellipse cx="1603.62" cy="321.93" rx="4.35" ry="3.91" fill="#df777b"/>
<ellipse cx="1616.2" cy="321.93" rx="0.57" ry="0.51" fill="#fefdfd"/>
<ellipse cx="1628.79" cy="321.93" rx="2.27" ry="2.04" fill="#f6dadb"/>
<ellipse cx="1641.38" cy="321.93" rx="3.05" ry="2.74" fill="#efbcbe"/>
<ellipse cx="1653.96" cy="321.93" rx="2.69" ry="2.42" fill="#d1d7ea"/>
<ellipse cx="1666.55" cy="321.93" rx="1.7" ry="1.53" fill="#edeff6"/>
<ellipse cx="1679.13" cy="321.93" rx="2.27" ry="2.04" fill="#f6dadb"/>
<ellipse cx="1691.72" cy="321.93" rx="2.27" ry="2.04" fill="#f6dadb"/>
<ellipse cx="1704.31" cy="321.93" rx="3.05" ry="2.74" fill="#efbcbe"/>
<ellipse cx="1540.69" cy="333.25" rx="5.66" ry="5.21" fill="#c81820"/>
<ellipse cx="1553.27" cy="333.25" rx="4.7" ry="4.23" fill="#d96065"/>
<ellipse cx="1565.86" cy="333.25" rx="4.7" ry="4.23" fill="#d96065"/>
<ellipse cx="1578.45" cy="333.25" rx="4.35" ry="3.91" fill="#df777b"/>
<ellipse cx="1591.03" cy="333.25" rx="4.7" ry="4.23" fill="#d96065"/>
<ellipse cx="1603.62" cy="333.25" rx="4.35" ry="3.91" fill="#df777b"/>
<ellipse cx="1616.2" cy="333.25" rx="0.57" ry="0.51" fill="#fefdfd"/>
<ellipse cx="1628.79" cy="333.25" rx="0.57" ry="0.51" fill="#fefdfd"/>
<ellipse cx="1641.38" cy="333.25" rx="3.54" ry="3.18" fill="#eaa5a8"/>
<ellipse cx="1653.96" cy="333.25" rx="2.69" ry="2.42" fill="#d1d7ea"/>
<ellipse cx="1666.55" cy="333.25" rx="0.57" ry="0.51" fill="#fefdfd"/>
<ellipse cx="1679.13" cy="333.25" rx="3.54" ry="3.18" fill="#eaa5a8"/>
<ellipse cx="1691.72" cy="333.25" rx="2.27" ry="2.04" fill="#f6dadb"/>
<ellipse cx="1704.31" cy="333.25" rx="3.54" ry="3.18" fill="#eaa5a8"/>
<ellipse cx="1553.27" cy="344.57" rx="5.66" ry="5.21" fill="#c81820"/>
<ellipse cx="1565.86" cy="344.57" rx="5.03" ry="4.53" fill="#d4494f"/>
<ellipse cx="1578.45" cy="344.57" rx="5.03" ry="4.53" fill="#d4494f"/>
<ellipse cx="1591.03" cy="344.57" rx="4.35" ry="3.91" fill="#df777b"/>
<ellipse cx="1603.62" cy="344.57" rx="3.96" ry="3.57" fill="#e48e92"/>
<ellipse cx="1616.2" cy="344.57" rx="1.7" ry="1.53" fill="#edeff6"/>
<ellipse cx="1628.79" cy="344.57" rx="0.57" ry="0.51" fill="#fefdfd"/>
<ellipse cx="1641.38" cy="344.57" rx="2.27" ry="2.04" fill="#f6dadb"/>
<ellipse cx="1653.96" cy="344.57" rx="3.47" ry="3.12" fill="#b3bcdb"/>
<ellipse cx="1666.55" cy="344.57" rx="1.7" ry="1.53" fill="#edeff6"/>
<ellipse cx="1679.13" cy="344.57" rx="3.05" ry="2.74" fill="#efbcbe"/>
<ellipse cx="1691.72" cy="344.57" rx="2.27" ry="2.04" fill="#f6dadb"/>
<ellipse cx="1704.31" cy="344.57" rx="2.27" ry="2.04" fill="#f6dadb"/>
<ellipse cx="1565.86" cy="355.89" rx="5.66" ry="5.21" fill="#c81820"/>
<ellipse cx="1578.45" cy="355.89" rx="4.35" ry="3.91" fill="#df777b"/>
<ellipse cx="1591.03" cy="355.89" rx="4.35" ry="3.91" fill="#df777b"/>
<ellipse cx="1603.62" cy="355.89" rx="4.35" ry="3.91" fill="#df777b"/>
<ellipse cx="1616.2" cy="355.89" rx="0.57" ry="0.51" fill="#fefdfd"/>
<ellipse cx="1628.79" cy="355.89" rx="2.27" ry="2.04" fill="#f6dadb"/>
<ellipse cx="1641.38" cy="355.89" rx="3.05" ry="2.74" fill="#efbcbe"/>
<ellipse cx="1653.96" cy="355.89" rx="3.47" ry="3.12" fill="#b3bcdb"/>
<ellipse cx="1666.55" cy="355.89" rx="2.69" ry="2.42" fill="#d1d7ea"/>
<ellipse cx="1679.13" cy="355.89" rx="3.54" ry="3.18" fill="#eaa5a8"/>
<ellipse cx="1691.72" cy="355.89" rx="0.57" ry="0.51" fill="#fefdfd"/>
<ellipse cx="1704.31" cy="355.89" rx="0.57" ry="0.51" fill="#fefdfd"/>
<ellipse cx="1578.45" cy="367.22" rx="5.66" ry="5.21" fill="#c81820"/>
<ellipse cx="1591.03" cy="367.22" rx="5.03" ry="4.53" fill="#d4494f"/>
<ellipse cx="1603.62" cy="367.22" rx="4.35" ry="3.91" fill="#df777b"/>
<ellipse cx="1616.2" cy="367.22" rx="2.27" ry="2.04" fill="#f6dadb"/>
<ellipse cx="1628.79" cy="367.22" rx="2.27" ry="2.04" fill="#f6dadb"/>
<ellipse cx="1641.38" cy="367.22" rx="3.05" ry="2.74" fill="#efbcbe"/>
<ellipse cx="1653.96" cy="367.22" rx="2.69" ry="2.42" fill="#d1d7ea"/>
<ellipse cx="1666.55" cy="367.22" rx="1.7" ry="1.53" fill="#edeff6"/>
<ellipse cx="1679.13" cy="367.22" rx="3.05" ry="2.74" fill="#efbcbe"/>
<ellipse cx="1691.72" cy="367.22" rx="2.27" ry="2.04" fill="#f6dadb"/>
<ellipse cx="1704.31" cy="367.22" rx="0.57" ry="0.51" fill="#fefdfd"/>
<ellipse cx="1591.03" cy="378.54" rx="5.66" ry="5.21" fill="#c81820"/>
<ellipse cx="1603.62" cy="378.54" rx="4.7" ry="4.23" fill="#d96065"/>
<ellipse cx="1616.2" cy="378.54" rx="3.05" ry="2.74" fill="#efbcbe"/>
<ellipse cx="1628.79" cy="378.54" rx="2.27" ry="2.04" fill="#f6dadb"/>
<ellipse cx="1641.38" cy="378.54" rx="3.54" ry="3.18" fill="#eaa5a8"/>
<ellipse cx="1653.96" cy="378.54" rx="1.7" ry="1.53" fill="#edeff6"/>
<ellipse cx="1666.55" cy="378.54" rx="2.69" ry="2.42" fill="#d1d7ea"/>
<ellipse cx="1679.13" cy="378.54" rx="3.96" ry="3.57" fill="#e48e92"/>
<ellipse cx="1691.72" cy="378.54" rx="2.27" ry="2.04" fill="#f6dadb"/>
<ellipse cx="1704.31" cy="378.54" rx="0.57" ry="0.51" fill="#fefdfd"/>
<ellipse cx="1603.62" cy="389.86" rx="5.66" ry="5.21" fill="#c81820"/>
<ellipse cx="1616.2" cy="389.86" rx="2.27" ry="2.04" fill="#f6dadb"/>
<ellipse cx="1628.79" cy="389.86" rx="3.54" ry="3.18" fill="#eaa5a8"/>
<ellipse cx="1641.38" cy="389.86" rx="3.54" ry="3.18" fill="#eaa5a8"/>
<ellipse cx="1653.96" cy="389.86" rx="1.7" ry="1.53" fill="#edeff6"/>
<ellipse cx="1666.55" cy="389.86" rx="0.57" ry="0.51" fill="#fefdfd"/>
<ellipse cx="1679.13" cy="389.86" rx="3.96" ry="3.57" fill="#e48e92"/>
<ellipse cx="1691.72" cy="389.86" rx="3.96" ry="3.57" fill="#e48e92"/>
<ellipse cx="1704.31" cy="389.86" rx="3.05" ry="2.74" fill="#efbcbe"/>
<ellipse cx="1616.2" cy="401.18" rx="5.66" ry="5.21" fill="#c81820"/>
<ellipse cx="1628.79" cy="401.18" rx="3.54" ry="3.18" fill="#eaa5a8"/>
<ellipse cx="1641.38" cy="401.18" rx="3.54" ry="3.18" fill="#eaa5a8"/>
<ellipse cx="1653.96" cy="401.18" rx="1.7" ry="1.53" fill="#edeff6"/>
<ellipse cx="1666.55" cy="401.18" rx="0.57" ry="0.51" fill="#fefdfd"/>
<ellipse cx="1679.13" cy="401.18" rx="1.7" ry="1.53" fill="#edeff6"/>
<ellipse cx="1691.72" cy="401.18" rx="3.05" ry="2.74" fill="#efbcbe"/>
<ellipse cx="1704.31" cy="401.18" rx="3.05" ry="2.74" fill="#efbcbe"/>
<ellipse cx="1628.79" cy="412.51" rx="5.66" ry="5.21" fill="#c81820"/>
<ellipse cx="1641.38" cy="412.51" rx="4.35" ry="3.91" fill="#df777b"/>
<ellipse cx="1653.96" cy="412.51" rx="3.05" ry="2.74" fill="#efbcbe"/>
<ellipse cx="1666.55" cy="412.51" rx="3.54" ry="3.18" fill="#eaa5a8"/>
<ellipse cx="1679.13" cy="412.51" rx="2.27" ry="2.04" fill="#f6dadb"/>
<ellipse cx="1691.72" cy="412.51" rx="3.54" ry="3.18" fill="#eaa5a8"/>
<ellipse cx="1704.31" cy="412.51" rx="3.96" ry="3.57" fill="#e48e92"/>
<ellipse cx="1641.38" cy="423.83" rx="5.66" ry="5.21" fill="#c81820"/>
<ellipse cx="1653.96" cy="423.83" rx="3.05" ry="2.74" fill="#efbcbe"/>
<ellipse cx="1666.55" cy="423.83" rx="3.05" ry="2.74" fill="#efbcbe"/>
<ellipse cx="1679.13" cy="423.83" rx="3.54" ry="3.18" fill="#eaa5a8"/>
<ellipse cx="1691.72" cy="423.83" rx="2.27" ry="2.04" fill="#f6dadb"/>
<ellipse cx="1704.31" cy="423.83" rx="3.54" ry="3.18" fill="#eaa5a8"/>
<ellipse cx="1653.96" cy="435.15" rx="5.66" ry="5.21" fill="#c81820"/>
<ellipse cx="1666.55" cy="435.15" rx="5.25" ry="4.72" fill="#d0383f"/>
<ellipse cx="1679.13" cy="435.15" rx="0.57" ry="0.51" fill="#fefdfd"/>
<ellipse cx="1691.72" cy="435.15" rx="0.57" ry="0.51" fill="#fefdfd"/>
<ellipse cx="1704.31" cy="435.15" rx="3.54" ry="3.18" fill="#eaa5a8"/>
<ellipse cx="1666.55" cy="446.47" rx="5.66" ry="5.21" fill="#c81820"/>
<ellipse cx="1679.13" cy="446.47" rx="3.05" ry="2.74" fill="#efbcbe"/>
<ellipse cx="1691.72" cy="446.47" rx="2.27" ry="2.04" fill="#f6dadb"/>
<ellipse cx="1704.31" cy="446.47" rx="3.54" ry="3.18" fill="#eaa5a8"/>
<ellipse cx="1679.13" cy="457.79" rx="5.66" ry="5.21" fill="#c81820"/>
<ellipse cx="1691.72" cy="457.79" rx="3.54" ry="3.18" fill="#eaa5a8"/>
<ellipse cx="1704.31" cy="457.79" rx="3.05" ry="2.74" fill="#efbcbe"/>
<ellipse cx="1691.72" cy="469.12" rx="5.66" ry="5.21" fill="#c81820"/>
<ellipse cx="1704.31" cy="469.12" rx="3.96" ry="3.57" fill="#e48e92"/>
<ellipse cx="1704.31" cy="480.44" rx="5.66" ry="5.21" fill="#c81820"/>
<text font-size="12.1" text-anchor="end" textLength="50.03" lengthAdjust="spacingAndGlyphs" fill="#c8171f" x="1250.5" y="87.76">AURKB</text>
<text font-size="14.6" textLength="44.77" lengthAdjust="spacingAndGlyphs" fill="#c8171f" transform="translate(1269.29 73.4) rotate(-90)">AURKB</text>
<text font-size="12.1" text-anchor="end" textLength="40.33" lengthAdjust="spacingAndGlyphs" fill="#c8171f" x="1263.09" y="99.08">TYMS</text>
<text font-size="14.6" textLength="36.09" lengthAdjust="spacingAndGlyphs" fill="#c8171f" transform="translate(1281.88 73.4) rotate(-90)">TYMS</text>
<text font-size="12.1" text-anchor="end" textLength="42.77" lengthAdjust="spacingAndGlyphs" fill="#c8171f" x="1275.67" y="110.41">BIRC5</text>
<text font-size="14.6" textLength="38.27" lengthAdjust="spacingAndGlyphs" fill="#c8171f" transform="translate(1294.47 73.4) rotate(-90)">BIRC5</text>
<text font-size="12.1" text-anchor="end" textLength="50.02" lengthAdjust="spacingAndGlyphs" fill="#c8171f" x="1288.26" y="121.73">FOXM1</text>
<text font-size="14.6" textLength="44.76" lengthAdjust="spacingAndGlyphs" fill="#c8171f" transform="translate(1307.05 73.4) rotate(-90)">FOXM1</text>
<text font-size="12.1" text-anchor="end" textLength="48.42" lengthAdjust="spacingAndGlyphs" fill="#c8171f" x="1300.84" y="133.05">LMNB2</text>
<text font-size="14.6" textLength="43.33" lengthAdjust="spacingAndGlyphs" fill="#c8171f" transform="translate(1319.64 73.4) rotate(-90)">LMNB2</text>
<text font-size="12.1" text-anchor="end" textLength="42.75" lengthAdjust="spacingAndGlyphs" fill="#c8171f" x="1313.43" y="144.37">MCM4</text>
<text font-size="14.6" textLength="38.26" lengthAdjust="spacingAndGlyphs" fill="#c8171f" transform="translate(1332.22 73.4) rotate(-90)">MCM4</text>
<text font-size="12.1" text-anchor="end" textLength="41.96" lengthAdjust="spacingAndGlyphs" fill="#c8171f" x="1326.02" y="155.69">MKI67</text>
<text font-size="14.6" textLength="37.55" lengthAdjust="spacingAndGlyphs" fill="#c8171f" transform="translate(1344.81 73.4) rotate(-90)">MKI67</text>
<text font-size="12.1" text-anchor="end" textLength="78.27" lengthAdjust="spacingAndGlyphs" fill="#c8171f" x="1338.6" y="167.02">RNASEH2A</text>
<text font-size="14.6" textLength="70.05" lengthAdjust="spacingAndGlyphs" fill="#c8171f" transform="translate(1357.4 73.4) rotate(-90)">RNASEH2A</text>
<text font-size="12.1" text-anchor="end" textLength="39.53" lengthAdjust="spacingAndGlyphs" fill="#c8171f" x="1351.19" y="178.34">CDC6</text>
<text font-size="14.6" textLength="35.38" lengthAdjust="spacingAndGlyphs" fill="#c8171f" transform="translate(1369.98 73.4) rotate(-90)">CDC6</text>
<text font-size="12.1" text-anchor="end" textLength="49.22" lengthAdjust="spacingAndGlyphs" fill="#c8171f" x="1363.78" y="189.66">CCNA2</text>
<text font-size="14.6" textLength="44.05" lengthAdjust="spacingAndGlyphs" fill="#c8171f" transform="translate(1382.57 73.4) rotate(-90)">CCNA2</text>
<text font-size="12.1" text-anchor="end" textLength="56.49" lengthAdjust="spacingAndGlyphs" fill="#c8171f" x="1376.36" y="200.98">MAD2L1</text>
<text font-size="14.6" textLength="50.55" lengthAdjust="spacingAndGlyphs" fill="#c8171f" transform="translate(1395.15 73.4) rotate(-90)">MAD2L1</text>
<text font-size="12.1" text-anchor="end" textLength="34.7" lengthAdjust="spacingAndGlyphs" fill="#c8171f" x="1388.95" y="212.31">E2F8</text>
<text font-size="14.6" textLength="31.06" lengthAdjust="spacingAndGlyphs" fill="#c8171f" transform="translate(1407.74 73.4) rotate(-90)">E2F8</text>
<text font-size="12.1" text-anchor="end" textLength="49.22" lengthAdjust="spacingAndGlyphs" fill="#c8171f" x="1401.53" y="223.63">CDCA8</text>
<text font-size="14.6" textLength="44.05" lengthAdjust="spacingAndGlyphs" fill="#c8171f" transform="translate(1420.33 73.4) rotate(-90)">CDCA8</text>
<text font-size="12.1" text-anchor="end" textLength="37.11" lengthAdjust="spacingAndGlyphs" fill="#c8171f" x="1414.12" y="234.95">EZH2</text>
<text font-size="14.6" textLength="33.21" lengthAdjust="spacingAndGlyphs" fill="#c8171f" transform="translate(1432.91 73.4) rotate(-90)">EZH2</text>
<text font-size="12.1" text-anchor="end" textLength="47.6" lengthAdjust="spacingAndGlyphs" fill="#c8171f" x="1426.71" y="246.27">KNTC1</text>
<text font-size="14.6" textLength="42.6" lengthAdjust="spacingAndGlyphs" fill="#c8171f" transform="translate(1445.5 73.4) rotate(-90)">KNTC1</text>
<text font-size="12.1" text-anchor="end" textLength="34.7" lengthAdjust="spacingAndGlyphs" fill="#c8171f" x="1439.29" y="257.59">E2F7</text>
<text font-size="14.6" textLength="31.06" lengthAdjust="spacingAndGlyphs" fill="#c8171f" transform="translate(1458.08 73.4) rotate(-90)">E2F7</text>
<text font-size="12.1" text-anchor="end" textLength="38.74" lengthAdjust="spacingAndGlyphs" fill="#c8171f" x="1451.88" y="268.92">POP1</text>
<text font-size="14.6" textLength="34.67" lengthAdjust="spacingAndGlyphs" fill="#c8171f" transform="translate(1470.67 73.4) rotate(-90)">POP1</text>
<text font-size="12.1" text-anchor="end" textLength="61.6" lengthAdjust="spacingAndGlyphs" fill="#c8171f" x="1464.46" y="280.24">FAM111B</text>
<text font-size="14.6" textLength="55.13" lengthAdjust="spacingAndGlyphs" fill="#c8171f" transform="translate(1483.26 73.4) rotate(-90)">FAM111B</text>
<text font-size="12.1" text-anchor="end" textLength="49.22" lengthAdjust="spacingAndGlyphs" fill="#c8171f" x="1477.05" y="291.56">CDCA5</text>
<text font-size="14.6" textLength="44.05" lengthAdjust="spacingAndGlyphs" fill="#c8171f" transform="translate(1495.84 73.4) rotate(-90)">CDCA5</text>
<text font-size="12.1" text-anchor="end" textLength="35.52" lengthAdjust="spacingAndGlyphs" fill="#c8171f" x="1489.64" y="302.88">PLK1</text>
<text font-size="14.6" textLength="31.79" lengthAdjust="spacingAndGlyphs" fill="#c8171f" transform="translate(1508.43 73.4) rotate(-90)">PLK1</text>
<text font-size="12.1" text-anchor="end" textLength="31.48" lengthAdjust="spacingAndGlyphs" fill="#c8171f" x="1502.22" y="314.21">LIG1</text>
<text font-size="14.6" textLength="28.17" lengthAdjust="spacingAndGlyphs" fill="#c8171f" transform="translate(1521.02 73.4) rotate(-90)">LIG1</text>
<text font-size="12.1" text-anchor="end" textLength="43.57" lengthAdjust="spacingAndGlyphs" fill="#c8171f" x="1514.81" y="325.53">GINS2</text>
<text font-size="14.6" textLength="38.99" lengthAdjust="spacingAndGlyphs" fill="#c8171f" transform="translate(1533.6 73.4) rotate(-90)">GINS2</text>
<text font-size="12.1" text-anchor="end" textLength="50.83" lengthAdjust="spacingAndGlyphs" fill="#c8171f" x="1527.39" y="336.85">CENPN</text>
<text font-size="14.6" textLength="45.49" lengthAdjust="spacingAndGlyphs" fill="#c8171f" transform="translate(1546.19 73.4) rotate(-90)">CENPN</text>
<text font-size="12.1" text-anchor="end" textLength="48.42" lengthAdjust="spacingAndGlyphs" fill="#c8171f" x="1539.98" y="348.17">CHEK1</text>
<text font-size="14.6" textLength="43.33" lengthAdjust="spacingAndGlyphs" fill="#c8171f" transform="translate(1558.77 73.4) rotate(-90)">CHEK1</text>
<text font-size="12.1" text-anchor="end" textLength="44.64" lengthAdjust="spacingAndGlyphs" fill="#c8171f" x="1552.57" y="359.49">ATAD2</text>
<text font-size="14.6" textLength="39.95" lengthAdjust="spacingAndGlyphs" fill="#c8171f" transform="translate(1571.36 73.4) rotate(-90)">ATAD2</text>
<text font-size="12.1" text-anchor="end" textLength="46" lengthAdjust="spacingAndGlyphs" fill="#c8171f" x="1565.15" y="370.82">ASF1B</text>
<text font-size="14.6" textLength="41.16" lengthAdjust="spacingAndGlyphs" fill="#c8171f" transform="translate(1583.95 73.4) rotate(-90)">ASF1B</text>
<text font-size="12.1" text-anchor="end" textLength="49.22" lengthAdjust="spacingAndGlyphs" fill="#c8171f" x="1577.74" y="382.14">TRIP13</text>
<text font-size="14.6" textLength="44.05" lengthAdjust="spacingAndGlyphs" fill="#c8171f" transform="translate(1596.53 73.4) rotate(-90)">TRIP13</text>
<text font-size="12.1" text-anchor="end" textLength="56.48" lengthAdjust="spacingAndGlyphs" fill="#c8171f" x="1590.32" y="393.46">FAM83D</text>
<text font-size="14.6" textLength="50.55" lengthAdjust="spacingAndGlyphs" fill="#c8171f" transform="translate(1609.12 73.4) rotate(-90)">FAM83D</text>
<text font-size="12.1" text-anchor="end" textLength="31.48" lengthAdjust="spacingAndGlyphs" fill="#c8171f" x="1602.91" y="404.78">SIX1</text>
<text font-size="14.6" textLength="28.17" lengthAdjust="spacingAndGlyphs" fill="#c8171f" transform="translate(1621.7 73.4) rotate(-90)">SIX1</text>
<text font-size="12.1" text-anchor="end" textLength="44.93" lengthAdjust="spacingAndGlyphs" fill="#c8171f" x="1615.5" y="416.11">KRT17</text>
<text font-size="14.6" textLength="40.2" lengthAdjust="spacingAndGlyphs" fill="#c8171f" transform="translate(1634.29 73.4) rotate(-90)">KRT17</text>
<text font-size="12.1" text-anchor="end" textLength="29.04" lengthAdjust="spacingAndGlyphs" fill="#c8171f" x="1628.08" y="427.43">SFN</text>
<text font-size="14.6" textLength="25.99" lengthAdjust="spacingAndGlyphs" fill="#c8171f" transform="translate(1646.88 73.4) rotate(-90)">SFN</text>
<text font-size="12.1" text-anchor="end" textLength="48.42" lengthAdjust="spacingAndGlyphs" fill="#c8171f" x="1640.67" y="438.75">SPRR3</text>
<text font-size="14.6" textLength="43.33" lengthAdjust="spacingAndGlyphs" fill="#c8171f" transform="translate(1659.46 73.4) rotate(-90)">SPRR3</text>
<text font-size="12.1" text-anchor="end" textLength="58.1" lengthAdjust="spacingAndGlyphs" fill="#c8171f" x="1653.26" y="450.07">SPRR1A</text>
<text font-size="14.6" textLength="52" lengthAdjust="spacingAndGlyphs" fill="#c8171f" transform="translate(1672.05 73.4) rotate(-90)">SPRR1A</text>
<text font-size="12.1" text-anchor="end" textLength="37.92" lengthAdjust="spacingAndGlyphs" fill="#c8171f" x="1665.84" y="461.39">NCF2</text>
<text font-size="14.6" textLength="33.93" lengthAdjust="spacingAndGlyphs" fill="#c8171f" transform="translate(1684.63 73.4) rotate(-90)">NCF2</text>
<text font-size="12.1" text-anchor="end" textLength="63.76" lengthAdjust="spacingAndGlyphs" fill="#c8171f" x="1678.43" y="472.72">COL12A1</text>
<text font-size="14.6" textLength="57.06" lengthAdjust="spacingAndGlyphs" fill="#c8171f" transform="translate(1697.22 73.4) rotate(-90)">COL12A1</text>
<text font-size="12.1" text-anchor="end" textLength="40.35" lengthAdjust="spacingAndGlyphs" fill="#c8171f" x="1691.01" y="484.04">IGFL2</text>
<text font-size="14.6" textLength="36.11" lengthAdjust="spacingAndGlyphs" fill="#c8171f" transform="translate(1709.81 73.4) rotate(-90)">IGFL2</text>
<rect x="1719.2" y="78.5" width="17.6" height="10.59" fill="#c91e26" />
<rect x="1719.2" y="88.69" width="17.6" height="10.59" fill="#cc2931" />
<rect x="1719.2" y="98.88" width="17.6" height="10.59" fill="#cf353c" />
<rect x="1719.2" y="109.07" width="17.6" height="10.59" fill="#d24047" />
<rect x="1719.2" y="119.26" width="17.6" height="10.59" fill="#d44c52" />
<rect x="1719.2" y="129.45" width="17.6" height="10.59" fill="#d7585d" />
<rect x="1719.2" y="139.64" width="17.6" height="10.59" fill="#da6368" />
<rect x="1719.2" y="149.83" width="17.6" height="10.59" fill="#dd6f74" />
<rect x="1719.2" y="160.02" width="17.6" height="10.59" fill="#df7a7f" />
<rect x="1719.2" y="170.21" width="17.6" height="10.59" fill="#e2868a" />
<rect x="1719.2" y="180.4" width="17.6" height="10.59" fill="#e59195" />
<rect x="1719.2" y="190.59" width="17.6" height="10.59" fill="#e89da0" />
<rect x="1719.2" y="200.78" width="17.6" height="10.59" fill="#eaa8ab" />
<rect x="1719.2" y="210.97" width="17.6" height="10.59" fill="#edb4b7" />
<rect x="1719.2" y="221.16" width="17.6" height="10.59" fill="#f0bfc2" />
<rect x="1719.2" y="231.35" width="17.6" height="10.59" fill="#f3cbcd" />
<rect x="1719.2" y="241.54" width="17.6" height="10.59" fill="#f5d7d8" />
<rect x="1719.2" y="251.73" width="17.6" height="10.59" fill="#f8e2e3" />
<rect x="1719.2" y="261.92" width="17.6" height="10.59" fill="#fbeeee" />
<rect x="1719.2" y="272.11" width="17.6" height="10.59" fill="#fef9f9" />
<rect x="1719.2" y="282.3" width="17.6" height="10.59" fill="#fafbfd" />
<rect x="1719.2" y="292.49" width="17.6" height="10.59" fill="#f0f2f8" />
<rect x="1719.2" y="302.68" width="17.6" height="10.59" fill="#e6e9f3" />
<rect x="1719.2" y="312.87" width="17.6" height="10.59" fill="#dbe0ee" />
<rect x="1719.2" y="323.06" width="17.6" height="10.59" fill="#d1d7ea" />
<rect x="1719.2" y="333.25" width="17.6" height="10.59" fill="#c7cee5" />
<rect x="1719.2" y="343.44" width="17.6" height="10.59" fill="#bdc5e0" />
<rect x="1719.2" y="353.63" width="17.6" height="10.59" fill="#b3bcdb" />
<rect x="1719.2" y="363.82" width="17.6" height="10.59" fill="#a9b3d7" />
<rect x="1719.2" y="374.01" width="17.6" height="10.59" fill="#9faad2" />
<rect x="1719.2" y="384.2" width="17.6" height="10.59" fill="#94a1cd" />
<rect x="1719.2" y="394.39" width="17.6" height="10.59" fill="#8a98c8" />
<rect x="1719.2" y="404.58" width="17.6" height="10.59" fill="#808fc4" />
<rect x="1719.2" y="414.77" width="17.6" height="10.59" fill="#7686bf" />
<rect x="1719.2" y="424.96" width="17.6" height="10.59" fill="#6c7dba" />
<rect x="1719.2" y="435.15" width="17.6" height="10.59" fill="#6274b5" />
<rect x="1719.2" y="445.34" width="17.6" height="10.59" fill="#586bb1" />
<rect x="1719.2" y="455.53" width="17.6" height="10.59" fill="#4d62ac" />
<rect x="1719.2" y="465.72" width="17.6" height="10.59" fill="#4359a7" />
<rect x="1719.2" y="475.91" width="17.6" height="10.59" fill="#3950a2" />
<rect x="1719.2" y="78.5" width="17.6" height="407.6" fill="none" stroke="#222" stroke-width="0.9" />
<line x1="1736.8" y1="78.5" x2="1740.1" y2="78.5" stroke="#222" stroke-width="0.9" />
<text font-size="10.2" text-anchor="middle" textLength="6.64" lengthAdjust="spacingAndGlyphs" x="1758" y="82.1">1</text>
<line x1="1736.8" y1="119.26" x2="1740.1" y2="119.26" stroke="#222" stroke-width="0.9" />
<text font-size="10.2" text-anchor="middle" textLength="16.59" lengthAdjust="spacingAndGlyphs" x="1758" y="122.86">0.8</text>
<line x1="1736.8" y1="160.02" x2="1740.1" y2="160.02" stroke="#222" stroke-width="0.9" />
<text font-size="10.2" text-anchor="middle" textLength="16.59" lengthAdjust="spacingAndGlyphs" x="1758" y="163.62">0.6</text>
<line x1="1736.8" y1="200.78" x2="1740.1" y2="200.78" stroke="#222" stroke-width="0.9" />
<text font-size="10.2" text-anchor="middle" textLength="16.59" lengthAdjust="spacingAndGlyphs" x="1758" y="204.38">0.4</text>
<line x1="1736.8" y1="241.54" x2="1740.1" y2="241.54" stroke="#222" stroke-width="0.9" />
<text font-size="10.2" text-anchor="middle" textLength="16.59" lengthAdjust="spacingAndGlyphs" x="1758" y="245.14">0.2</text>
<line x1="1736.8" y1="282.3" x2="1740.1" y2="282.3" stroke="#222" stroke-width="0.9" />
<text font-size="10.2" text-anchor="middle" textLength="6.64" lengthAdjust="spacingAndGlyphs" x="1758" y="285.9">0</text>
<line x1="1736.8" y1="323.06" x2="1740.1" y2="323.06" stroke="#222" stroke-width="0.9" />
<text font-size="10.2" text-anchor="middle" textLength="23.56" lengthAdjust="spacingAndGlyphs" x="1758" y="326.66">−0.2</text>
<line x1="1736.8" y1="363.82" x2="1740.1" y2="363.82" stroke="#222" stroke-width="0.9" />
<text font-size="10.2" text-anchor="middle" textLength="23.56" lengthAdjust="spacingAndGlyphs" x="1758" y="367.42">−0.4</text>
<line x1="1736.8" y1="404.58" x2="1740.1" y2="404.58" stroke="#222" stroke-width="0.9" />
<text font-size="10.2" text-anchor="middle" textLength="23.56" lengthAdjust="spacingAndGlyphs" x="1758" y="408.18">−0.6</text>
<line x1="1736.8" y1="445.34" x2="1740.1" y2="445.34" stroke="#222" stroke-width="0.9" />
<text font-size="10.2" text-anchor="middle" textLength="23.56" lengthAdjust="spacingAndGlyphs" x="1758" y="448.94">−0.8</text>
<line x1="1736.8" y1="486.1" x2="1740.1" y2="486.1" stroke="#222" stroke-width="0.9" />
<text font-size="10.2" text-anchor="middle" textLength="13.61" lengthAdjust="spacingAndGlyphs" x="1758" y="489.7">−1</text>
</g>
<g id="d">
<path d="M381.96 523.73Q422.37 522.42 460.38 533.88Q499.72 543.98 532.3 565.17Q565.54 584.37 588.79 611.9Q612.85 639.22 624.95 671.63Q637.89 703.49 637.95 737.05Q637.9 771.01 624.95 803.29Q612.85 835.49 588.79 862.61Q565.53 890.75 532.3 910.56Q499.72 930.94 460.38 940.22Q422.37 952.1 381.96 951.19Q341.33 952.1 303.13 940.22Q263.78 930.94 231.21 910.56Q197.97 890.75 174.73 862.61Q150.45 835.48 138.16 803.29Q125.41 771.01 125.56 737.05Q125.41 703.49 138.16 671.63Q150.46 639.23 174.73 611.9Q197.97 584.38 231.21 565.17Q263.78 543.98 303.13 533.88Q341.34 522.42 381.96 523.73Z" fill="#d6c2df" fill-opacity="0.7"/>
<polygon points="381.96,555.01 418.53,558.26 455.91,565.99 491.67,579.8 521.33,598.49 548.56,620.84 570.91,646.44 586.35,675.29 595.69,706.17 599.35,737.05 595.69,769.15 586.35,800.04 570.91,828.48 548.56,854.49 521.33,876.83 491.67,895.12 455.91,908.53 418.53,916.66 381.96,919.91 344.58,916.66 307.6,908.53 272.25,895.12 241.77,876.83 215.36,854.49 193.01,828.48 176.76,800.04 166.6,769.15 163.75,737.05 166.6,706.17 176.76,675.29 193.01,646.44 215.36,620.84 241.77,598.49 272.25,579.8 307.6,565.99 344.58,558.26" fill="#dbcbe3" fill-opacity="0.85"/>
<path d="M381.96 523.73L532.3 910.56M381.96 523.73L231.21 565.17M381.96 523.73L176.76 675.29M460.38 533.88L532.3 565.17M460.38 533.88L231.21 910.56M460.38 533.88L125.56 737.05M460.38 533.88L595.69 706.17M460.38 533.88L548.56 854.49M460.38 533.88L193.01 828.48M532.3 565.17L586.35 675.29M532.3 565.17L307.6 565.99M588.79 611.9L460.38 940.22M588.79 611.9L231.21 910.56M588.79 611.9L174.73 862.61M588.79 611.9L586.35 675.29M588.79 611.9L344.58 916.66M624.95 671.63L595.69 706.17M624.95 671.63L455.91 908.53M624.95 671.63L166.6 769.15M637.95 737.05L138.16 803.29M637.95 737.05L174.73 611.9M637.95 737.05L418.53 558.26M637.95 737.05L548.56 620.84M624.95 803.29L138.16 803.29M624.95 803.29L307.6 908.53M624.95 803.29L307.6 565.99M588.79 862.61L231.21 910.56M588.79 862.61L174.73 862.61M588.79 862.61L521.33 598.49M588.79 862.61L595.69 706.17M588.79 862.61L521.33 876.83M588.79 862.61L455.91 908.53M532.3 910.56L418.53 558.26M532.3 910.56L418.53 916.66M532.3 910.56L193.01 828.48M532.3 910.56L307.6 565.99M460.38 940.22L125.56 737.05M460.38 940.22L455.91 908.53M460.38 940.22L344.58 916.66M460.38 940.22L307.6 908.53M460.38 940.22L215.36 854.49M460.38 940.22L344.58 558.26M381.96 951.19L521.33 598.49M381.96 951.19L570.91 646.44M303.13 940.22L548.56 854.49M303.13 940.22L176.76 675.29M231.21 910.56L586.35 675.29M231.21 910.56L215.36 854.49M231.21 910.56L176.76 800.04M174.73 862.61L381.96 555.01M174.73 862.61L418.53 558.26M174.73 862.61L521.33 598.49M174.73 862.61L595.69 769.15M174.73 862.61L548.56 854.49M174.73 862.61L521.33 876.83M174.73 862.61L241.77 876.83M138.16 803.29L193.01 828.48M125.56 737.05L174.73 611.9M125.56 737.05L215.36 854.49M125.56 737.05L166.6 706.17M138.16 671.63L455.91 565.99M174.73 611.9L307.6 565.99M231.21 565.17L595.69 706.17M231.21 565.17L599.35 737.05M231.21 565.17L381.96 919.91M303.13 533.88L570.91 646.44M303.13 533.88L599.35 737.05M303.13 533.88L381.96 919.91M303.13 533.88L193.01 646.44M381.96 555.01L548.56 620.84M381.96 555.01L307.6 908.53M381.96 555.01L215.36 854.49M418.53 558.26L455.91 565.99M418.53 558.26L595.69 706.17M418.53 558.26L193.01 646.44M455.91 565.99L570.91 646.44M455.91 565.99L570.91 828.48M455.91 565.99L491.67 895.12M491.67 579.8L344.58 916.66M491.67 579.8L166.6 769.15M521.33 598.49L521.33 876.83M521.33 598.49L241.77 876.83M521.33 598.49L166.6 769.15M521.33 598.49L215.36 620.84M548.56 620.84L586.35 800.04M548.56 620.84L381.96 919.91M548.56 620.84L241.77 876.83M548.56 620.84L272.25 579.8M548.56 620.84L344.58 558.26M570.91 646.44L241.77 876.83M586.35 675.29L272.25 579.8M595.69 706.17L521.33 876.83M595.69 706.17L163.75 737.05M599.35 737.05L491.67 895.12M599.35 737.05L344.58 916.66M595.69 769.15L570.91 828.48M595.69 769.15L548.56 854.49M595.69 769.15L166.6 769.15M595.69 769.15L166.6 706.17M595.69 769.15L307.6 565.99M586.35 800.04L272.25 579.8M586.35 800.04L307.6 565.99M570.91 828.48L272.25 579.8M570.91 828.48L344.58 558.26M548.56 854.49L166.6 706.17M521.33 876.83L241.77 598.49M491.67 895.12L176.76 800.04M491.67 895.12L166.6 769.15M455.91 908.53L193.01 646.44M455.91 908.53L344.58 558.26M381.96 919.91L344.58 916.66M381.96 919.91L241.77 598.49M344.58 916.66L307.6 908.53M344.58 916.66L215.36 854.49M344.58 916.66L166.6 769.15M272.25 895.12L193.01 828.48M215.36 854.49L344.58 558.26M163.75 737.05L241.77 598.49M193.01 646.44L344.58 558.26" stroke="#c9b6de" stroke-width="0.5" stroke-opacity="0.3" fill="none"/>
<path d="M381.96 523.73L231.21 910.56M381.96 523.73L418.53 558.26M381.96 523.73L599.35 737.05M381.96 523.73L595.69 769.15M381.96 523.73L272.25 579.8M460.38 533.88L588.79 862.61M460.38 533.88L548.56 620.84M460.38 533.88L307.6 565.99M532.3 565.17L460.38 940.22M532.3 565.17L418.53 558.26M532.3 565.17L272.25 895.12M532.3 565.17L215.36 620.84M588.79 611.9L163.75 737.05M588.79 611.9L176.76 675.29M624.95 671.63L491.67 579.8M624.95 671.63L344.58 558.26M637.95 737.05L491.67 895.12M637.95 737.05L381.96 919.91M637.95 737.05L307.6 565.99M637.95 737.05L344.58 558.26M624.95 803.29L231.21 910.56M624.95 803.29L138.16 671.63M624.95 803.29L586.35 800.04M624.95 803.29L166.6 706.17M624.95 803.29L215.36 620.84M532.3 910.56L231.21 565.17M532.3 910.56L307.6 908.53M532.3 910.56L163.75 737.05M532.3 910.56L241.77 598.49M460.38 940.22L455.91 565.99M460.38 940.22L599.35 737.05M381.96 951.19L455.91 565.99M231.21 910.56L138.16 803.29M231.21 910.56L491.67 579.8M231.21 910.56L521.33 876.83M231.21 910.56L381.96 919.91M231.21 910.56L344.58 916.66M231.21 910.56L193.01 828.48M174.73 862.61L125.56 737.05M138.16 803.29L586.35 675.29M138.16 803.29L418.53 916.66M138.16 803.29L272.25 579.8M125.56 737.05L381.96 555.01M125.56 737.05L193.01 828.48M125.56 737.05L163.75 737.05M125.56 737.05L241.77 598.49M125.56 737.05L272.25 579.8M138.16 671.63L418.53 558.26M138.16 671.63L418.53 916.66M138.16 671.63L163.75 737.05M174.73 611.9L586.35 675.29M174.73 611.9L241.77 876.83M174.73 611.9L241.77 598.49M231.21 565.17L491.67 895.12M303.13 533.88L381.96 555.01M303.13 533.88L241.77 598.49M381.96 555.01L491.67 579.8M381.96 555.01L586.35 675.29M381.96 555.01L599.35 737.05M381.96 555.01L166.6 769.15M381.96 555.01L215.36 620.84M381.96 555.01L241.77 598.49M418.53 558.26L307.6 565.99M455.91 565.99L307.6 908.53M455.91 565.99L166.6 769.15M455.91 565.99L163.75 737.05M491.67 579.8L418.53 916.66M491.67 579.8L272.25 579.8M521.33 598.49L570.91 828.48M521.33 598.49L272.25 895.12M521.33 598.49L241.77 598.49M521.33 598.49L344.58 558.26M570.91 646.44L595.69 769.15M595.69 706.17L599.35 737.05M595.69 706.17L344.58 916.66M595.69 706.17L241.77 598.49M599.35 737.05L586.35 800.04M595.69 769.15L455.91 908.53M595.69 769.15L176.76 800.04M586.35 800.04L491.67 895.12M586.35 800.04L455.91 908.53M586.35 800.04L307.6 908.53M586.35 800.04L272.25 895.12M586.35 800.04L215.36 854.49M586.35 800.04L193.01 828.48M570.91 828.48L521.33 876.83M570.91 828.48L455.91 908.53M570.91 828.48L418.53 916.66M548.56 854.49L215.36 854.49M521.33 876.83L166.6 706.17M491.67 895.12L272.25 895.12M455.91 908.53L176.76 800.04M418.53 916.66L241.77 876.83M418.53 916.66L166.6 769.15M418.53 916.66L176.76 675.29M381.96 919.91L193.01 646.44M272.25 895.12L344.58 558.26M241.77 876.83L176.76 800.04M241.77 876.83L163.75 737.05M215.36 854.49L163.75 737.05M215.36 854.49L193.01 646.44M193.01 828.48L176.76 800.04M193.01 828.48L176.76 675.29M176.76 800.04L241.77 598.49M176.76 800.04L344.58 558.26M166.6 769.15L193.01 646.44M166.6 706.17L193.01 646.44M166.6 706.17L215.36 620.84M166.6 706.17L241.77 598.49M215.36 620.84L344.58 558.26" stroke="#c9b6de" stroke-width="0.7" stroke-opacity="0.3" fill="none"/>
<path d="M381.96 523.73L381.96 951.19M381.96 523.73L303.13 940.22M460.38 533.88L570.91 828.48M460.38 533.88L418.53 916.66M460.38 533.88L215.36 854.49M460.38 533.88L215.36 620.84M460.38 533.88L344.58 558.26M532.3 565.17L174.73 862.61M532.3 565.17L586.35 800.04M588.79 611.9L586.35 800.04M588.79 611.9L166.6 706.17M624.95 671.63L138.16 803.29M624.95 671.63L418.53 558.26M624.95 671.63L586.35 675.29M624.95 671.63L418.53 916.66M624.95 671.63L344.58 916.66M637.95 737.05L588.79 862.61M637.95 737.05L303.13 533.88M637.95 737.05L586.35 675.29M637.95 737.05L548.56 854.49M637.95 737.05L521.33 876.83M637.95 737.05L166.6 706.17M624.95 803.29L521.33 598.49M588.79 862.61L381.96 555.01M588.79 862.61L599.35 737.05M588.79 862.61L570.91 828.48M588.79 862.61L241.77 876.83M532.3 910.56L455.91 565.99M532.3 910.56L521.33 598.49M532.3 910.56L344.58 558.26M460.38 940.22L138.16 671.63M460.38 940.22L381.96 555.01M460.38 940.22L176.76 800.04M460.38 940.22L166.6 706.17M381.96 951.19L307.6 908.53M381.96 951.19L307.6 565.99M303.13 940.22L570.91 646.44M303.13 940.22L344.58 916.66M303.13 940.22L215.36 854.49M303.13 940.22L241.77 598.49M231.21 910.56L303.13 533.88M231.21 910.56L455.91 565.99M231.21 910.56L570.91 828.48M174.73 862.61L548.56 620.84M174.73 862.61L491.67 895.12M174.73 862.61L272.25 895.12M174.73 862.61L176.76 800.04M174.73 862.61L176.76 675.29M125.56 737.05L491.67 895.12M125.56 737.05L455.91 908.53M125.56 737.05L241.77 876.83M125.56 737.05L307.6 565.99M138.16 671.63L570.91 828.48M174.73 611.9L521.33 598.49M174.73 611.9L548.56 620.84M174.73 611.9L595.69 769.15M174.73 611.9L176.76 675.29M231.21 565.17L381.96 555.01M231.21 565.17L241.77 876.83M303.13 533.88L521.33 876.83M303.13 533.88L215.36 620.84M303.13 533.88L272.25 579.8M381.96 555.01L570.91 646.44M381.96 555.01L595.69 706.17M381.96 555.01L455.91 908.53M381.96 555.01L193.01 828.48M381.96 555.01L193.01 646.44M418.53 558.26L166.6 706.17M418.53 558.26L272.25 579.8M455.91 565.99L215.36 620.84M455.91 565.99L241.77 598.49M491.67 579.8L241.77 876.83M491.67 579.8L241.77 598.49M521.33 598.49L595.69 769.15M548.56 620.84L570.91 646.44M548.56 620.84L570.91 828.48M548.56 620.84L166.6 769.15M548.56 620.84L163.75 737.05M570.91 646.44L418.53 916.66M570.91 646.44L344.58 558.26M586.35 675.29L599.35 737.05M586.35 675.29L272.25 895.12M586.35 675.29L166.6 769.15M586.35 675.29L307.6 565.99M595.69 706.17L241.77 876.83M595.69 706.17L176.76 800.04M595.69 706.17L193.01 646.44M599.35 737.05L163.75 737.05M595.69 769.15L491.67 895.12M595.69 769.15L215.36 620.84M570.91 828.48L548.56 854.49M570.91 828.48L166.6 706.17M570.91 828.48L193.01 646.44M521.33 876.83L241.77 876.83M521.33 876.83L166.6 769.15M521.33 876.83L272.25 579.8M521.33 876.83L307.6 565.99M491.67 895.12L307.6 565.99M381.96 919.91L307.6 908.53M272.25 895.12L241.77 598.49M241.77 876.83L215.36 620.84M193.01 828.48L241.77 598.49M176.76 800.04L166.6 769.15M176.76 800.04L193.01 646.44M176.76 800.04L215.36 620.84M176.76 800.04L272.25 579.8M166.6 769.15L163.75 737.05M166.6 706.17L176.76 675.29M176.76 675.29L193.01 646.44M241.77 598.49L272.25 579.8M307.6 565.99L344.58 558.26" stroke="#c9b6de" stroke-width="0.9" stroke-opacity="0.3" fill="none"/>
<path d="M381.96 523.73L174.73 862.61M381.96 523.73L548.56 854.49M381.96 523.73L521.33 876.83M381.96 523.73L272.25 895.12M460.38 533.88L381.96 555.01M460.38 533.88L272.25 895.12M532.3 565.17L548.56 854.49M532.3 565.17L521.33 876.83M532.3 565.17L193.01 646.44M588.79 611.9L303.13 940.22M588.79 611.9L418.53 558.26M588.79 611.9L570.91 646.44M588.79 611.9L595.69 706.17M624.95 671.63L637.95 737.05M624.95 671.63L532.3 910.56M624.95 671.63L138.16 671.63M624.95 671.63L174.73 611.9M624.95 671.63L241.77 876.83M624.95 671.63L163.75 737.05M624.95 671.63L166.6 706.17M637.95 737.05L532.3 910.56M637.95 737.05L599.35 737.05M637.95 737.05L215.36 854.49M624.95 803.29L381.96 951.19M624.95 803.29L231.21 565.17M624.95 803.29L491.67 579.8M624.95 803.29L491.67 895.12M624.95 803.29L381.96 919.91M588.79 862.61L303.13 940.22M588.79 862.61L344.58 916.66M588.79 862.61L193.01 646.44M532.3 910.56L460.38 940.22M532.3 910.56L303.13 940.22M532.3 910.56L595.69 769.15M532.3 910.56L272.25 895.12M460.38 940.22L303.13 533.88M460.38 940.22L491.67 579.8M460.38 940.22L548.56 620.84M460.38 940.22L570.91 828.48M381.96 951.19L303.13 940.22M381.96 951.19L418.53 558.26M381.96 951.19L570.91 828.48M381.96 951.19L381.96 919.91M381.96 951.19L163.75 737.05M381.96 951.19L166.6 706.17M303.13 940.22L521.33 598.49M303.13 940.22L455.91 908.53M303.13 940.22L272.25 579.8M231.21 910.56L418.53 916.66M138.16 803.29L521.33 876.83M125.56 737.05L521.33 598.49M138.16 671.63L595.69 706.17M138.16 671.63L491.67 895.12M138.16 671.63L241.77 876.83M138.16 671.63L193.01 828.48M174.73 611.9L381.96 555.01M174.73 611.9L163.75 737.05M174.73 611.9L215.36 620.84M231.21 565.17L176.76 675.29M303.13 533.88L215.36 854.49M381.96 555.01L586.35 800.04M455.91 565.99L166.6 706.17M455.91 565.99L193.01 646.44M491.67 579.8L570.91 646.44M491.67 579.8L491.67 895.12M491.67 579.8L307.6 908.53M521.33 598.49L570.91 646.44M521.33 598.49L193.01 646.44M548.56 620.84L193.01 646.44M570.91 646.44L595.69 706.17M570.91 646.44L586.35 800.04M570.91 646.44L344.58 916.66M570.91 646.44L176.76 800.04M570.91 646.44L176.76 675.29M586.35 675.29L586.35 800.04M586.35 675.29L193.01 828.48M599.35 737.05L595.69 769.15M599.35 737.05L166.6 706.17M595.69 769.15L418.53 916.66M595.69 769.15L163.75 737.05M570.91 828.48L381.96 919.91M548.56 854.49L521.33 876.83M548.56 854.49L272.25 895.12M548.56 854.49L241.77 876.83M548.56 854.49L176.76 675.29M548.56 854.49L215.36 620.84M521.33 876.83L491.67 895.12M455.91 908.53L344.58 916.66M455.91 908.53L166.6 769.15M381.96 919.91L272.25 895.12M381.96 919.91L215.36 620.84M307.6 908.53L344.58 558.26M272.25 895.12L166.6 769.15M193.01 828.48L215.36 620.84M193.01 646.44L241.77 598.49M193.01 646.44L307.6 565.99M215.36 620.84L272.25 579.8M241.77 598.49L307.6 565.99M272.25 579.8L344.58 558.26" stroke="#c9b6de" stroke-width="1.1" stroke-opacity="0.3" fill="none"/>
<path d="M381.96 523.73L174.73 611.9M381.96 523.73L521.33 598.49M381.96 523.73L163.75 737.05M381.96 523.73L344.58 558.26M460.38 533.88L532.3 910.56M460.38 533.88L174.73 862.61M460.38 533.88L166.6 769.15M460.38 533.88L163.75 737.05M532.3 565.17L381.96 951.19M532.3 565.17L138.16 671.63M532.3 565.17L570.91 646.44M532.3 565.17L344.58 916.66M532.3 565.17L241.77 598.49M588.79 611.9L532.3 910.56M588.79 611.9L241.77 876.83M588.79 611.9L193.01 828.48M624.95 671.63L588.79 862.61M624.95 671.63L586.35 800.04M624.95 671.63L193.01 828.48M624.95 671.63L176.76 800.04M637.95 737.05L125.56 737.05M637.95 737.05L138.16 671.63M637.95 737.05L381.96 555.01M637.95 737.05L570.91 828.48M637.95 737.05L418.53 916.66M637.95 737.05L193.01 828.48M637.95 737.05L176.76 800.04M637.95 737.05L166.6 769.15M637.95 737.05L163.75 737.05M624.95 803.29L599.35 737.05M624.95 803.29L272.25 895.12M624.95 803.29L163.75 737.05M588.79 862.61L418.53 558.26M588.79 862.61L455.91 565.99M588.79 862.61L586.35 675.29M588.79 862.61L381.96 919.91M588.79 862.61L307.6 908.53M588.79 862.61L163.75 737.05M588.79 862.61L176.76 675.29M532.3 910.56L174.73 611.9M532.3 910.56L595.69 706.17M460.38 940.22L491.67 895.12M460.38 940.22L241.77 876.83M460.38 940.22L307.6 565.99M381.96 951.19L231.21 565.17M381.96 951.19L491.67 579.8M381.96 951.19L344.58 916.66M303.13 940.22L174.73 862.61M303.13 940.22L381.96 555.01M303.13 940.22L163.75 737.05M231.21 910.56L138.16 671.63M231.21 910.56L174.73 611.9M231.21 910.56L381.96 555.01M231.21 910.56L166.6 706.17M231.21 910.56L215.36 620.84M174.73 862.61L491.67 579.8M174.73 862.61L586.35 800.04M174.73 862.61L215.36 854.49M174.73 862.61L193.01 828.48M174.73 862.61L166.6 769.15M138.16 803.29L125.56 737.05M138.16 803.29L570.91 646.44M138.16 803.29L586.35 800.04M138.16 803.29L570.91 828.48M138.16 803.29L166.6 769.15M138.16 803.29L344.58 558.26M125.56 737.05L595.69 769.15M125.56 737.05L272.25 895.12M125.56 737.05L166.6 769.15M138.16 671.63L570.91 646.44M174.73 611.9L418.53 558.26M174.73 611.9L595.69 706.17M174.73 611.9L599.35 737.05M174.73 611.9L307.6 908.53M231.21 565.17L586.35 675.29M231.21 565.17L595.69 769.15M231.21 565.17L455.91 908.53M231.21 565.17L176.76 800.04M231.21 565.17L193.01 646.44M231.21 565.17L272.25 579.8M418.53 558.26L570.91 646.44M418.53 558.26L570.91 828.48M418.53 558.26L344.58 558.26M455.91 565.99L595.69 706.17M455.91 565.99L595.69 769.15M455.91 565.99L548.56 854.49M455.91 565.99L418.53 916.66M455.91 565.99L381.96 919.91M491.67 579.8L521.33 598.49M491.67 579.8L599.35 737.05M491.67 579.8L381.96 919.91M491.67 579.8L272.25 895.12M521.33 598.49L586.35 675.29M521.33 598.49L307.6 565.99M548.56 620.84L491.67 895.12M548.56 620.84L344.58 916.66M548.56 620.84L272.25 895.12M548.56 620.84L215.36 620.84M548.56 620.84L307.6 565.99M570.91 646.44L599.35 737.05M570.91 646.44L570.91 828.48M570.91 646.44L455.91 908.53M570.91 646.44L272.25 579.8M570.91 646.44L307.6 565.99M586.35 675.29L595.69 769.15M586.35 675.29L570.91 828.48M586.35 675.29L176.76 800.04M586.35 675.29L166.6 706.17M595.69 706.17L176.76 675.29M599.35 737.05L166.6 769.15M595.69 769.15L272.25 895.12M586.35 800.04L381.96 919.91M586.35 800.04L241.77 876.83M570.91 828.48L272.25 895.12M570.91 828.48L166.6 769.15M548.56 854.49L418.53 916.66M548.56 854.49L193.01 828.48M548.56 854.49L163.75 737.05M548.56 854.49L344.58 558.26M521.33 876.83L381.96 919.91M491.67 895.12L344.58 558.26M455.91 908.53L176.76 675.29M418.53 916.66L176.76 800.04M344.58 916.66L344.58 558.26M307.6 908.53L272.25 895.12M307.6 908.53L241.77 876.83M241.77 876.83L166.6 706.17M193.01 828.48L272.25 579.8M166.6 769.15L272.25 579.8M163.75 737.05L166.6 706.17M163.75 737.05L215.36 620.84M215.36 620.84L307.6 565.99" stroke="#c9b6de" stroke-width="0.5" stroke-opacity="0.3" fill="none"/>
<path d="M381.96 523.73L241.77 876.83M381.96 523.73L176.76 800.04M381.96 523.73L166.6 706.17M460.38 533.88L637.95 737.05M460.38 533.88L381.96 951.19M460.38 533.88L174.73 611.9M460.38 533.88L595.69 769.15M460.38 533.88L176.76 800.04M460.38 533.88L166.6 706.17M460.38 533.88L193.01 646.44M532.3 565.17L381.96 555.01M532.3 565.17L455.91 565.99M532.3 565.17L455.91 908.53M532.3 565.17L418.53 916.66M532.3 565.17L176.76 800.04M532.3 565.17L272.25 579.8M532.3 565.17L344.58 558.26M588.79 611.9L624.95 671.63M588.79 611.9L637.95 737.05M588.79 611.9L455.91 565.99M588.79 611.9L548.56 620.84M588.79 611.9L272.25 895.12M588.79 611.9L176.76 800.04M588.79 611.9L215.36 620.84M624.95 671.63L460.38 940.22M624.95 671.63L455.91 565.99M624.95 671.63L272.25 895.12M624.95 671.63L193.01 646.44M637.95 737.05L455.91 565.99M637.95 737.05L521.33 598.49M637.95 737.05L595.69 769.15M637.95 737.05L344.58 916.66M637.95 737.05L241.77 876.83M624.95 803.29L460.38 940.22M624.95 803.29L125.56 737.05M624.95 803.29L455.91 908.53M624.95 803.29L241.77 876.83M624.95 803.29L215.36 854.49M624.95 803.29L241.77 598.49M588.79 862.61L381.96 951.19M588.79 862.61L138.16 803.29M588.79 862.61L138.16 671.63M588.79 862.61L548.56 620.84M588.79 862.61L215.36 854.49M588.79 862.61L307.6 565.99M532.3 910.56L381.96 951.19M532.3 910.56L231.21 910.56M532.3 910.56L138.16 671.63M532.3 910.56L303.13 533.88M532.3 910.56L455.91 908.53M460.38 940.22L303.13 940.22M460.38 940.22L548.56 854.49M460.38 940.22L381.96 919.91M460.38 940.22L241.77 598.49M460.38 940.22L272.25 579.8M381.96 951.19L138.16 803.29M381.96 951.19L521.33 876.83M381.96 951.19L491.67 895.12M381.96 951.19L215.36 620.84M303.13 940.22L138.16 803.29M303.13 940.22L570.91 828.48M303.13 940.22L307.6 565.99M303.13 940.22L344.58 558.26M231.21 910.56L166.6 769.15M174.73 862.61L166.6 706.17M174.73 862.61L193.01 646.44M174.73 862.61L272.25 579.8M138.16 803.29L599.35 737.05M138.16 803.29L455.91 908.53M138.16 803.29L307.6 908.53M125.56 737.05L418.53 558.26M138.16 671.63L307.6 908.53M174.73 611.9L491.67 579.8M174.73 611.9L586.35 800.04M174.73 611.9L570.91 828.48M174.73 611.9L548.56 854.49M174.73 611.9L344.58 916.66M231.21 565.17L570.91 828.48M231.21 565.17L166.6 769.15M303.13 533.88L548.56 620.84M303.13 533.88L272.25 895.12M303.13 533.88L166.6 769.15M303.13 533.88L166.6 706.17M303.13 533.88L176.76 675.29M381.96 555.01L521.33 598.49M381.96 555.01L570.91 828.48M381.96 555.01L548.56 854.49M381.96 555.01L166.6 706.17M381.96 555.01L176.76 675.29M381.96 555.01L307.6 565.99M418.53 558.26L586.35 675.29M418.53 558.26L344.58 916.66M418.53 558.26L176.76 675.29M455.91 565.99L521.33 598.49M455.91 565.99L241.77 876.83M455.91 565.99L307.6 565.99M491.67 579.8L595.69 769.15M491.67 579.8L215.36 854.49M491.67 579.8L176.76 800.04M491.67 579.8L344.58 558.26M521.33 598.49L307.6 908.53M521.33 598.49L272.25 579.8M548.56 620.84L586.35 675.29M548.56 620.84L193.01 828.48M548.56 620.84L176.76 675.29M570.91 646.44L381.96 919.91M570.91 646.44L272.25 895.12M570.91 646.44L215.36 854.49M586.35 675.29L595.69 706.17M586.35 675.29L491.67 895.12M586.35 675.29L307.6 908.53M595.69 706.17L307.6 565.99M599.35 737.05L570.91 828.48M599.35 737.05L381.96 919.91M599.35 737.05L215.36 620.84M599.35 737.05L272.25 579.8M595.69 769.15L381.96 919.91M595.69 769.15L176.76 675.29M595.69 769.15L272.25 579.8M595.69 769.15L344.58 558.26M586.35 800.04L570.91 828.48M586.35 800.04L344.58 916.66M586.35 800.04L166.6 706.17M586.35 800.04L176.76 675.29M570.91 828.48L241.77 876.83M570.91 828.48L176.76 675.29M570.91 828.48L215.36 620.84M548.56 854.49L491.67 895.12M491.67 895.12L163.75 737.05M455.91 908.53L163.75 737.05M455.91 908.53L272.25 579.8M381.96 919.91L215.36 854.49M344.58 916.66L193.01 828.48M344.58 916.66L176.76 675.29M307.6 908.53L176.76 675.29M307.6 908.53L307.6 565.99M215.36 854.49L166.6 706.17M193.01 828.48L166.6 769.15M176.76 675.29L241.77 598.49" stroke="#c9b6de" stroke-width="0.7" stroke-opacity="0.3" fill="none"/>
<path d="M381.96 523.73L624.95 803.29M381.96 523.73L455.91 565.99M381.96 523.73L381.96 919.91M460.38 533.88L586.35 800.04M460.38 533.88L521.33 876.83M460.38 533.88L455.91 908.53M532.3 565.17L588.79 862.61M532.3 565.17L521.33 598.49M532.3 565.17L215.36 854.49M588.79 611.9L231.21 565.17M588.79 611.9L521.33 598.49M588.79 611.9L381.96 919.91M588.79 611.9L166.6 769.15M588.79 611.9L241.77 598.49M624.95 671.63L624.95 803.29M624.95 671.63L125.56 737.05M624.95 671.63L307.6 908.53M624.95 671.63L176.76 675.29M637.95 737.05L381.96 951.19M637.95 737.05L303.13 940.22M637.95 737.05L491.67 579.8M637.95 737.05L176.76 675.29M624.95 803.29L595.69 769.15M588.79 862.61L460.38 940.22M588.79 862.61L231.21 565.17M460.38 940.22L418.53 558.26M460.38 940.22L570.91 646.44M460.38 940.22L521.33 876.83M460.38 940.22L272.25 895.12M381.96 951.19L231.21 910.56M381.96 951.19L125.56 737.05M381.96 951.19L138.16 671.63M381.96 951.19L586.35 800.04M381.96 951.19L241.77 598.49M303.13 940.22L138.16 671.63M303.13 940.22L193.01 828.48M303.13 940.22L166.6 769.15M174.73 862.61L138.16 803.29M174.73 862.61L241.77 598.49M138.16 803.29L455.91 565.99M138.16 803.29L344.58 916.66M138.16 803.29L215.36 854.49M125.56 737.05L491.67 579.8M125.56 737.05L599.35 737.05M125.56 737.05L521.33 876.83M138.16 671.63L174.73 611.9M138.16 671.63L215.36 620.84M138.16 671.63L272.25 579.8M174.73 611.9L303.13 533.88M174.73 611.9L381.96 919.91M174.73 611.9L166.6 706.17M174.73 611.9L344.58 558.26M231.21 565.17L570.91 646.44M231.21 565.17L586.35 800.04M231.21 565.17L307.6 565.99M231.21 565.17L344.58 558.26M303.13 533.88L548.56 854.49M303.13 533.88L163.75 737.05M303.13 533.88L307.6 565.99M418.53 558.26L521.33 598.49M455.91 565.99L176.76 675.29M491.67 579.8L193.01 828.48M521.33 598.49L418.53 916.66M521.33 598.49L166.6 706.17M548.56 620.84L595.69 706.17M548.56 620.84L599.35 737.05M548.56 620.84L418.53 916.66M548.56 620.84L307.6 908.53M548.56 620.84L176.76 800.04M548.56 620.84L241.77 598.49M570.91 646.44L307.6 908.53M586.35 675.29L381.96 919.91M595.69 706.17L595.69 769.15M595.69 706.17L586.35 800.04M599.35 737.05L193.01 646.44M595.69 769.15L241.77 876.83M586.35 800.04L418.53 916.66M586.35 800.04L193.01 646.44M570.91 828.48L344.58 916.66M570.91 828.48L307.6 565.99M548.56 854.49L455.91 908.53M548.56 854.49L381.96 919.91M548.56 854.49L176.76 800.04M548.56 854.49L241.77 598.49M548.56 854.49L307.6 565.99M521.33 876.83L344.58 916.66M521.33 876.83L215.36 620.84M455.91 908.53L215.36 854.49M418.53 916.66L272.25 895.12M418.53 916.66L163.75 737.05M381.96 919.91L166.6 769.15M344.58 916.66L215.36 620.84M307.6 908.53L215.36 854.49M272.25 895.12L163.75 737.05M241.77 876.83L344.58 558.26M215.36 854.49L241.77 598.49M176.76 800.04L163.75 737.05M176.76 800.04L166.6 706.17M166.6 769.15L241.77 598.49M166.6 769.15L344.58 558.26M166.6 706.17L307.6 565.99M176.76 675.29L215.36 620.84M241.77 598.49L344.58 558.26" stroke="#c9b6de" stroke-width="0.9" stroke-opacity="0.3" fill="none"/>
<path d="M381.96 523.73L588.79 862.61M381.96 523.73L491.67 895.12M381.96 523.73L418.53 916.66M460.38 533.88L231.21 565.17M460.38 533.88L418.53 558.26M460.38 533.88L176.76 675.29M532.3 565.17L303.13 940.22M588.79 611.9L138.16 803.29M588.79 611.9L174.73 611.9M588.79 611.9L418.53 916.66M588.79 611.9L193.01 646.44M588.79 611.9L344.58 558.26M624.95 671.63L548.56 854.49M624.95 671.63L307.6 565.99M637.95 737.05L272.25 895.12M624.95 803.29L303.13 533.88M624.95 803.29L455.91 565.99M624.95 803.29L344.58 558.26M588.79 862.61L125.56 737.05M588.79 862.61L303.13 533.88M588.79 862.61L548.56 854.49M588.79 862.61L193.01 828.48M588.79 862.61L176.76 800.04M588.79 862.61L241.77 598.49M532.3 910.56L381.96 555.01M532.3 910.56L548.56 620.84M532.3 910.56L166.6 769.15M460.38 940.22L174.73 862.61M460.38 940.22L174.73 611.9M460.38 940.22L231.21 565.17M460.38 940.22L595.69 769.15M460.38 940.22L193.01 646.44M381.96 951.19L174.73 862.61M381.96 951.19L174.73 611.9M381.96 951.19L586.35 675.29M381.96 951.19L455.91 908.53M303.13 940.22L455.91 565.99M303.13 940.22L599.35 737.05M174.73 862.61L174.73 611.9M174.73 862.61L570.91 646.44M174.73 862.61L215.36 620.84M138.16 803.29L381.96 555.01M138.16 803.29L595.69 769.15M138.16 803.29L163.75 737.05M125.56 737.05L570.91 646.44M138.16 671.63L231.21 565.17M138.16 671.63L586.35 675.29M138.16 671.63L166.6 769.15M138.16 671.63L166.6 706.17M138.16 671.63L241.77 598.49M174.73 611.9L455.91 565.99M174.73 611.9L193.01 646.44M231.21 565.17L303.13 533.88M231.21 565.17L241.77 598.49M303.13 533.88L586.35 800.04M303.13 533.88L193.01 828.48M381.96 555.01L595.69 769.15M455.91 565.99L491.67 579.8M455.91 565.99L548.56 620.84M455.91 565.99L521.33 876.83M455.91 565.99L344.58 916.66M491.67 579.8L595.69 706.17M491.67 579.8L521.33 876.83M521.33 598.49L163.75 737.05M548.56 620.84L521.33 876.83M570.91 646.44L193.01 828.48M586.35 675.29L418.53 916.66M599.35 737.05L418.53 916.66M599.35 737.05L176.76 800.04M595.69 769.15L307.6 908.53M570.91 828.48L491.67 895.12M570.91 828.48L215.36 854.49M521.33 876.83L176.76 800.04M491.67 895.12L307.6 908.53M491.67 895.12L272.25 579.8M418.53 916.66L241.77 598.49M418.53 916.66L307.6 565.99M344.58 916.66L166.6 706.17M344.58 916.66L241.77 598.49M307.6 908.53L176.76 800.04M307.6 908.53L163.75 737.05M272.25 895.12L241.77 876.83M272.25 895.12L215.36 620.84M272.25 895.12L307.6 565.99M193.01 828.48L344.58 558.26M163.75 737.05L307.6 565.99" stroke="#c9b6de" stroke-width="1.1" stroke-opacity="0.3" fill="none"/>
<path d="M381.96 523.73L532.3 565.17M381.96 523.73L637.95 737.05M381.96 523.73L125.56 737.05M381.96 523.73L548.56 620.84M381.96 523.73L570.91 828.48M381.96 523.73L166.6 769.15M381.96 523.73L193.01 646.44M460.38 533.88L138.16 803.29M460.38 533.88L138.16 671.63M460.38 533.88L586.35 675.29M460.38 533.88L344.58 916.66M532.3 565.17L637.95 737.05M532.3 565.17L624.95 803.29M532.3 565.17L125.56 737.05M532.3 565.17L174.73 611.9M532.3 565.17L595.69 769.15M532.3 565.17L491.67 895.12M532.3 565.17L381.96 919.91M532.3 565.17L166.6 769.15M588.79 611.9L624.95 803.29M588.79 611.9L381.96 555.01M588.79 611.9L215.36 854.49M588.79 611.9L307.6 565.99M624.95 671.63L595.69 769.15M637.95 737.05L231.21 910.56M637.95 737.05L193.01 646.44M637.95 737.05L215.36 620.84M637.95 737.05L272.25 579.8M624.95 803.29L174.73 862.61M624.95 803.29L570.91 828.48M624.95 803.29L418.53 916.66M588.79 862.61L491.67 895.12M588.79 862.61L215.36 620.84M532.3 910.56L599.35 737.05M532.3 910.56L570.91 828.48M532.3 910.56L215.36 854.49M460.38 940.22L231.21 910.56M460.38 940.22L418.53 916.66M460.38 940.22L163.75 737.05M381.96 951.19L176.76 675.29M303.13 940.22L418.53 558.26M303.13 940.22L548.56 620.84M303.13 940.22L595.69 769.15M303.13 940.22L491.67 895.12M303.13 940.22L166.6 706.17M231.21 910.56L586.35 800.04M231.21 910.56L241.77 876.83M231.21 910.56L176.76 675.29M231.21 910.56L193.01 646.44M231.21 910.56L241.77 598.49M174.73 862.61L303.13 533.88M174.73 862.61L455.91 565.99M138.16 803.29L193.01 646.44M125.56 737.05L586.35 800.04M125.56 737.05L176.76 675.29M138.16 671.63L303.13 533.88M138.16 671.63L491.67 579.8M138.16 671.63L548.56 620.84M138.16 671.63L599.35 737.05M138.16 671.63L455.91 908.53M174.73 611.9L231.21 565.17M174.73 611.9L521.33 876.83M174.73 611.9L491.67 895.12M174.73 611.9L418.53 916.66M231.21 565.17L455.91 565.99M231.21 565.17L548.56 854.49M303.13 533.88L455.91 565.99M303.13 533.88L344.58 916.66M418.53 558.26L491.67 579.8M418.53 558.26L586.35 800.04M418.53 558.26L521.33 876.83M418.53 558.26L455.91 908.53M418.53 558.26L163.75 737.05M418.53 558.26L215.36 620.84M418.53 558.26L241.77 598.49M491.67 579.8L586.35 675.29M491.67 579.8L548.56 854.49M548.56 620.84L166.6 706.17M570.91 646.44L193.01 646.44M586.35 675.29L344.58 916.66M586.35 675.29L344.58 558.26M595.69 706.17L491.67 895.12M595.69 706.17L166.6 769.15M595.69 706.17L215.36 620.84M599.35 737.05L272.25 895.12M599.35 737.05L215.36 854.49M599.35 737.05L193.01 828.48M599.35 737.05L241.77 598.49M599.35 737.05L344.58 558.26M595.69 769.15L521.33 876.83M548.56 854.49L166.6 769.15M548.56 854.49L272.25 579.8M521.33 876.83L455.91 908.53M521.33 876.83L418.53 916.66M521.33 876.83L307.6 908.53M521.33 876.83L272.25 895.12M521.33 876.83L176.76 675.29M491.67 895.12L344.58 916.66M491.67 895.12L241.77 876.83M491.67 895.12L166.6 706.17M491.67 895.12L176.76 675.29M455.91 908.53L241.77 598.49M418.53 916.66L381.96 919.91M418.53 916.66L166.6 706.17M418.53 916.66L344.58 558.26M381.96 919.91L241.77 876.83M344.58 916.66L163.75 737.05M307.6 908.53L166.6 769.15M307.6 908.53L193.01 646.44M272.25 895.12L215.36 854.49M241.77 876.83L176.76 675.29M241.77 876.83L307.6 565.99M215.36 854.49L193.01 828.48M215.36 854.49L176.76 675.29M215.36 854.49L272.25 579.8M193.01 828.48L307.6 565.99M176.76 800.04L307.6 565.99M163.75 737.05L344.58 558.26M176.76 675.29L344.58 558.26" stroke="#c9b6de" stroke-width="0.5" stroke-opacity="0.3" fill="none"/>
<path d="M381.96 523.73L460.38 533.88M381.96 523.73L624.95 671.63M381.96 523.73L241.77 598.49M460.38 533.88L303.13 940.22M460.38 533.88L570.91 646.44M460.38 533.88L381.96 919.91M532.3 565.17L231.21 910.56M532.3 565.17L138.16 803.29M532.3 565.17L595.69 706.17M532.3 565.17L193.01 828.48M532.3 565.17L166.6 706.17M588.79 611.9L588.79 862.61M588.79 611.9L381.96 951.19M588.79 611.9L491.67 579.8M588.79 611.9L548.56 854.49M588.79 611.9L455.91 908.53M624.95 671.63L174.73 862.61M624.95 671.63L548.56 620.84M624.95 671.63L599.35 737.05M624.95 671.63L521.33 876.83M624.95 671.63L215.36 854.49M624.95 671.63L272.25 579.8M637.95 737.05L460.38 940.22M637.95 737.05L570.91 646.44M637.95 737.05L586.35 800.04M624.95 803.29L521.33 876.83M624.95 803.29L344.58 916.66M588.79 862.61L570.91 646.44M588.79 862.61L166.6 706.17M532.3 910.56L174.73 862.61M532.3 910.56L125.56 737.05M532.3 910.56L586.35 800.04M532.3 910.56L548.56 854.49M532.3 910.56L381.96 919.91M532.3 910.56L176.76 800.04M532.3 910.56L215.36 620.84M460.38 940.22L138.16 803.29M460.38 940.22L586.35 675.29M460.38 940.22L586.35 800.04M460.38 940.22L193.01 828.48M460.38 940.22L176.76 675.29M381.96 951.19L381.96 555.01M381.96 951.19L418.53 916.66M381.96 951.19L215.36 854.49M303.13 940.22L125.56 737.05M303.13 940.22L174.73 611.9M303.13 940.22L586.35 800.04M231.21 910.56L174.73 862.61M231.21 910.56L570.91 646.44M231.21 910.56L548.56 854.49M231.21 910.56L455.91 908.53M231.21 910.56L163.75 737.05M174.73 862.61L344.58 916.66M138.16 803.29L303.13 533.88M138.16 803.29L521.33 598.49M138.16 803.29L548.56 620.84M138.16 803.29L381.96 919.91M125.56 737.05L231.21 565.17M125.56 737.05L548.56 620.84M125.56 737.05L307.6 908.53M125.56 737.05L176.76 800.04M138.16 671.63L381.96 919.91M138.16 671.63L215.36 854.49M138.16 671.63L176.76 800.04M138.16 671.63L176.76 675.29M174.73 611.9L215.36 854.49M174.73 611.9L166.6 769.15M231.21 565.17L521.33 876.83M303.13 533.88L418.53 558.26M303.13 533.88L586.35 675.29M303.13 533.88L176.76 800.04M418.53 558.26L548.56 620.84M418.53 558.26L599.35 737.05M418.53 558.26L595.69 769.15M418.53 558.26L381.96 919.91M491.67 579.8L215.36 620.84M491.67 579.8L307.6 565.99M521.33 598.49L548.56 620.84M521.33 598.49L595.69 706.17M521.33 598.49L586.35 800.04M521.33 598.49L548.56 854.49M521.33 598.49L491.67 895.12M521.33 598.49L455.91 908.53M548.56 620.84L595.69 769.15M570.91 646.44L215.36 620.84M586.35 675.29L455.91 908.53M586.35 675.29L241.77 876.83M586.35 675.29L163.75 737.05M586.35 675.29L176.76 675.29M595.69 706.17L455.91 908.53M595.69 706.17L193.01 828.48M595.69 706.17L344.58 558.26M595.69 769.15L344.58 916.66M595.69 769.15L215.36 854.49M595.69 769.15L193.01 828.48M595.69 769.15L193.01 646.44M586.35 800.04L344.58 558.26M548.56 854.49L193.01 646.44M521.33 876.83L215.36 854.49M521.33 876.83L193.01 828.48M521.33 876.83L163.75 737.05M491.67 895.12L215.36 854.49M455.91 908.53L193.01 828.48M455.91 908.53L166.6 706.17M455.91 908.53L215.36 620.84M418.53 916.66L344.58 916.66M418.53 916.66L193.01 828.48M381.96 919.91L176.76 675.29M381.96 919.91L307.6 565.99M307.6 908.53L166.6 706.17M272.25 895.12L176.76 800.04M272.25 895.12L176.76 675.29M272.25 895.12L272.25 579.8M241.77 876.83L215.36 854.49M193.01 828.48L163.75 737.05M163.75 737.05L272.25 579.8M166.6 706.17L344.58 558.26M176.76 675.29L272.25 579.8M215.36 620.84L241.77 598.49M272.25 579.8L307.6 565.99" stroke="#c9b6de" stroke-width="0.7" stroke-opacity="0.3" fill="none"/>
<path d="M381.96 523.73L303.13 533.88M381.96 523.73L381.96 555.01M381.96 523.73L586.35 800.04M381.96 523.73L455.91 908.53M381.96 523.73L215.36 620.84M460.38 533.88L588.79 611.9M460.38 533.88L303.13 533.88M460.38 533.88L307.6 908.53M460.38 533.88L241.77 876.83M460.38 533.88L272.25 579.8M532.3 565.17L532.3 910.56M532.3 565.17L599.35 737.05M532.3 565.17L176.76 675.29M588.79 611.9L125.56 737.05M588.79 611.9L138.16 671.63M588.79 611.9L599.35 737.05M588.79 611.9L570.91 828.48M624.95 671.63L303.13 940.22M624.95 671.63L570.91 646.44M624.95 671.63L570.91 828.48M637.95 737.05L624.95 803.29M637.95 737.05L241.77 598.49M624.95 803.29L588.79 862.61M624.95 803.29L303.13 940.22M624.95 803.29L548.56 620.84M624.95 803.29L570.91 646.44M624.95 803.29L166.6 769.15M624.95 803.29L176.76 675.29M588.79 862.61L491.67 579.8M588.79 862.61L586.35 800.04M588.79 862.61L344.58 558.26M532.3 910.56L344.58 916.66M532.3 910.56L241.77 876.83M532.3 910.56L176.76 675.29M460.38 940.22L381.96 951.19M460.38 940.22L215.36 620.84M381.96 951.19L599.35 737.05M381.96 951.19L272.25 895.12M381.96 951.19L166.6 769.15M381.96 951.19L193.01 646.44M303.13 940.22L303.13 533.88M303.13 940.22L491.67 579.8M303.13 940.22L193.01 646.44M231.21 910.56L125.56 737.05M231.21 910.56L548.56 620.84M231.21 910.56L491.67 895.12M231.21 910.56L307.6 908.53M231.21 910.56L307.6 565.99M174.73 862.61L586.35 675.29M174.73 862.61L595.69 706.17M174.73 862.61L307.6 565.99M174.73 862.61L344.58 558.26M138.16 803.29L595.69 706.17M138.16 803.29L548.56 854.49M138.16 803.29L272.25 895.12M125.56 737.05L138.16 671.63M125.56 737.05L303.13 533.88M125.56 737.05L381.96 919.91M125.56 737.05L344.58 916.66M138.16 671.63L586.35 800.04M138.16 671.63L344.58 916.66M138.16 671.63L272.25 895.12M138.16 671.63L344.58 558.26M231.21 565.17L418.53 558.26M231.21 565.17L418.53 916.66M303.13 533.88L491.67 579.8M303.13 533.88L595.69 706.17M303.13 533.88L491.67 895.12M303.13 533.88L307.6 908.53M303.13 533.88L344.58 558.26M381.96 555.01L455.91 565.99M381.96 555.01L491.67 895.12M381.96 555.01L418.53 916.66M381.96 555.01L344.58 916.66M381.96 555.01L272.25 895.12M381.96 555.01L241.77 876.83M381.96 555.01L176.76 800.04M381.96 555.01L344.58 558.26M418.53 558.26L491.67 895.12M418.53 558.26L215.36 854.49M418.53 558.26L176.76 800.04M455.91 565.99L272.25 579.8M491.67 579.8L586.35 800.04M491.67 579.8L176.76 675.29M521.33 598.49L193.01 828.48M548.56 620.84L455.91 908.53M570.91 646.44L586.35 675.29M570.91 646.44L548.56 854.49M570.91 646.44L491.67 895.12M570.91 646.44L163.75 737.05M595.69 706.17L381.96 919.91M595.69 706.17L307.6 908.53M595.69 706.17L166.6 706.17M599.35 737.05L521.33 876.83M599.35 737.05L241.77 876.83M599.35 737.05L307.6 565.99M586.35 800.04L166.6 769.15M586.35 800.04L241.77 598.49M491.67 895.12L418.53 916.66M491.67 895.12L193.01 828.48M491.67 895.12L241.77 598.49M455.91 908.53L307.6 908.53M455.91 908.53L241.77 876.83M344.58 916.66L241.77 876.83M344.58 916.66L193.01 646.44M307.6 908.53L215.36 620.84M272.25 895.12L193.01 646.44" stroke="#c9b6de" stroke-width="0.9" stroke-opacity="0.3" fill="none"/>
<path d="M381.96 523.73L460.38 940.22M381.96 523.73L491.67 579.8M381.96 523.73L570.91 646.44M381.96 523.73L215.36 854.49M460.38 533.88L521.33 598.49M460.38 533.88L241.77 598.49M532.3 565.17L588.79 611.9M532.3 565.17L624.95 671.63M532.3 565.17L241.77 876.83M532.3 565.17L163.75 737.05M588.79 611.9L595.69 769.15M588.79 611.9L491.67 895.12M588.79 611.9L307.6 908.53M624.95 671.63L231.21 565.17M624.95 671.63L381.96 919.91M624.95 671.63L215.36 620.84M624.95 803.29L174.73 611.9M624.95 803.29L381.96 555.01M624.95 803.29L418.53 558.26M624.95 803.29L586.35 675.29M624.95 803.29L548.56 854.49M624.95 803.29L193.01 828.48M588.79 862.61L532.3 910.56M588.79 862.61L595.69 769.15M532.3 910.56L138.16 803.29M532.3 910.56L586.35 675.29M532.3 910.56L491.67 895.12M381.96 951.19L548.56 620.84M381.96 951.19L595.69 769.15M381.96 951.19L548.56 854.49M303.13 940.22L241.77 876.83M303.13 940.22L176.76 800.04M231.21 910.56L231.21 565.17M231.21 910.56L418.53 558.26M231.21 910.56L521.33 598.49M231.21 910.56L272.25 895.12M174.73 862.61L231.21 565.17M174.73 862.61L599.35 737.05M174.73 862.61L570.91 828.48M174.73 862.61L307.6 908.53M174.73 862.61L163.75 737.05M138.16 803.29L491.67 579.8M138.16 803.29L241.77 876.83M138.16 803.29L176.76 800.04M138.16 803.29L166.6 706.17M138.16 803.29L307.6 565.99M125.56 737.05L455.91 565.99M125.56 737.05L193.01 646.44M138.16 671.63L381.96 555.01M138.16 671.63L521.33 598.49M138.16 671.63L193.01 646.44M138.16 671.63L307.6 565.99M174.73 611.9L570.91 646.44M174.73 611.9L455.91 908.53M174.73 611.9L272.25 895.12M174.73 611.9L193.01 828.48M174.73 611.9L272.25 579.8M231.21 565.17L491.67 579.8M231.21 565.17L272.25 895.12M231.21 565.17L215.36 854.49M231.21 565.17L215.36 620.84M303.13 533.88L241.77 876.83M381.96 555.01L272.25 579.8M418.53 558.26L272.25 895.12M418.53 558.26L241.77 876.83M455.91 565.99L586.35 675.29M455.91 565.99L599.35 737.05M455.91 565.99L455.91 908.53M455.91 565.99L215.36 854.49M455.91 565.99L176.76 800.04M455.91 565.99L344.58 558.26M491.67 579.8L455.91 908.53M491.67 579.8L163.75 737.05M491.67 579.8L193.01 646.44M521.33 598.49L381.96 919.91M521.33 598.49L344.58 916.66M521.33 598.49L215.36 854.49M521.33 598.49L176.76 800.04M521.33 598.49L176.76 675.29M548.56 620.84L548.56 854.49M548.56 620.84L215.36 854.49M570.91 646.44L166.6 706.17M595.69 706.17L418.53 916.66M595.69 706.17L215.36 854.49M599.35 737.05L307.6 908.53M595.69 769.15L241.77 598.49M570.91 828.48L193.01 828.48M548.56 854.49L344.58 916.66M521.33 876.83L193.01 646.44M521.33 876.83L344.58 558.26M455.91 908.53L272.25 895.12M418.53 916.66L215.36 620.84M381.96 919.91L193.01 828.48M381.96 919.91L272.25 579.8M344.58 916.66L176.76 800.04M307.6 908.53L241.77 598.49M307.6 908.53L272.25 579.8M241.77 876.83L193.01 646.44M241.77 876.83L241.77 598.49M215.36 854.49L166.6 769.15M215.36 854.49L307.6 565.99M193.01 828.48L193.01 646.44M176.76 800.04L176.76 675.29M166.6 769.15L166.6 706.17M166.6 769.15L215.36 620.84M163.75 737.05L193.01 646.44M166.6 706.17L272.25 579.8M193.01 646.44L215.36 620.84" stroke="#c9b6de" stroke-width="1.1" stroke-opacity="0.3" fill="none"/>
<path d="M381.96 523.73L624.95 803.29M637.95 737.05L381.96 919.91M381.96 951.19L381.96 555.01M303.13 533.88L455.91 565.99M303.13 533.88L176.76 675.29M548.56 620.84L570.91 828.48M570.91 646.44L241.77 876.83M455.91 908.53L215.36 620.84" stroke="#a9b7e2" stroke-width="0.5" stroke-opacity="0.45" fill="none"/>
<path d="M532.3 910.56L166.6 769.15M303.13 940.22L599.35 737.05M231.21 565.17L303.13 533.88M215.36 854.49L176.76 800.04M176.76 675.29L272.25 579.8" stroke="#a9b7e2" stroke-width="0.7" stroke-opacity="0.45" fill="none"/>
<path d="M588.79 611.9L241.77 876.83M624.95 671.63L460.38 940.22M624.95 803.29L460.38 940.22M174.73 862.61L491.67 895.12M125.56 737.05L193.01 828.48M418.53 558.26L176.76 675.29M570.91 646.44L163.75 737.05M176.76 800.04L166.6 769.15" stroke="#a9b7e2" stroke-width="0.9" stroke-opacity="0.45" fill="none"/>
<path d="M532.3 565.17L176.76 675.29M532.3 565.17L344.58 558.26M588.79 611.9L381.96 919.91M138.16 803.29L307.6 908.53M138.16 803.29L344.58 558.26M599.35 737.05L193.01 828.48M599.35 737.05L163.75 737.05M521.33 876.83L272.25 895.12" stroke="#a9b7e2" stroke-width="1.1" stroke-opacity="0.45" fill="none"/>
<path d="M460.38 533.88L307.6 908.53M532.3 565.17L231.21 910.56M588.79 611.9L174.73 862.61M381.96 951.19L303.13 533.88M303.13 940.22L174.73 611.9M138.16 803.29L241.77 598.49M138.16 671.63L344.58 558.26M455.91 908.53L241.77 876.83" stroke="#a9b7e2" stroke-width="0.5" stroke-opacity="0.45" fill="none"/>
<path d="M381.96 523.73L460.38 940.22M460.38 533.88L241.77 598.49M532.3 565.17L272.25 579.8M588.79 611.9L344.58 916.66M624.95 803.29L193.01 646.44M588.79 862.61L521.33 598.49M418.53 558.26L272.25 579.8M586.35 675.29L595.69 769.15M586.35 675.29L344.58 558.26M595.69 706.17L586.35 800.04" stroke="#a9b7e2" stroke-width="0.7" stroke-opacity="0.45" fill="none"/>
<path d="M381.96 523.73L637.95 737.05M588.79 611.9L381.96 951.19M532.3 910.56L418.53 558.26M125.56 737.05L241.77 598.49M231.21 565.17L599.35 737.05M303.13 533.88L548.56 854.49M586.35 675.29L166.6 769.15M193.01 828.48L176.76 800.04" stroke="#a9b7e2" stroke-width="0.9" stroke-opacity="0.45" fill="none"/>
<path d="M588.79 862.61L586.35 800.04M174.73 862.61L418.53 916.66" stroke="#a9b7e2" stroke-width="1.1" stroke-opacity="0.45" fill="none"/>
<path d="M381.96 523.73L163.75 737.05M460.38 940.22L599.35 737.05M381.96 951.19L344.58 916.66M231.21 910.56L418.53 558.26M125.56 737.05L521.33 598.49M595.69 769.15L166.6 769.15" stroke="#a9b7e2" stroke-width="0.5" stroke-opacity="0.45" fill="none"/>
<path d="M624.95 803.29L599.35 737.05M588.79 862.61L460.38 940.22M174.73 862.61L166.6 769.15M138.16 671.63L418.53 916.66M303.13 533.88L595.69 706.17M303.13 533.88L272.25 895.12M586.35 800.04L241.77 598.49M491.67 895.12L344.58 558.26M418.53 916.66L307.6 908.53M344.58 916.66L307.6 908.53" stroke="#a9b7e2" stroke-width="0.7" stroke-opacity="0.45" fill="none"/>
<path d="M381.96 523.73L381.96 919.91M460.38 533.88L381.96 555.01M460.38 940.22L521.33 598.49M381.96 555.01L193.01 646.44M586.35 675.29L176.76 800.04M595.69 769.15L193.01 646.44" stroke="#a9b7e2" stroke-width="0.9" stroke-opacity="0.45" fill="none"/>
<path d="M231.21 565.17L418.53 558.26M231.21 565.17L491.67 579.8M599.35 737.05L166.6 706.17M570.91 828.48L193.01 646.44M521.33 876.83L307.6 908.53M418.53 916.66L176.76 800.04M163.75 737.05L166.6 706.17" stroke="#a9b7e2" stroke-width="1.1" stroke-opacity="0.45" fill="none"/>
<path d="M381.96 523.73L588.79 611.9M174.73 611.9L166.6 769.15M548.56 620.84L521.33 876.83M570.91 828.48L176.76 675.29" stroke="#a6d5df" stroke-width="0.5" stroke-opacity="0.5" fill="none"/>
<path d="M624.95 671.63L381.96 919.91M532.3 910.56L548.56 854.49M231.21 910.56L381.96 919.91M138.16 671.63L241.77 598.49M521.33 598.49L215.36 854.49" stroke="#a6d5df" stroke-width="0.8" stroke-opacity="0.5" fill="none"/>
<path d="M570.91 828.48L193.01 646.44" stroke="#a6d5df" stroke-width="1.1" stroke-opacity="0.5" fill="none"/>
<path d="M624.95 671.63L586.35 675.29M460.38 940.22L307.6 908.53M174.73 862.61L381.96 919.91M138.16 803.29L418.53 916.66M138.16 803.29L163.75 737.05M381.96 555.01L570.91 646.44" stroke="#a6d5df" stroke-width="0.5" stroke-opacity="0.5" fill="none"/>
<path d="M455.91 565.99L586.35 675.29M166.6 769.15L272.25 579.8" stroke="#a6d5df" stroke-width="0.6" stroke-opacity="0.5" fill="none"/>
<path d="M570.91 828.48L344.58 916.66" stroke="#a6d5df" stroke-width="0.8" stroke-opacity="0.5" fill="none"/>
<path d="M231.21 910.56L231.21 565.17M231.21 910.56L491.67 579.8M125.56 737.05L548.56 620.84" stroke="#a6d5df" stroke-width="1.1" stroke-opacity="0.5" fill="none"/>
<path d="M381.96 951.19L570.91 646.44M138.16 803.29L193.01 828.48M125.56 737.05L166.6 769.15M548.56 854.49L166.6 769.15" stroke="#a6d5df" stroke-width="0.5" stroke-opacity="0.5" fill="none"/>
<path d="M138.16 803.29L125.56 737.05M344.58 916.66L176.76 675.29" stroke="#a6d5df" stroke-width="0.6" stroke-opacity="0.5" fill="none"/>
<path d="M381.96 555.01L241.77 876.83" stroke="#a6d5df" stroke-width="0.8" stroke-opacity="0.5" fill="none"/>
<path d="M460.38 940.22L272.25 579.8M381.96 951.19L272.25 895.12" stroke="#a6d5df" stroke-width="1.1" stroke-opacity="0.5" fill="none"/>
<path d="M588.79 611.9L521.33 598.49M624.95 671.63L138.16 803.29M624.95 671.63L381.96 919.91M637.95 737.05L570.91 646.44M588.79 862.61L586.35 675.29M588.79 862.61L344.58 558.26M460.38 940.22L381.96 919.91M381.96 951.19L521.33 598.49M381.96 951.19L344.58 558.26M231.21 910.56L344.58 916.66M174.73 862.61L166.6 769.15M138.16 803.29L570.91 828.48M138.16 671.63L303.13 533.88M138.16 671.63L418.53 558.26M138.16 671.63L491.67 895.12M138.16 671.63L193.01 828.48M138.16 671.63L215.36 620.84M491.67 579.8L241.77 876.83M548.56 620.84L272.25 579.8M586.35 675.29L176.76 675.29M586.35 675.29L344.58 558.26M570.91 828.48L307.6 908.53M307.6 565.99L344.58 558.26" stroke="#e4a0a8" stroke-width="0.5" stroke-opacity="0.36" fill="none"/>
<path d="M381.96 523.73L381.96 951.19M532.3 565.17L303.13 533.88M588.79 611.9L381.96 919.91M624.95 671.63L460.38 940.22M624.95 803.29L176.76 800.04M588.79 862.61L174.73 611.9M532.3 910.56L307.6 908.53M303.13 940.22L215.36 620.84M174.73 862.61L344.58 558.26M138.16 803.29L344.58 558.26M125.56 737.05L491.67 895.12M125.56 737.05L344.58 558.26M138.16 671.63L174.73 611.9M138.16 671.63L215.36 854.49M138.16 671.63L193.01 646.44M138.16 671.63L241.77 598.49M174.73 611.9L215.36 854.49M174.73 611.9L176.76 675.29M231.21 565.17L599.35 737.05M418.53 558.26L193.01 828.48M418.53 558.26L166.6 769.15M570.91 646.44L215.36 854.49M570.91 646.44L166.6 706.17M586.35 675.29L307.6 908.53M595.69 706.17L381.96 919.91M521.33 876.83L491.67 895.12M521.33 876.83L241.77 876.83M307.6 908.53L163.75 737.05M215.36 854.49L166.6 706.17M193.01 828.48L163.75 737.05M193.01 828.48L176.76 675.29M176.76 800.04L272.25 579.8" stroke="#e4a0a8" stroke-width="0.6" stroke-opacity="0.36" fill="none"/>
<path d="M532.3 565.17L586.35 800.04M532.3 565.17L272.25 579.8M588.79 611.9L588.79 862.61M588.79 611.9L586.35 675.29M588.79 611.9L215.36 854.49M231.21 910.56L455.91 908.53M138.16 803.29L272.25 895.12M174.73 611.9L570.91 828.48M303.13 533.88L586.35 675.29M418.53 558.26L215.36 620.84M521.33 598.49L570.91 646.44M548.56 620.84L163.75 737.05M595.69 769.15L344.58 558.26M586.35 800.04L521.33 876.83M491.67 895.12L272.25 895.12M455.91 908.53L418.53 916.66M307.6 908.53L193.01 646.44M163.75 737.05L272.25 579.8M163.75 737.05L344.58 558.26M166.6 706.17L215.36 620.84" stroke="#e4a0a8" stroke-width="0.8" stroke-opacity="0.36" fill="none"/>
<path d="M532.3 565.17L381.96 951.19M624.95 803.29L381.96 951.19M624.95 803.29L521.33 598.49M460.38 940.22L303.13 940.22M460.38 940.22L586.35 675.29M460.38 940.22L491.67 895.12M460.38 940.22L307.6 908.53M303.13 940.22L272.25 895.12M303.13 940.22L163.75 737.05M138.16 803.29L491.67 895.12M125.56 737.05L586.35 675.29M303.13 533.88L215.36 854.49M548.56 620.84L241.77 598.49M586.35 675.29L215.36 620.84M595.69 769.15L176.76 800.04M595.69 769.15L307.6 565.99M570.91 828.48L521.33 876.83M418.53 916.66L241.77 598.49M193.01 828.48L344.58 558.26M166.6 706.17L241.77 598.49" stroke="#e4a0a8" stroke-width="1.1" stroke-opacity="0.36" fill="none"/>
<path d="M381.96 523.73L418.53 558.26M588.79 611.9L174.73 611.9M624.95 671.63L521.33 598.49M624.95 671.63L570.91 828.48M624.95 671.63L215.36 620.84M624.95 803.29L174.73 862.61M624.95 803.29L215.36 854.49M532.3 910.56L599.35 737.05M303.13 940.22L303.13 533.88M303.13 940.22L586.35 800.04M303.13 940.22L166.6 706.17M174.73 862.61L307.6 908.53M125.56 737.05L521.33 598.49M125.56 737.05L548.56 620.84M138.16 671.63L570.91 828.48M174.73 611.9L166.6 706.17M303.13 533.88L548.56 620.84M303.13 533.88L418.53 916.66M418.53 558.26L595.69 769.15M521.33 598.49L166.6 706.17M548.56 620.84L166.6 769.15M570.91 646.44L521.33 876.83M599.35 737.05L215.36 620.84M548.56 854.49L307.6 908.53M521.33 876.83L166.6 706.17M418.53 916.66L272.25 895.12M307.6 908.53L193.01 828.48M215.36 854.49L272.25 579.8" stroke="#e4a0a8" stroke-width="0.5" stroke-opacity="0.36" fill="none"/>
<path d="M381.96 523.73L174.73 862.61M381.96 523.73L455.91 908.53M381.96 523.73L344.58 916.66M588.79 611.9L176.76 675.29M624.95 671.63L193.01 828.48M637.95 737.05L588.79 862.61M637.95 737.05L595.69 769.15M624.95 803.29L272.25 895.12M588.79 862.61L125.56 737.05M588.79 862.61L570.91 828.48M532.3 910.56L418.53 558.26M532.3 910.56L241.77 598.49M460.38 940.22L174.73 611.9M381.96 951.19L303.13 533.88M381.96 951.19L548.56 620.84M381.96 951.19L241.77 598.49M303.13 940.22L586.35 675.29M125.56 737.05L303.13 533.88M174.73 611.9L595.69 769.15M174.73 611.9L455.91 908.53M174.73 611.9L272.25 579.8M303.13 533.88L241.77 876.83M418.53 558.26L586.35 675.29M521.33 598.49L344.58 558.26M570.91 646.44L193.01 646.44M595.69 706.17L272.25 895.12M381.96 919.91L163.75 737.05M307.6 908.53L344.58 558.26M215.36 854.49L344.58 558.26M166.6 769.15L193.01 646.44M215.36 620.84L344.58 558.26" stroke="#e4a0a8" stroke-width="0.6" stroke-opacity="0.36" fill="none"/>
<path d="M460.38 533.88L624.95 803.29M637.95 737.05L272.25 579.8M624.95 803.29L570.91 828.48M624.95 803.29L307.6 908.53M624.95 803.29L241.77 598.49M588.79 862.61L241.77 598.49M460.38 940.22L138.16 803.29M460.38 940.22L595.69 706.17M303.13 940.22L455.91 908.53M174.73 862.61L586.35 800.04M138.16 803.29L586.35 675.29M138.16 803.29L381.96 919.91M138.16 803.29L215.36 620.84M125.56 737.05L595.69 769.15M125.56 737.05L215.36 854.49M125.56 737.05L166.6 706.17M138.16 671.63L548.56 620.84M521.33 598.49L548.56 620.84M548.56 620.84L586.35 675.29M586.35 675.29L163.75 737.05M586.35 800.04L272.25 895.12M586.35 800.04L215.36 854.49M491.67 895.12L307.6 908.53M491.67 895.12L215.36 854.49M455.91 908.53L176.76 675.29M418.53 916.66L193.01 828.48M215.36 854.49L193.01 828.48M215.36 854.49L176.76 675.29M166.6 706.17L176.76 675.29M241.77 598.49L307.6 565.99" stroke="#e4a0a8" stroke-width="0.8" stroke-opacity="0.36" fill="none"/>
<path d="M381.96 523.73L570.91 646.44M624.95 671.63L174.73 611.9M624.95 671.63L599.35 737.05M624.95 671.63L163.75 737.05M624.95 803.29L138.16 671.63M624.95 803.29L586.35 675.29M588.79 862.61L163.75 737.05M381.96 951.19L174.73 611.9M381.96 951.19L215.36 620.84M303.13 940.22L215.36 854.49M231.21 910.56L307.6 565.99M174.73 862.61L163.75 737.05M138.16 803.29L125.56 737.05M174.73 611.9L163.75 737.05M231.21 565.17L163.75 737.05M303.13 533.88L163.75 737.05M455.91 565.99L381.96 919.91M521.33 598.49L176.76 675.29M548.56 620.84L241.77 876.83M521.33 876.83L344.58 916.66M176.76 675.29L307.6 565.99" stroke="#e4a0a8" stroke-width="1.1" stroke-opacity="0.36" fill="none"/>
<path d="M381.96 523.73L588.79 862.61M624.95 671.63L215.36 854.49M624.95 803.29L344.58 558.26M588.79 862.61L599.35 737.05M460.38 940.22L174.73 862.61M303.13 940.22L125.56 737.05M174.73 862.61L344.58 916.66M125.56 737.05L595.69 706.17M125.56 737.05L570.91 828.48M125.56 737.05L193.01 828.48M138.16 671.63L586.35 800.04M174.73 611.9L548.56 620.84M174.73 611.9L548.56 854.49M303.13 533.88L176.76 800.04M303.13 533.88L344.58 558.26M521.33 598.49L193.01 646.44M586.35 675.29L586.35 800.04M570.91 828.48L455.91 908.53M381.96 919.91L241.77 598.49M166.6 706.17L344.58 558.26" stroke="#e4a0a8" stroke-width="0.5" stroke-opacity="0.36" fill="none"/>
<path d="M381.96 523.73L460.38 940.22M381.96 523.73L193.01 828.48M532.3 565.17L455.91 565.99M588.79 611.9L624.95 803.29M624.95 671.63L303.13 533.88M624.95 671.63L344.58 558.26M637.95 737.05L166.6 706.17M624.95 803.29L460.38 940.22M588.79 862.61L241.77 876.83M588.79 862.61L176.76 800.04M460.38 940.22L418.53 558.26M460.38 940.22L215.36 854.49M460.38 940.22L163.75 737.05M460.38 940.22L241.77 598.49M303.13 940.22L455.91 565.99M174.73 862.61L521.33 876.83M174.73 862.61L272.25 895.12M138.16 803.29L521.33 598.49M138.16 671.63L166.6 706.17M174.73 611.9L491.67 895.12M303.13 533.88L272.25 895.12M491.67 579.8L307.6 908.53M521.33 598.49L595.69 706.17M548.56 620.84L193.01 828.48M548.56 620.84L215.36 620.84M570.91 646.44L586.35 800.04M570.91 646.44L193.01 828.48M491.67 895.12L193.01 828.48M381.96 919.91L344.58 558.26M307.6 908.53L166.6 706.17M272.25 895.12L193.01 646.44M241.77 876.83L215.36 620.84M215.36 854.49L166.6 769.15" stroke="#e4a0a8" stroke-width="0.6" stroke-opacity="0.36" fill="none"/>
<path d="M381.96 523.73L138.16 671.63M381.96 523.73L586.35 675.29M460.38 533.88L521.33 598.49M588.79 611.9L174.73 862.61M588.79 611.9L344.58 558.26M624.95 671.63L455.91 908.53M624.95 803.29L174.73 611.9M624.95 803.29L548.56 620.84M624.95 803.29L193.01 828.48M588.79 862.61L307.6 565.99M460.38 940.22L215.36 620.84M303.13 940.22L344.58 558.26M174.73 862.61L138.16 671.63M138.16 803.29L138.16 671.63M138.16 803.29L241.77 598.49M125.56 737.05L163.75 737.05M125.56 737.05L241.77 598.49M174.73 611.9L455.91 565.99M174.73 611.9L307.6 908.53M303.13 533.88L166.6 706.17M303.13 533.88L241.77 598.49M548.56 620.84L344.58 558.26M586.35 675.29L241.77 598.49M595.69 769.15L418.53 916.66M586.35 800.04L418.53 916.66M570.91 828.48L381.96 919.91M193.01 828.48L241.77 598.49M176.76 800.04L176.76 675.29" stroke="#e4a0a8" stroke-width="0.8" stroke-opacity="0.36" fill="none"/>
<path d="M381.96 523.73L176.76 675.29M532.3 565.17L532.3 910.56M532.3 565.17L491.67 579.8M588.79 611.9L241.77 598.49M588.79 862.61L381.96 555.01M588.79 862.61L521.33 598.49M588.79 862.61L548.56 620.84M460.38 940.22L570.91 828.48M381.96 951.19L125.56 737.05M381.96 951.19L176.76 675.29M303.13 940.22L418.53 558.26M303.13 940.22L491.67 895.12M174.73 862.61L176.76 675.29M138.16 803.29L174.73 611.9M138.16 803.29L548.56 620.84M125.56 737.05L176.76 675.29M138.16 671.63L166.6 769.15M231.21 565.17L418.53 916.66M231.21 565.17L241.77 876.83M381.96 555.01L307.6 565.99M418.53 558.26L586.35 800.04M586.35 675.29L599.35 737.05M586.35 675.29L381.96 919.91M595.69 769.15L491.67 895.12M595.69 769.15L215.36 854.49M570.91 828.48L193.01 828.48M521.33 876.83L418.53 916.66" stroke="#e4a0a8" stroke-width="1.1" stroke-opacity="0.36" fill="none"/>
<path d="M521.33 876.83L176.76 675.29" stroke="#acdca3" stroke-width="0.5" stroke-opacity="0.55" fill="none"/>
<path d="M532.3 910.56L163.75 737.05" stroke="#acdca3" stroke-width="0.6" stroke-opacity="0.55" fill="none"/>
<path d="M460.38 940.22L586.35 675.29" stroke="#acdca3" stroke-width="1.1" stroke-opacity="0.55" fill="none"/>
<path d="M532.3 565.17L586.35 800.04M570.91 646.44L176.76 675.29" stroke="#acdca3" stroke-width="0.5" stroke-opacity="0.55" fill="none"/>
<path d="M624.95 803.29L272.25 579.8" stroke="#acdca3" stroke-width="0.8" stroke-opacity="0.55" fill="none"/>
<path d="M138.16 803.29L125.56 737.05" stroke="#acdca3" stroke-width="0.8" stroke-opacity="0.55" fill="none"/>
<path d="M637.95 737.05L193.01 828.48" stroke="#acdca3" stroke-width="1.1" stroke-opacity="0.55" fill="none"/>
<path d="M455.91 565.99L381.96 919.91M599.35 737.05L595.69 769.15" stroke="#efc588" stroke-width="0.5" stroke-opacity="0.55" fill="none"/>
<path d="M231.21 910.56L166.6 769.15M303.13 533.88L215.36 854.49M418.53 558.26L307.6 908.53M272.25 895.12L176.76 800.04" stroke="#efc588" stroke-width="0.8" stroke-opacity="0.55" fill="none"/>
<path d="M241.77 876.83L241.77 598.49" stroke="#efc588" stroke-width="1.1" stroke-opacity="0.55" fill="none"/>
<path d="M381.96 951.19L586.35 675.29M595.69 769.15L166.6 769.15" stroke="#efc588" stroke-width="0.5" stroke-opacity="0.55" fill="none"/>
<path d="M532.3 910.56L138.16 803.29" stroke="#efc588" stroke-width="0.6" stroke-opacity="0.55" fill="none"/>
<path d="M460.38 533.88L307.6 565.99M532.3 565.17L241.77 598.49M125.56 737.05L344.58 916.66M521.33 598.49L307.6 908.53" stroke="#efc588" stroke-width="0.8" stroke-opacity="0.55" fill="none"/>
<path d="M588.79 611.9L491.67 579.8" stroke="#efc588" stroke-width="1.1" stroke-opacity="0.55" fill="none"/>
<line x1="193.01" y1="646.44" x2="570.91" y2="828.48" stroke="#acdca3" stroke-width="1.82" stroke-opacity="0.75"/>
<line x1="344.58" y1="558.26" x2="381.96" y2="919.91" stroke="#acdca3" stroke-width="1.54" stroke-opacity="0.75"/>
<line x1="381.96" y1="523.73" x2="570.91" y2="828.48" stroke="#acdca3" stroke-width="1.54" stroke-opacity="0.75"/>
<line x1="166.6" y1="706.17" x2="455.91" y2="908.53" stroke="#acdca3" stroke-width="1.68" stroke-opacity="0.75"/>
<line x1="215.36" y1="854.49" x2="418.53" y2="916.66" stroke="#acdca3" stroke-width="1.4" stroke-opacity="0.75"/>
<line x1="215.36" y1="620.84" x2="548.56" y2="854.49" stroke="#acdca3" stroke-width="1.12" stroke-opacity="0.75"/>
<line x1="174.73" y1="611.9" x2="491.67" y2="895.12" stroke="#efc588" stroke-width="1.54" stroke-opacity="0.75"/>
<line x1="174.73" y1="611.9" x2="344.58" y2="558.26" stroke="#efc588" stroke-width="1.26" stroke-opacity="0.75"/>
<line x1="193.01" y1="646.44" x2="548.56" y2="620.84" stroke="#efc588" stroke-width="0.84" stroke-opacity="0.75"/>
<line x1="381.96" y1="919.91" x2="588.79" y2="611.9" stroke="#efc588" stroke-width="1.26" stroke-opacity="0.75"/>
<line x1="138.16" y1="803.29" x2="624.95" y2="803.29" stroke="#e4a0a8" stroke-width="1.54" stroke-opacity="0.45"/>
<line x1="381.96" y1="523.73" x2="588.79" y2="611.9" stroke="#e4a0a8" stroke-width="1.68" stroke-opacity="0.45"/>
<line x1="381.96" y1="523.73" x2="303.13" y2="940.22" stroke="#e4a0a8" stroke-width="1.54" stroke-opacity="0.45"/>
<line x1="344.58" y1="558.26" x2="303.13" y2="940.22" stroke="#e4a0a8" stroke-width="1.4" stroke-opacity="0.45"/>
<line x1="215.36" y1="854.49" x2="491.67" y2="895.12" stroke="#e4a0a8" stroke-width="1.68" stroke-opacity="0.45"/>
<line x1="215.36" y1="854.49" x2="381.96" y2="919.91" stroke="#e4a0a8" stroke-width="1.68" stroke-opacity="0.45"/>
<line x1="588.79" y1="611.9" x2="163.75" y2="737.05" stroke="#e4a0a8" stroke-width="1.4" stroke-opacity="0.45"/>
<line x1="344.58" y1="558.26" x2="586.35" y2="675.29" stroke="#e4a0a8" stroke-width="1.4" stroke-opacity="0.45"/>
<line x1="193.01" y1="828.48" x2="303.13" y2="940.22" stroke="#e4a0a8" stroke-width="1.54" stroke-opacity="0.45"/>
<line x1="381.96" y1="523.73" x2="381.96" y2="919.91" stroke="#e4a0a8" stroke-width="1.26" stroke-opacity="0.45"/>
<line x1="174.73" y1="611.9" x2="174.73" y2="862.61" stroke="#e4a0a8" stroke-width="1.4" stroke-opacity="0.45"/>
<line x1="588.79" y1="611.9" x2="215.36" y2="854.49" stroke="#e4a0a8" stroke-width="1.4" stroke-opacity="0.45"/>
<line x1="344.58" y1="558.26" x2="138.16" y2="803.29" stroke="#e4a0a8" stroke-width="1.4" stroke-opacity="0.45"/>
<line x1="588.79" y1="611.9" x2="460.38" y2="940.22" stroke="#e4a0a8" stroke-width="1.4" stroke-opacity="0.45"/>
<defs><pattern id="hat" width="2.2" height="2.2" patternUnits="userSpaceOnUse" patternTransform="rotate(-45)"><rect width="2.2" height="0.9" fill="#000" fill-opacity="0.16"/><rect y="1.1" width="2.2" height="0.5" fill="#fff" fill-opacity="0.06"/></pattern></defs>
<g transform="translate(381.96 523.73) scale(13 10.8)"><circle r="1" fill="#505050"/><path d="M0 0L0.000 -1.000A1 1 0 0 1 0.782 -0.623Z" fill="#9f5a5a"/><path d="M0 0L0.782 -0.623A1 1 0 0 1 0.975 0.223Z" fill="#6a8bb4"/><path d="M0 0L0.975 0.223A1 1 0 0 1 0.434 0.901Z" fill="#bd973f"/><path d="M0 0L0.434 0.901A1 1 0 0 1 -0.434 0.901Z" fill="#786ba9"/><path d="M0 0L-0.434 0.901A1 1 0 0 1 -0.975 0.223Z" fill="#71a371"/><path d="M0 0L-0.975 0.223A1 1 0 0 1 -0.782 -0.623Z" fill="#a97bae"/><path d="M0 0L-0.782 -0.623A1 1 0 0 1 -0.000 -1.000Z" fill="#87ada7"/></g>
<ellipse cx="381.96" cy="523.73" rx="13" ry="10.8" fill="url(#hat)"/>
<text x="381.96" y="525.53" font-size="5.2" text-anchor="middle" fill="#f4f4f4" fill-opacity="0.92" stroke="#444" stroke-width="0.7" stroke-opacity="0.8" paint-order="stroke" textLength="19.74" lengthAdjust="spacingAndGlyphs">CCNB1</text>
<g transform="translate(460.38 533.88) scale(13.6 11.3)"><circle r="1" fill="#505050"/></g>
<ellipse cx="460.38" cy="533.88" rx="13.6" ry="11.3" fill="url(#hat)"/>
<text x="460.38" y="535.68" font-size="5.2" text-anchor="middle" fill="#f4f4f4" fill-opacity="0.92" stroke="#444" stroke-width="0.7" stroke-opacity="0.8" paint-order="stroke" textLength="18.11" lengthAdjust="spacingAndGlyphs">HMMR</text>
<g transform="translate(532.3 565.17) scale(13.6 11.3)"><circle r="1" fill="#505050"/></g>
<ellipse cx="532.3" cy="565.17" rx="13.6" ry="11.3" fill="url(#hat)"/>
<text x="532.3" y="566.97" font-size="5.2" text-anchor="middle" fill="#f4f4f4" fill-opacity="0.92" stroke="#444" stroke-width="0.7" stroke-opacity="0.8" paint-order="stroke" textLength="18.45" lengthAdjust="spacingAndGlyphs">SPC25</text>
<g transform="translate(588.79 611.9) scale(13.6 11.3)"><circle r="1" fill="#505050"/><path d="M0 0L0.434 0.901A1 1 0 0 1 -0.434 0.901Z" fill="#786ba9"/><path d="M0 0L-0.975 0.223A1 1 0 0 1 -0.782 -0.623Z" fill="#a97bae"/></g>
<ellipse cx="588.79" cy="611.9" rx="13.6" ry="11.3" fill="url(#hat)"/>
<text x="588.79" y="613.7" font-size="5.2" text-anchor="middle" fill="#f4f4f4" fill-opacity="0.92" stroke="#444" stroke-width="0.7" stroke-opacity="0.8" paint-order="stroke" textLength="15.54" lengthAdjust="spacingAndGlyphs">CDK1</text>
<g transform="translate(624.95 671.63) scale(13.6 11.3)"><circle r="1" fill="#505050"/><path d="M0 0L0.434 0.901A1 1 0 0 1 -0.434 0.901Z" fill="#786ba9"/></g>
<ellipse cx="624.95" cy="671.63" rx="13.6" ry="11.3" fill="url(#hat)"/>
<text x="624.95" y="673.43" font-size="5.2" text-anchor="middle" fill="#f4f4f4" fill-opacity="0.92" stroke="#444" stroke-width="0.7" stroke-opacity="0.8" paint-order="stroke" textLength="14.57" lengthAdjust="spacingAndGlyphs">TPX2</text>
<g transform="translate(637.95 737.05) scale(13.6 11.3)"><circle r="1" fill="#505050"/></g>
<ellipse cx="637.95" cy="737.05" rx="13.6" ry="11.3" fill="url(#hat)"/>
<text x="637.95" y="738.85" font-size="5.2" text-anchor="middle" fill="#f4f4f4" fill-opacity="0.92" stroke="#444" stroke-width="0.7" stroke-opacity="0.8" paint-order="stroke" textLength="16.5" lengthAdjust="spacingAndGlyphs">RRM2</text>
<g transform="translate(624.95 803.29) scale(13.6 11.3)"><circle r="1" fill="#505050"/><path d="M0 0L0.000 -1.000A1 1 0 0 1 0.782 -0.623Z" fill="#9f5a5a"/><path d="M0 0L0.782 -0.623A1 1 0 0 1 0.975 0.223Z" fill="#6a8bb4"/><path d="M0 0L0.434 0.901A1 1 0 0 1 -0.434 0.901Z" fill="#786ba9"/><path d="M0 0L-0.434 0.901A1 1 0 0 1 -0.975 0.223Z" fill="#71a371"/><path d="M0 0L-0.975 0.223A1 1 0 0 1 -0.782 -0.623Z" fill="#a97bae"/></g>
<ellipse cx="624.95" cy="803.29" rx="13.6" ry="11.3" fill="url(#hat)"/>
<text x="624.95" y="805.09" font-size="5.2" text-anchor="middle" fill="#f4f4f4" fill-opacity="0.92" stroke="#444" stroke-width="0.7" stroke-opacity="0.8" paint-order="stroke" textLength="18.44" lengthAdjust="spacingAndGlyphs">ZWINT</text>
<g transform="translate(588.79 862.61) scale(13.6 11.3)"><circle r="1" fill="#505050"/><path d="M0 0L0.000 -1.000A1 1 0 0 1 0.782 -0.623Z" fill="#9f5a5a"/><path d="M0 0L0.782 -0.623A1 1 0 0 1 0.975 0.223Z" fill="#6a8bb4"/><path d="M0 0L0.975 0.223A1 1 0 0 1 0.434 0.901Z" fill="#bd973f"/><path d="M0 0L0.434 0.901A1 1 0 0 1 -0.434 0.901Z" fill="#786ba9"/><path d="M0 0L-0.434 0.901A1 1 0 0 1 -0.975 0.223Z" fill="#71a371"/><path d="M0 0L-0.782 -0.623A1 1 0 0 1 -0.000 -1.000Z" fill="#87ada7"/></g>
<ellipse cx="588.79" cy="862.61" rx="13.6" ry="11.3" fill="url(#hat)"/>
<text x="588.79" y="864.41" font-size="5.2" text-anchor="middle" fill="#f4f4f4" fill-opacity="0.92" stroke="#444" stroke-width="0.7" stroke-opacity="0.8" paint-order="stroke" textLength="22.98" lengthAdjust="spacingAndGlyphs">DLGAP5</text>
<g transform="translate(532.3 910.56) scale(13.6 11.3)"><circle r="1" fill="#505050"/></g>
<ellipse cx="532.3" cy="910.56" rx="13.6" ry="11.3" fill="url(#hat)"/>
<text x="532.3" y="912.36" font-size="5.2" text-anchor="middle" fill="#f4f4f4" fill-opacity="0.92" stroke="#444" stroke-width="0.7" stroke-opacity="0.8" paint-order="stroke" textLength="15.86" lengthAdjust="spacingAndGlyphs">MELK</text>
<g transform="translate(460.38 940.22) scale(13.6 11.3)"><circle r="1" fill="#505050"/><path d="M0 0L0.000 -1.000A1 1 0 0 1 0.782 -0.623Z" fill="#9f5a5a"/><path d="M0 0L0.782 -0.623A1 1 0 0 1 0.975 0.223Z" fill="#6a8bb4"/><path d="M0 0L-0.975 0.223A1 1 0 0 1 -0.782 -0.623Z" fill="#a97bae"/></g>
<ellipse cx="460.38" cy="940.22" rx="13.6" ry="11.3" fill="url(#hat)"/>
<text x="460.38" y="942.02" font-size="5.2" text-anchor="middle" fill="#f4f4f4" fill-opacity="0.92" stroke="#444" stroke-width="0.7" stroke-opacity="0.8" paint-order="stroke" textLength="18.99" lengthAdjust="spacingAndGlyphs">TOP2A</text>
<g transform="translate(381.96 951.19) scale(13 10.8)"><circle r="1" fill="#505050"/><path d="M0 0L0.000 -1.000A1 1 0 0 1 0.782 -0.623Z" fill="#9f5a5a"/><path d="M0 0L0.782 -0.623A1 1 0 0 1 0.975 0.223Z" fill="#6a8bb4"/><path d="M0 0L0.975 0.223A1 1 0 0 1 0.434 0.901Z" fill="#bd973f"/><path d="M0 0L0.434 0.901A1 1 0 0 1 -0.434 0.901Z" fill="#786ba9"/><path d="M0 0L-0.434 0.901A1 1 0 0 1 -0.975 0.223Z" fill="#71a371"/><path d="M0 0L-0.782 -0.623A1 1 0 0 1 -0.000 -1.000Z" fill="#87ada7"/></g>
<ellipse cx="381.96" cy="951.19" rx="13" ry="10.8" fill="url(#hat)"/>
<text x="381.96" y="952.99" font-size="5.2" text-anchor="middle" fill="#f4f4f4" fill-opacity="0.92" stroke="#444" stroke-width="0.7" stroke-opacity="0.8" paint-order="stroke" textLength="20.07" lengthAdjust="spacingAndGlyphs">CENPE</text>
<g transform="translate(303.13 940.22) scale(12.6 10.6)"><circle r="1" fill="#505050"/><path d="M0 0L0.000 -1.000A1 1 0 0 1 0.782 -0.623Z" fill="#9f5a5a"/><path d="M0 0L0.782 -0.623A1 1 0 0 1 0.975 0.223Z" fill="#6a8bb4"/><path d="M0 0L0.975 0.223A1 1 0 0 1 0.434 0.901Z" fill="#bd973f"/><path d="M0 0L0.434 0.901A1 1 0 0 1 -0.434 0.901Z" fill="#786ba9"/><path d="M0 0L-0.434 0.901A1 1 0 0 1 -0.975 0.223Z" fill="#71a371"/><path d="M0 0L-0.975 0.223A1 1 0 0 1 -0.782 -0.623Z" fill="#a97bae"/><path d="M0 0L-0.782 -0.623A1 1 0 0 1 -0.000 -1.000Z" fill="#87ada7"/></g>
<ellipse cx="303.13" cy="940.22" rx="12.6" ry="10.6" fill="url(#hat)"/>
<text x="303.13" y="942.02" font-size="5.2" text-anchor="middle" fill="#f4f4f4" fill-opacity="0.92" stroke="#444" stroke-width="0.7" stroke-opacity="0.8" paint-order="stroke" textLength="19.1" lengthAdjust="spacingAndGlyphs">CDC20</text>
<g transform="translate(231.21 910.56) scale(12.6 10.6)"><circle r="1" fill="#505050"/></g>
<ellipse cx="231.21" cy="910.56" rx="12.6" ry="10.6" fill="url(#hat)"/>
<text x="231.21" y="912.36" font-size="5.2" text-anchor="middle" fill="#f4f4f4" fill-opacity="0.92" stroke="#444" stroke-width="0.7" stroke-opacity="0.8" paint-order="stroke" textLength="15.54" lengthAdjust="spacingAndGlyphs">KIF15</text>
<g transform="translate(174.73 862.61) scale(12.6 10.6)"><circle r="1" fill="#505050"/><path d="M0 0L0.000 -1.000A1 1 0 0 1 0.782 -0.623Z" fill="#9f5a5a"/><path d="M0 0L0.782 -0.623A1 1 0 0 1 0.975 0.223Z" fill="#6a8bb4"/><path d="M0 0L0.975 0.223A1 1 0 0 1 0.434 0.901Z" fill="#bd973f"/><path d="M0 0L0.434 0.901A1 1 0 0 1 -0.434 0.901Z" fill="#786ba9"/><path d="M0 0L-0.434 0.901A1 1 0 0 1 -0.975 0.223Z" fill="#71a371"/></g>
<ellipse cx="174.73" cy="862.61" rx="12.6" ry="10.6" fill="url(#hat)"/>
<text x="174.73" y="864.41" font-size="5.2" text-anchor="middle" fill="#f4f4f4" fill-opacity="0.92" stroke="#444" stroke-width="0.7" stroke-opacity="0.8" paint-order="stroke" textLength="15.54" lengthAdjust="spacingAndGlyphs">PRC1</text>
<g transform="translate(138.16 803.29) scale(12.6 10.6)"><circle r="1" fill="#505050"/><path d="M0 0L0.000 -1.000A1 1 0 0 1 0.782 -0.623Z" fill="#9f5a5a"/><path d="M0 0L0.782 -0.623A1 1 0 0 1 0.975 0.223Z" fill="#6a8bb4"/><path d="M0 0L0.975 0.223A1 1 0 0 1 0.434 0.901Z" fill="#bd973f"/><path d="M0 0L0.434 0.901A1 1 0 0 1 -0.434 0.901Z" fill="#786ba9"/><path d="M0 0L-0.434 0.901A1 1 0 0 1 -0.975 0.223Z" fill="#71a371"/><path d="M0 0L-0.975 0.223A1 1 0 0 1 -0.782 -0.623Z" fill="#a97bae"/><path d="M0 0L-0.782 -0.623A1 1 0 0 1 -0.000 -1.000Z" fill="#87ada7"/></g>
<ellipse cx="138.16" cy="803.29" rx="12.6" ry="10.6" fill="url(#hat)"/>
<text x="138.16" y="805.09" font-size="5.2" text-anchor="middle" fill="#f4f4f4" fill-opacity="0.92" stroke="#444" stroke-width="0.7" stroke-opacity="0.8" paint-order="stroke" textLength="19.1" lengthAdjust="spacingAndGlyphs">BUB1B</text>
<g transform="translate(125.56 737.05) scale(12.6 10.6)"><circle r="1" fill="#505050"/><path d="M0 0L0.434 0.901A1 1 0 0 1 -0.434 0.901Z" fill="#786ba9"/></g>
<ellipse cx="125.56" cy="737.05" rx="12.6" ry="10.6" fill="url(#hat)"/>
<text x="125.56" y="738.85" font-size="5.2" text-anchor="middle" fill="#f4f4f4" fill-opacity="0.92" stroke="#444" stroke-width="0.7" stroke-opacity="0.8" paint-order="stroke" textLength="15.11" lengthAdjust="spacingAndGlyphs">KIF11</text>
<g transform="translate(138.16 671.63) scale(12.6 10.6)"><circle r="1" fill="#505050"/><path d="M0 0L0.000 -1.000A1 1 0 0 1 0.782 -0.623Z" fill="#9f5a5a"/><path d="M0 0L0.782 -0.623A1 1 0 0 1 0.975 0.223Z" fill="#6a8bb4"/><path d="M0 0L0.975 0.223A1 1 0 0 1 0.434 0.901Z" fill="#bd973f"/><path d="M0 0L0.434 0.901A1 1 0 0 1 -0.434 0.901Z" fill="#786ba9"/><path d="M0 0L-0.434 0.901A1 1 0 0 1 -0.975 0.223Z" fill="#71a371"/></g>
<ellipse cx="138.16" cy="671.63" rx="12.6" ry="10.6" fill="url(#hat)"/>
<text x="138.16" y="673.43" font-size="5.2" text-anchor="middle" fill="#f4f4f4" fill-opacity="0.92" stroke="#444" stroke-width="0.7" stroke-opacity="0.8" paint-order="stroke" textLength="16.5" lengthAdjust="spacingAndGlyphs">KIFC1</text>
<g transform="translate(174.73 611.9) scale(12.6 10.6)"><circle r="1" fill="#505050"/><path d="M0 0L0.000 -1.000A1 1 0 0 1 0.782 -0.623Z" fill="#9f5a5a"/><path d="M0 0L0.782 -0.623A1 1 0 0 1 0.975 0.223Z" fill="#6a8bb4"/><path d="M0 0L0.975 0.223A1 1 0 0 1 0.434 0.901Z" fill="#bd973f"/><path d="M0 0L0.434 0.901A1 1 0 0 1 -0.434 0.901Z" fill="#786ba9"/><path d="M0 0L-0.434 0.901A1 1 0 0 1 -0.975 0.223Z" fill="#71a371"/></g>
<ellipse cx="174.73" cy="611.9" rx="12.6" ry="10.6" fill="url(#hat)"/>
<text x="174.73" y="613.7" font-size="5.2" text-anchor="middle" fill="#f4f4f4" fill-opacity="0.92" stroke="#444" stroke-width="0.7" stroke-opacity="0.8" paint-order="stroke" textLength="16.18" lengthAdjust="spacingAndGlyphs">KIF4A</text>
<g transform="translate(231.21 565.17) scale(12.6 10.6)"><circle r="1" fill="#505050"/></g>
<ellipse cx="231.21" cy="565.17" rx="12.6" ry="10.6" fill="url(#hat)"/>
<text x="231.21" y="566.97" font-size="5.2" text-anchor="middle" fill="#f4f4f4" fill-opacity="0.92" stroke="#444" stroke-width="0.7" stroke-opacity="0.8" paint-order="stroke" textLength="20.06" lengthAdjust="spacingAndGlyphs">TROAP</text>
<g transform="translate(303.13 533.88) scale(12.6 10.6)"><circle r="1" fill="#505050"/><path d="M0 0L0.000 -1.000A1 1 0 0 1 0.782 -0.623Z" fill="#9f5a5a"/><path d="M0 0L0.782 -0.623A1 1 0 0 1 0.975 0.223Z" fill="#6a8bb4"/><path d="M0 0L0.975 0.223A1 1 0 0 1 0.434 0.901Z" fill="#bd973f"/><path d="M0 0L0.434 0.901A1 1 0 0 1 -0.434 0.901Z" fill="#786ba9"/><path d="M0 0L-0.434 0.901A1 1 0 0 1 -0.975 0.223Z" fill="#71a371"/></g>
<ellipse cx="303.13" cy="533.88" rx="12.6" ry="10.6" fill="url(#hat)"/>
<text x="303.13" y="535.68" font-size="5.2" text-anchor="middle" fill="#f4f4f4" fill-opacity="0.92" stroke="#444" stroke-width="0.7" stroke-opacity="0.8" paint-order="stroke" textLength="20.39" lengthAdjust="spacingAndGlyphs">NCAPH</text>
<g transform="translate(381.96 555.01) scale(14.1 11.65)"><circle r="1" fill="#505050"/></g>
<ellipse cx="381.96" cy="555.01" rx="14.1" ry="11.65" fill="url(#hat)"/>
<text x="381.96" y="556.81" font-size="5.2" text-anchor="middle" fill="#f4f4f4" fill-opacity="0.92" stroke="#444" stroke-width="0.7" stroke-opacity="0.8" paint-order="stroke" textLength="18.02" lengthAdjust="spacingAndGlyphs">KRT17</text>
<g transform="translate(418.53 558.26) scale(14.1 11.65)"><circle r="1" fill="#505050"/></g>
<ellipse cx="418.53" cy="558.26" rx="14.1" ry="11.65" fill="url(#hat)"/>
<text x="418.53" y="560.06" font-size="5.2" text-anchor="middle" fill="#f4f4f4" fill-opacity="0.92" stroke="#444" stroke-width="0.7" stroke-opacity="0.8" paint-order="stroke" textLength="24.71" lengthAdjust="spacingAndGlyphs">FAM111B</text>
<g transform="translate(455.91 565.99) scale(14.1 11.65)"><circle r="1" fill="#505050"/></g>
<ellipse cx="455.91" cy="565.99" rx="14.1" ry="11.65" fill="url(#hat)"/>
<text x="455.91" y="567.79" font-size="5.2" text-anchor="middle" fill="#f4f4f4" fill-opacity="0.92" stroke="#444" stroke-width="0.7" stroke-opacity="0.8" paint-order="stroke" textLength="16.18" lengthAdjust="spacingAndGlyphs">IGFL2</text>
<g transform="translate(491.67 579.8) scale(14.1 11.65)"><circle r="1" fill="#505050"/></g>
<ellipse cx="491.67" cy="579.8" rx="14.1" ry="11.65" fill="url(#hat)"/>
<text x="491.67" y="581.6" font-size="5.2" text-anchor="middle" fill="#f4f4f4" fill-opacity="0.92" stroke="#444" stroke-width="0.7" stroke-opacity="0.8" paint-order="stroke" textLength="20.39" lengthAdjust="spacingAndGlyphs">CENPN</text>
<g transform="translate(521.33 598.49) scale(14.1 11.65)"><circle r="1" fill="#505050"/><path d="M0 0L-0.975 0.223A1 1 0 0 1 -0.782 -0.623Z" fill="#a97bae"/></g>
<ellipse cx="521.33" cy="598.49" rx="14.1" ry="11.65" fill="url(#hat)"/>
<text x="521.33" y="600.29" font-size="5.2" text-anchor="middle" fill="#f4f4f4" fill-opacity="0.92" stroke="#444" stroke-width="0.7" stroke-opacity="0.8" paint-order="stroke" textLength="13.92" lengthAdjust="spacingAndGlyphs">E2F7</text>
<g transform="translate(548.56 620.84) scale(14.1 11.65)"><circle r="1" fill="#505050"/><path d="M0 0L0.000 -1.000A1 1 0 0 1 0.782 -0.623Z" fill="#9f5a5a"/><path d="M0 0L0.782 -0.623A1 1 0 0 1 0.975 0.223Z" fill="#6a8bb4"/></g>
<ellipse cx="548.56" cy="620.84" rx="14.1" ry="11.65" fill="url(#hat)"/>
<text x="548.56" y="622.64" font-size="5.2" text-anchor="middle" fill="#f4f4f4" fill-opacity="0.92" stroke="#444" stroke-width="0.7" stroke-opacity="0.8" paint-order="stroke" textLength="22.66" lengthAdjust="spacingAndGlyphs">FAM83D</text>
<g transform="translate(570.91 646.44) scale(14.1 11.65)"><circle r="1" fill="#505050"/></g>
<ellipse cx="570.91" cy="646.44" rx="14.1" ry="11.65" fill="url(#hat)"/>
<text x="570.91" y="648.24" font-size="5.2" text-anchor="middle" fill="#f4f4f4" fill-opacity="0.92" stroke="#444" stroke-width="0.7" stroke-opacity="0.8" paint-order="stroke" textLength="25.2" lengthAdjust="spacingAndGlyphs">COL12A1</text>
<g transform="translate(586.35 675.29) scale(14.1 11.65)"><circle r="1" fill="#505050"/><path d="M0 0L0.000 -1.000A1 1 0 0 1 0.782 -0.623Z" fill="#9f5a5a"/><path d="M0 0L0.782 -0.623A1 1 0 0 1 0.975 0.223Z" fill="#6a8bb4"/><path d="M0 0L0.975 0.223A1 1 0 0 1 0.434 0.901Z" fill="#bd973f"/><path d="M0 0L0.434 0.901A1 1 0 0 1 -0.434 0.901Z" fill="#786ba9"/><path d="M0 0L-0.434 0.901A1 1 0 0 1 -0.975 0.223Z" fill="#71a371"/></g>
<ellipse cx="586.35" cy="675.29" rx="14.1" ry="11.65" fill="url(#hat)"/>
<text x="586.35" y="677.09" font-size="5.2" text-anchor="middle" fill="#f4f4f4" fill-opacity="0.92" stroke="#444" stroke-width="0.7" stroke-opacity="0.8" paint-order="stroke" textLength="19.74" lengthAdjust="spacingAndGlyphs">CDCA5</text>
<g transform="translate(595.69 706.17) scale(14.1 11.65)"><circle r="1" fill="#505050"/></g>
<ellipse cx="595.69" cy="706.17" rx="14.1" ry="11.65" fill="url(#hat)"/>
<text x="595.69" y="707.97" font-size="5.2" text-anchor="middle" fill="#f4f4f4" fill-opacity="0.92" stroke="#444" stroke-width="0.7" stroke-opacity="0.8" paint-order="stroke" textLength="12.63" lengthAdjust="spacingAndGlyphs">SIX1</text>
<g transform="translate(599.35 737.05) scale(14.1 11.65)"><circle r="1" fill="#505050"/></g>
<ellipse cx="599.35" cy="737.05" rx="14.1" ry="11.65" fill="url(#hat)"/>
<text x="599.35" y="738.85" font-size="5.2" text-anchor="middle" fill="#f4f4f4" fill-opacity="0.92" stroke="#444" stroke-width="0.7" stroke-opacity="0.8" paint-order="stroke" textLength="17.91" lengthAdjust="spacingAndGlyphs">ATAD2</text>
<g transform="translate(595.69 769.15) scale(14.1 11.65)"><circle r="1" fill="#505050"/></g>
<ellipse cx="595.69" cy="769.15" rx="14.1" ry="11.65" fill="url(#hat)"/>
<text x="595.69" y="770.95" font-size="5.2" text-anchor="middle" fill="#f4f4f4" fill-opacity="0.92" stroke="#444" stroke-width="0.7" stroke-opacity="0.8" paint-order="stroke" textLength="15.54" lengthAdjust="spacingAndGlyphs">POP1</text>
<g transform="translate(586.35 800.04) scale(14.1 11.65)"><circle r="1" fill="#505050"/></g>
<ellipse cx="586.35" cy="800.04" rx="14.1" ry="11.65" fill="url(#hat)"/>
<text x="586.35" y="801.84" font-size="5.2" text-anchor="middle" fill="#f4f4f4" fill-opacity="0.92" stroke="#444" stroke-width="0.7" stroke-opacity="0.8" paint-order="stroke" textLength="19.42" lengthAdjust="spacingAndGlyphs">SPRR3</text>
<g transform="translate(570.91 828.48) scale(14.1 11.65)"><circle r="1" fill="#505050"/><path d="M0 0L-0.975 0.223A1 1 0 0 1 -0.782 -0.623Z" fill="#a97bae"/></g>
<ellipse cx="570.91" cy="828.48" rx="14.1" ry="11.65" fill="url(#hat)"/>
<text x="570.91" y="830.28" font-size="5.2" text-anchor="middle" fill="#f4f4f4" fill-opacity="0.92" stroke="#444" stroke-width="0.7" stroke-opacity="0.8" paint-order="stroke" textLength="13.92" lengthAdjust="spacingAndGlyphs">E2F8</text>
<g transform="translate(548.56 854.49) scale(14.1 11.65)"><circle r="1" fill="#505050"/></g>
<ellipse cx="548.56" cy="854.49" rx="14.1" ry="11.65" fill="url(#hat)"/>
<text x="548.56" y="856.29" font-size="5.2" text-anchor="middle" fill="#f4f4f4" fill-opacity="0.92" stroke="#444" stroke-width="0.7" stroke-opacity="0.8" paint-order="stroke" textLength="17.48" lengthAdjust="spacingAndGlyphs">GINS2</text>
<g transform="translate(521.33 876.83) scale(14.1 11.65)"><circle r="1" fill="#505050"/></g>
<ellipse cx="521.33" cy="876.83" rx="14.1" ry="11.65" fill="url(#hat)"/>
<text x="521.33" y="878.63" font-size="5.2" text-anchor="middle" fill="#f4f4f4" fill-opacity="0.92" stroke="#444" stroke-width="0.7" stroke-opacity="0.8" paint-order="stroke" textLength="23.31" lengthAdjust="spacingAndGlyphs">SPRR1A</text>
<g transform="translate(491.67 895.12) scale(14.1 11.65)"><circle r="1" fill="#505050"/><path d="M0 0L0.000 -1.000A1 1 0 0 1 0.782 -0.623Z" fill="#9f5a5a"/><path d="M0 0L0.782 -0.623A1 1 0 0 1 0.975 0.223Z" fill="#6a8bb4"/><path d="M0 0L0.975 0.223A1 1 0 0 1 0.434 0.901Z" fill="#bd973f"/><path d="M0 0L0.434 0.901A1 1 0 0 1 -0.434 0.901Z" fill="#786ba9"/><path d="M0 0L-0.434 0.901A1 1 0 0 1 -0.975 0.223Z" fill="#71a371"/></g>
<ellipse cx="491.67" cy="895.12" rx="14.1" ry="11.65" fill="url(#hat)"/>
<text x="491.67" y="896.92" font-size="5.2" text-anchor="middle" fill="#f4f4f4" fill-opacity="0.92" stroke="#444" stroke-width="0.7" stroke-opacity="0.8" paint-order="stroke" textLength="19.74" lengthAdjust="spacingAndGlyphs">CDCA8</text>
<g transform="translate(455.91 908.53) scale(14.1 11.65)"><circle r="1" fill="#505050"/></g>
<ellipse cx="455.91" cy="908.53" rx="14.1" ry="11.65" fill="url(#hat)"/>
<text x="455.91" y="910.33" font-size="5.2" text-anchor="middle" fill="#f4f4f4" fill-opacity="0.92" stroke="#444" stroke-width="0.7" stroke-opacity="0.8" paint-order="stroke" textLength="16.18" lengthAdjust="spacingAndGlyphs">TYMS</text>
<g transform="translate(418.53 916.66) scale(14.1 11.65)"><circle r="1" fill="#505050"/></g>
<ellipse cx="418.53" cy="916.66" rx="14.1" ry="11.65" fill="url(#hat)"/>
<text x="418.53" y="918.46" font-size="5.2" text-anchor="middle" fill="#f4f4f4" fill-opacity="0.92" stroke="#444" stroke-width="0.7" stroke-opacity="0.8" paint-order="stroke" textLength="18.45" lengthAdjust="spacingAndGlyphs">ASF1B</text>
<g transform="translate(381.96 919.91) scale(14.1 11.65)"><circle r="1" fill="#505050"/><path d="M0 0L0.434 0.901A1 1 0 0 1 -0.434 0.901Z" fill="#786ba9"/></g>
<ellipse cx="381.96" cy="919.91" rx="14.1" ry="11.65" fill="url(#hat)"/>
<text x="381.96" y="921.71" font-size="5.2" text-anchor="middle" fill="#f4f4f4" fill-opacity="0.92" stroke="#444" stroke-width="0.7" stroke-opacity="0.8" paint-order="stroke" textLength="17.15" lengthAdjust="spacingAndGlyphs">BIRC5</text>
<g transform="translate(344.58 916.66) scale(14.1 11.65)"><circle r="1" fill="#505050"/></g>
<ellipse cx="344.58" cy="916.66" rx="14.1" ry="11.65" fill="url(#hat)"/>
<text x="344.58" y="918.46" font-size="5.2" text-anchor="middle" fill="#f4f4f4" fill-opacity="0.92" stroke="#444" stroke-width="0.7" stroke-opacity="0.8" paint-order="stroke" textLength="25.2" lengthAdjust="spacingAndGlyphs">RNASEH2A</text>
<g transform="translate(307.6 908.53) scale(14.1 11.65)"><circle r="1" fill="#505050"/><path d="M0 0L0.000 -1.000A1 1 0 0 1 0.782 -0.623Z" fill="#9f5a5a"/><path d="M0 0L0.434 0.901A1 1 0 0 1 -0.434 0.901Z" fill="#786ba9"/></g>
<ellipse cx="307.6" cy="908.53" rx="14.1" ry="11.65" fill="url(#hat)"/>
<text x="307.6" y="910.33" font-size="5.2" text-anchor="middle" fill="#f4f4f4" fill-opacity="0.92" stroke="#444" stroke-width="0.7" stroke-opacity="0.8" paint-order="stroke" textLength="16.83" lengthAdjust="spacingAndGlyphs">MKI67</text>
<g transform="translate(272.25 895.12) scale(14.1 11.65)"><circle r="1" fill="#505050"/></g>
<ellipse cx="272.25" cy="895.12" rx="14.1" ry="11.65" fill="url(#hat)"/>
<text x="272.25" y="896.92" font-size="5.2" text-anchor="middle" fill="#f4f4f4" fill-opacity="0.92" stroke="#444" stroke-width="0.7" stroke-opacity="0.8" paint-order="stroke" textLength="17.15" lengthAdjust="spacingAndGlyphs">MCM4</text>
<g transform="translate(241.77 876.83) scale(14.1 11.65)"><circle r="1" fill="#505050"/></g>
<ellipse cx="241.77" cy="876.83" rx="14.1" ry="11.65" fill="url(#hat)"/>
<text x="241.77" y="878.63" font-size="5.2" text-anchor="middle" fill="#f4f4f4" fill-opacity="0.92" stroke="#444" stroke-width="0.7" stroke-opacity="0.8" paint-order="stroke" textLength="19.42" lengthAdjust="spacingAndGlyphs">LMNB2</text>
<g transform="translate(215.36 854.49) scale(14.1 11.65)"><circle r="1" fill="#505050"/><path d="M0 0L0.000 -1.000A1 1 0 0 1 0.782 -0.623Z" fill="#9f5a5a"/><path d="M0 0L0.782 -0.623A1 1 0 0 1 0.975 0.223Z" fill="#6a8bb4"/><path d="M0 0L0.975 0.223A1 1 0 0 1 0.434 0.901Z" fill="#bd973f"/><path d="M0 0L0.434 0.901A1 1 0 0 1 -0.434 0.901Z" fill="#786ba9"/><path d="M0 0L-0.434 0.901A1 1 0 0 1 -0.975 0.223Z" fill="#71a371"/><path d="M0 0L-0.975 0.223A1 1 0 0 1 -0.782 -0.623Z" fill="#a97bae"/><path d="M0 0L-0.782 -0.623A1 1 0 0 1 -0.000 -1.000Z" fill="#87ada7"/></g>
<ellipse cx="215.36" cy="854.49" rx="14.1" ry="11.65" fill="url(#hat)"/>
<text x="215.36" y="856.29" font-size="5.2" text-anchor="middle" fill="#f4f4f4" fill-opacity="0.92" stroke="#444" stroke-width="0.7" stroke-opacity="0.8" paint-order="stroke" textLength="20.07" lengthAdjust="spacingAndGlyphs">AURKB</text>
<g transform="translate(193.01 828.48) scale(14.1 11.65)"><circle r="1" fill="#505050"/><path d="M0 0L0.000 -1.000A1 1 0 0 1 0.782 -0.623Z" fill="#9f5a5a"/><path d="M0 0L0.782 -0.623A1 1 0 0 1 0.975 0.223Z" fill="#6a8bb4"/><path d="M0 0L0.975 0.223A1 1 0 0 1 0.434 0.901Z" fill="#bd973f"/><path d="M0 0L0.434 0.901A1 1 0 0 1 -0.434 0.901Z" fill="#786ba9"/><path d="M0 0L-0.434 0.901A1 1 0 0 1 -0.975 0.223Z" fill="#71a371"/><path d="M0 0L-0.975 0.223A1 1 0 0 1 -0.782 -0.623Z" fill="#a97bae"/><path d="M0 0L-0.782 -0.623A1 1 0 0 1 -0.000 -1.000Z" fill="#87ada7"/></g>
<ellipse cx="193.01" cy="828.48" rx="14.1" ry="11.65" fill="url(#hat)"/>
<text x="193.01" y="830.28" font-size="5.2" text-anchor="middle" fill="#f4f4f4" fill-opacity="0.92" stroke="#444" stroke-width="0.7" stroke-opacity="0.8" paint-order="stroke" textLength="22.66" lengthAdjust="spacingAndGlyphs">MAD2L1</text>
<g transform="translate(176.76 800.04) scale(14.1 11.65)"><circle r="1" fill="#505050"/></g>
<ellipse cx="176.76" cy="800.04" rx="14.1" ry="11.65" fill="url(#hat)"/>
<text x="176.76" y="801.84" font-size="5.2" text-anchor="middle" fill="#f4f4f4" fill-opacity="0.92" stroke="#444" stroke-width="0.7" stroke-opacity="0.8" paint-order="stroke" textLength="14.89" lengthAdjust="spacingAndGlyphs">EZH2</text>
<g transform="translate(166.6 769.15) scale(14.1 11.65)"><circle r="1" fill="#505050"/></g>
<ellipse cx="166.6" cy="769.15" rx="14.1" ry="11.65" fill="url(#hat)"/>
<text x="166.6" y="770.95" font-size="5.2" text-anchor="middle" fill="#f4f4f4" fill-opacity="0.92" stroke="#444" stroke-width="0.7" stroke-opacity="0.8" paint-order="stroke" textLength="12.63" lengthAdjust="spacingAndGlyphs">LIG1</text>
<g transform="translate(163.75 737.05) scale(14.1 11.65)"><circle r="1" fill="#505050"/><path d="M0 0L0.000 -1.000A1 1 0 0 1 0.782 -0.623Z" fill="#9f5a5a"/><path d="M0 0L0.782 -0.623A1 1 0 0 1 0.975 0.223Z" fill="#6a8bb4"/><path d="M0 0L0.975 0.223A1 1 0 0 1 0.434 0.901Z" fill="#bd973f"/><path d="M0 0L0.434 0.901A1 1 0 0 1 -0.434 0.901Z" fill="#786ba9"/><path d="M0 0L-0.434 0.901A1 1 0 0 1 -0.975 0.223Z" fill="#71a371"/><path d="M0 0L-0.975 0.223A1 1 0 0 1 -0.782 -0.623Z" fill="#a97bae"/><path d="M0 0L-0.782 -0.623A1 1 0 0 1 -0.000 -1.000Z" fill="#87ada7"/></g>
<ellipse cx="163.75" cy="737.05" rx="14.1" ry="11.65" fill="url(#hat)"/>
<text x="163.75" y="738.85" font-size="5.2" text-anchor="middle" fill="#f4f4f4" fill-opacity="0.92" stroke="#444" stroke-width="0.7" stroke-opacity="0.8" paint-order="stroke" textLength="15.86" lengthAdjust="spacingAndGlyphs">CDC6</text>
<g transform="translate(166.6 706.17) scale(14.1 11.65)"><circle r="1" fill="#505050"/><path d="M0 0L0.434 0.901A1 1 0 0 1 -0.434 0.901Z" fill="#786ba9"/><path d="M0 0L-0.975 0.223A1 1 0 0 1 -0.782 -0.623Z" fill="#a97bae"/></g>
<ellipse cx="166.6" cy="706.17" rx="14.1" ry="11.65" fill="url(#hat)"/>
<text x="166.6" y="707.97" font-size="5.2" text-anchor="middle" fill="#f4f4f4" fill-opacity="0.92" stroke="#444" stroke-width="0.7" stroke-opacity="0.8" paint-order="stroke" textLength="19.42" lengthAdjust="spacingAndGlyphs">CHEK1</text>
<g transform="translate(176.76 675.29) scale(14.1 11.65)"><circle r="1" fill="#505050"/><path d="M0 0L0.434 0.901A1 1 0 0 1 -0.434 0.901Z" fill="#786ba9"/><path d="M0 0L-0.975 0.223A1 1 0 0 1 -0.782 -0.623Z" fill="#a97bae"/></g>
<ellipse cx="176.76" cy="675.29" rx="14.1" ry="11.65" fill="url(#hat)"/>
<text x="176.76" y="677.09" font-size="5.2" text-anchor="middle" fill="#f4f4f4" fill-opacity="0.92" stroke="#444" stroke-width="0.7" stroke-opacity="0.8" paint-order="stroke" textLength="19.09" lengthAdjust="spacingAndGlyphs">KNTC1</text>
<g transform="translate(193.01 646.44) scale(14.1 11.65)"><circle r="1" fill="#505050"/></g>
<ellipse cx="193.01" cy="646.44" rx="14.1" ry="11.65" fill="url(#hat)"/>
<text x="193.01" y="648.24" font-size="5.2" text-anchor="middle" fill="#f4f4f4" fill-opacity="0.92" stroke="#444" stroke-width="0.7" stroke-opacity="0.8" paint-order="stroke" textLength="19.74" lengthAdjust="spacingAndGlyphs">CCNA2</text>
<g transform="translate(215.36 620.84) scale(14.1 11.65)"><circle r="1" fill="#505050"/><path d="M0 0L0.000 -1.000A1 1 0 0 1 0.782 -0.623Z" fill="#9f5a5a"/><path d="M0 0L0.782 -0.623A1 1 0 0 1 0.975 0.223Z" fill="#6a8bb4"/><path d="M0 0L0.975 0.223A1 1 0 0 1 0.434 0.901Z" fill="#bd973f"/><path d="M0 0L0.434 0.901A1 1 0 0 1 -0.434 0.901Z" fill="#786ba9"/><path d="M0 0L-0.434 0.901A1 1 0 0 1 -0.975 0.223Z" fill="#71a371"/><path d="M0 0L-0.975 0.223A1 1 0 0 1 -0.782 -0.623Z" fill="#a97bae"/><path d="M0 0L-0.782 -0.623A1 1 0 0 1 -0.000 -1.000Z" fill="#87ada7"/></g>
<ellipse cx="215.36" cy="620.84" rx="14.1" ry="11.65" fill="url(#hat)"/>
<text x="215.36" y="622.64" font-size="5.2" text-anchor="middle" fill="#f4f4f4" fill-opacity="0.92" stroke="#444" stroke-width="0.7" stroke-opacity="0.8" paint-order="stroke" textLength="19.74" lengthAdjust="spacingAndGlyphs">TRIP13</text>
<g transform="translate(241.77 598.49) scale(14.1 11.65)"><circle r="1" fill="#505050"/><path d="M0 0L-0.975 0.223A1 1 0 0 1 -0.782 -0.623Z" fill="#a97bae"/></g>
<ellipse cx="241.77" cy="598.49" rx="14.1" ry="11.65" fill="url(#hat)"/>
<text x="241.77" y="600.29" font-size="5.2" text-anchor="middle" fill="#f4f4f4" fill-opacity="0.92" stroke="#444" stroke-width="0.7" stroke-opacity="0.8" paint-order="stroke" textLength="11.65" lengthAdjust="spacingAndGlyphs">SFN</text>
<g transform="translate(272.25 579.8) scale(14.1 11.65)"><circle r="1" fill="#505050"/></g>
<ellipse cx="272.25" cy="579.8" rx="14.1" ry="11.65" fill="url(#hat)"/>
<text x="272.25" y="581.6" font-size="5.2" text-anchor="middle" fill="#f4f4f4" fill-opacity="0.92" stroke="#444" stroke-width="0.7" stroke-opacity="0.8" paint-order="stroke" textLength="15.21" lengthAdjust="spacingAndGlyphs">NCF2</text>
<g transform="translate(307.6 565.99) scale(14.1 11.65)"><circle r="1" fill="#505050"/></g>
<ellipse cx="307.6" cy="565.99" rx="14.1" ry="11.65" fill="url(#hat)"/>
<text x="307.6" y="567.79" font-size="5.2" text-anchor="middle" fill="#f4f4f4" fill-opacity="0.92" stroke="#444" stroke-width="0.7" stroke-opacity="0.8" paint-order="stroke" textLength="20.06" lengthAdjust="spacingAndGlyphs">FOXM1</text>
<g transform="translate(344.58 558.26) scale(14.1 11.65)"><circle r="1" fill="#505050"/><path d="M0 0L0.000 -1.000A1 1 0 0 1 0.782 -0.623Z" fill="#9f5a5a"/><path d="M0 0L0.782 -0.623A1 1 0 0 1 0.975 0.223Z" fill="#6a8bb4"/><path d="M0 0L0.975 0.223A1 1 0 0 1 0.434 0.901Z" fill="#bd973f"/><path d="M0 0L0.434 0.901A1 1 0 0 1 -0.434 0.901Z" fill="#786ba9"/><path d="M0 0L-0.434 0.901A1 1 0 0 1 -0.975 0.223Z" fill="#71a371"/><path d="M0 0L-0.975 0.223A1 1 0 0 1 -0.782 -0.623Z" fill="#a97bae"/><path d="M0 0L-0.782 -0.623A1 1 0 0 1 -0.000 -1.000Z" fill="#87ada7"/></g>
<ellipse cx="344.58" cy="558.26" rx="14.1" ry="11.65" fill="url(#hat)"/>
<text x="344.58" y="560.06" font-size="5.2" text-anchor="middle" fill="#f4f4f4" fill-opacity="0.92" stroke="#444" stroke-width="0.7" stroke-opacity="0.8" paint-order="stroke" textLength="14.25" lengthAdjust="spacingAndGlyphs">PLK1</text>
<text font-size="33.6" font-weight="bold" class="se" textLength="199.5" lengthAdjust="spacingAndGlyphs" x="783" y="592.9">Networks</text>
<rect x="781" y="623.3" width="23" height="17.2" fill="#c5b2d4" />
<text font-size="22.8" class="se" textLength="167" lengthAdjust="spacingAndGlyphs" x="831.8" y="636.9">Co-expression</text>
<rect x="781" y="672" width="23" height="17.2" fill="#a0cb8c" />
<text font-size="22.8" class="se" textLength="247" lengthAdjust="spacingAndGlyphs" x="831.8" y="686.2">Genetic Interactions</text>
<rect x="781" y="720.7" width="23" height="17.2" fill="#a0abd7" />
<text font-size="22.8" class="se" textLength="179.6" lengthAdjust="spacingAndGlyphs" x="831.8" y="734.3">Co-localization</text>
<rect x="781" y="769.4" width="23" height="17.2" fill="#d39c9e" />
<text font-size="22.8" class="se" textLength="255.6" lengthAdjust="spacingAndGlyphs" x="831.8" y="783.1">Physical Interactions</text>
<rect x="781" y="818.1" width="23" height="17.2" fill="#e4bc7e" />
<text font-size="22.8" class="se" textLength="114.6" lengthAdjust="spacingAndGlyphs" x="831.8" y="831.3">Predicted</text>
<rect x="781" y="866.8" width="23" height="17.2" fill="#a6ced6" />
<text font-size="22.8" class="se" textLength="106.2" lengthAdjust="spacingAndGlyphs" x="831.8" y="880.5">Pathway</text>
<text font-size="33.6" font-weight="bold" class="se" textLength="194.6" lengthAdjust="spacingAndGlyphs" x="1190.9" y="586.8">Functions</text>
<rect x="1190.3" y="618" width="21" height="17" fill="#aa6060" />
<text font-size="22.6" class="se" textLength="280.8" lengthAdjust="spacingAndGlyphs" x="1236.6" y="631.8">chromosome segregation</text>
<rect x="1190.3" y="666.5" width="21" height="17" fill="#7192bb" />
<text font-size="22.6" class="se" textLength="373.1" lengthAdjust="spacingAndGlyphs" x="1236.6" y="680.1">nuclear chromosome segregation</text>
<rect x="1190.3" y="715" width="21" height="17" fill="#d4a641" />
<text font-size="22.6" class="se" textLength="416.5" lengthAdjust="spacingAndGlyphs" x="1236.6" y="729">mitotic sister chromatid segregation</text>
<rect x="1190.3" y="763.5" width="21" height="17" fill="#8275b4" />
<text font-size="22.6" class="se" textLength="272.1" lengthAdjust="spacingAndGlyphs" x="1236.6" y="777.5">mitotic nuclear division</text>
<rect x="1190.3" y="812" width="21" height="17" fill="#7db679" />
<text font-size="22.6" class="se" textLength="324.8" lengthAdjust="spacingAndGlyphs" x="1236.6" y="825.8">sister chromatid segregation</text>
<rect x="1190.3" y="860.5" width="21" height="17" fill="#b482b9" />
<text font-size="22.6" class="se" textLength="235.7" lengthAdjust="spacingAndGlyphs" x="1236.6" y="874.7">cell cycle checkpoint</text>
<rect x="1190.3" y="909" width="21" height="17" fill="#9ac2b9" />
<text font-size="22.6" class="se" textLength="480.2" lengthAdjust="spacingAndGlyphs" x="1236.6" y="922.9">regulation of sister chromatid segregation</text>
</g>
<g id="e">
<rect x="384.3" y="1015.9" width="448.1" height="200.9" fill="#fff" />
<line x1="476.8" y1="1015.9" x2="476.8" y2="1216.8" stroke="#efefef" stroke-width="0.7" />
<line x1="622.6" y1="1015.9" x2="622.6" y2="1216.8" stroke="#efefef" stroke-width="0.7" />
<line x1="768.4" y1="1015.9" x2="768.4" y2="1216.8" stroke="#efefef" stroke-width="0.7" />
<line x1="403.9" y1="1015.9" x2="403.9" y2="1216.8" stroke="#e8e8e8" stroke-width="1.2" />
<line x1="549.7" y1="1015.9" x2="549.7" y2="1216.8" stroke="#e8e8e8" stroke-width="1.2" />
<line x1="695.5" y1="1015.9" x2="695.5" y2="1216.8" stroke="#e8e8e8" stroke-width="1.2" />
<line x1="384.3" y1="1039.1" x2="832.4" y2="1039.1" stroke="#e8e8e8" stroke-width="1.2" />
<line x1="384.3" y1="1077.95" x2="832.4" y2="1077.95" stroke="#e8e8e8" stroke-width="1.2" />
<line x1="384.3" y1="1116.8" x2="832.4" y2="1116.8" stroke="#e8e8e8" stroke-width="1.2" />
<line x1="384.3" y1="1155.65" x2="832.4" y2="1155.65" stroke="#e8e8e8" stroke-width="1.2" />
<line x1="384.3" y1="1194.5" x2="832.4" y2="1194.5" stroke="#e8e8e8" stroke-width="1.2" />
<rect x="403.9" y="1021.85" width="320.76" height="34.5" fill="#c8171f" />
<line x1="380.1" y1="1039.1" x2="384.3" y2="1039.1" stroke="#333" stroke-width="1.1" />
<text font-size="15.3" text-anchor="end" textLength="349.98" lengthAdjust="spacingAndGlyphs" fill="#111" x="376.6" y="1036.65">negative regulation of mitotic cell cycle phase</text>
<text font-size="15.3" text-anchor="end" textLength="70.77" lengthAdjust="spacingAndGlyphs" fill="#111" x="376.6" y="1052.15">transition</text>
<rect x="403.9" y="1060.7" width="408.24" height="34.5" fill="#c8171f" />
<line x1="380.1" y1="1077.95" x2="384.3" y2="1077.95" stroke="#333" stroke-width="1.1" />
<text font-size="15.3" text-anchor="end" textLength="253.97" lengthAdjust="spacingAndGlyphs" fill="#111" x="376.6" y="1083.25">mitotic cell cycle phase transition</text>
<rect x="403.9" y="1099.55" width="233.28" height="34.5" fill="#c8171f" />
<line x1="380.1" y1="1116.8" x2="384.3" y2="1116.8" stroke="#333" stroke-width="1.1" />
<text font-size="15.3" text-anchor="end" textLength="347.07" lengthAdjust="spacingAndGlyphs" fill="#111" x="376.6" y="1122.1">negative regulation of mitotic nuclear division</text>
<rect x="403.9" y="1138.4" width="233.28" height="34.5" fill="#c8171f" />
<line x1="380.1" y1="1155.65" x2="384.3" y2="1155.65" stroke="#333" stroke-width="1.1" />
<text font-size="15.3" text-anchor="end" textLength="291.83" lengthAdjust="spacingAndGlyphs" fill="#111" x="376.6" y="1160.95">negative regulation of nuclear division</text>
<rect x="403.9" y="1177.25" width="349.92" height="34.5" fill="#c8171f" />
<line x1="380.1" y1="1194.5" x2="384.3" y2="1194.5" stroke="#333" stroke-width="1.1" />
<text font-size="15.3" text-anchor="end" textLength="308.29" lengthAdjust="spacingAndGlyphs" fill="#111" x="376.6" y="1199.8">negative regulation of cell cycle process</text>
<rect x="384.3" y="1015.9" width="448.1" height="200.9" fill="none" stroke="#333" stroke-width="1.1" />
<rect x="832.4" y="1015.9" width="24.9" height="200.9" fill="#d9d9d9" stroke="#333" stroke-width="1.1" />
<text font-size="14.6" text-anchor="middle" textLength="14.2" lengthAdjust="spacingAndGlyphs" fill="#1a1a1a" transform="translate(839.2 1116.85) rotate(90)">BP</text>
<rect x="384.3" y="1224.5" width="448.1" height="200.8" fill="#fff" />
<line x1="476.8" y1="1224.5" x2="476.8" y2="1425.3" stroke="#efefef" stroke-width="0.7" />
<line x1="622.6" y1="1224.5" x2="622.6" y2="1425.3" stroke="#efefef" stroke-width="0.7" />
<line x1="768.4" y1="1224.5" x2="768.4" y2="1425.3" stroke="#efefef" stroke-width="0.7" />
<line x1="403.9" y1="1224.5" x2="403.9" y2="1425.3" stroke="#e8e8e8" stroke-width="1.2" />
<line x1="549.7" y1="1224.5" x2="549.7" y2="1425.3" stroke="#e8e8e8" stroke-width="1.2" />
<line x1="695.5" y1="1224.5" x2="695.5" y2="1425.3" stroke="#e8e8e8" stroke-width="1.2" />
<line x1="384.3" y1="1247.7" x2="832.4" y2="1247.7" stroke="#e8e8e8" stroke-width="1.2" />
<line x1="384.3" y1="1286.55" x2="832.4" y2="1286.55" stroke="#e8e8e8" stroke-width="1.2" />
<line x1="384.3" y1="1325.4" x2="832.4" y2="1325.4" stroke="#e8e8e8" stroke-width="1.2" />
<line x1="384.3" y1="1364.25" x2="832.4" y2="1364.25" stroke="#e8e8e8" stroke-width="1.2" />
<line x1="384.3" y1="1403.1" x2="832.4" y2="1403.1" stroke="#e8e8e8" stroke-width="1.2" />
<rect x="403.9" y="1230.45" width="320.76" height="34.5" fill="#c8171f" />
<line x1="380.1" y1="1247.7" x2="384.3" y2="1247.7" stroke="#333" stroke-width="1.1" />
<text font-size="15.3" text-anchor="end" textLength="158.01" lengthAdjust="spacingAndGlyphs" fill="#111" x="376.6" y="1253">chromosomal region</text>
<rect x="403.9" y="1269.3" width="262.44" height="34.5" fill="#c8171f" />
<line x1="380.1" y1="1286.55" x2="384.3" y2="1286.55" stroke="#333" stroke-width="1.1" />
<text font-size="15.3" text-anchor="end" textLength="254.93" lengthAdjust="spacingAndGlyphs" fill="#111" x="376.6" y="1291.85">chromosome, centromeric region</text>
<rect x="403.9" y="1308.15" width="233.28" height="34.5" fill="#c8171f" />
<line x1="380.1" y1="1325.4" x2="384.3" y2="1325.4" stroke="#333" stroke-width="1.1" />
<text font-size="15.3" text-anchor="end" textLength="190.99" lengthAdjust="spacingAndGlyphs" fill="#111" x="376.6" y="1330.7">condensed chromosome</text>
<rect x="403.9" y="1347" width="174.96" height="34.5" fill="#c8171f" />
<line x1="380.1" y1="1364.25" x2="384.3" y2="1364.25" stroke="#333" stroke-width="1.1" />
<text font-size="15.3" text-anchor="end" textLength="90.17" lengthAdjust="spacingAndGlyphs" fill="#111" x="376.6" y="1369.55">kinetochore</text>
<rect x="403.9" y="1385.85" width="116.64" height="34.5" fill="#c8171f" />
<line x1="380.1" y1="1403.1" x2="384.3" y2="1403.1" stroke="#333" stroke-width="1.1" />
<text font-size="15.3" text-anchor="end" textLength="126.04" lengthAdjust="spacingAndGlyphs" fill="#111" x="376.6" y="1408.4">spindle midzone</text>
<rect x="384.3" y="1224.5" width="448.1" height="200.8" fill="none" stroke="#333" stroke-width="1.1" />
<rect x="832.4" y="1224.5" width="24.9" height="200.8" fill="#d9d9d9" stroke="#333" stroke-width="1.1" />
<text font-size="14.6" text-anchor="middle" textLength="14.2" lengthAdjust="spacingAndGlyphs" fill="#1a1a1a" transform="translate(839.2 1325.4) rotate(90)">CC</text>
<rect x="384.3" y="1433.1" width="448.1" height="200.9" fill="#fff" />
<line x1="476.8" y1="1433.1" x2="476.8" y2="1634" stroke="#efefef" stroke-width="0.7" />
<line x1="622.6" y1="1433.1" x2="622.6" y2="1634" stroke="#efefef" stroke-width="0.7" />
<line x1="768.4" y1="1433.1" x2="768.4" y2="1634" stroke="#efefef" stroke-width="0.7" />
<line x1="403.9" y1="1433.1" x2="403.9" y2="1634" stroke="#e8e8e8" stroke-width="1.2" />
<line x1="549.7" y1="1433.1" x2="549.7" y2="1634" stroke="#e8e8e8" stroke-width="1.2" />
<line x1="695.5" y1="1433.1" x2="695.5" y2="1634" stroke="#e8e8e8" stroke-width="1.2" />
<line x1="384.3" y1="1456.3" x2="832.4" y2="1456.3" stroke="#e8e8e8" stroke-width="1.2" />
<line x1="384.3" y1="1495.15" x2="832.4" y2="1495.15" stroke="#e8e8e8" stroke-width="1.2" />
<line x1="384.3" y1="1534" x2="832.4" y2="1534" stroke="#e8e8e8" stroke-width="1.2" />
<line x1="384.3" y1="1572.85" x2="832.4" y2="1572.85" stroke="#e8e8e8" stroke-width="1.2" />
<line x1="384.3" y1="1611.7" x2="832.4" y2="1611.7" stroke="#e8e8e8" stroke-width="1.2" />
<rect x="403.9" y="1439.05" width="58.32" height="34.5" fill="#c8192d" />
<line x1="380.1" y1="1456.3" x2="384.3" y2="1456.3" stroke="#333" stroke-width="1.1" />
<text font-size="15.3" text-anchor="end" textLength="169.65" lengthAdjust="spacingAndGlyphs" fill="#111" x="376.6" y="1461.6">histone kinase activity</text>
<rect x="403.9" y="1477.9" width="58.32" height="34.5" fill="#c8164b" />
<line x1="380.1" y1="1495.15" x2="384.3" y2="1495.15" stroke="#333" stroke-width="1.1" />
<text font-size="15.3" text-anchor="end" textLength="280.84" lengthAdjust="spacingAndGlyphs" fill="#111" x="376.6" y="1492.7">endoribonuclease activity, producing</text>
<text font-size="15.3" text-anchor="end" textLength="181.26" lengthAdjust="spacingAndGlyphs" fill="#111" x="376.6" y="1508.2">5'−phosphomonoesters</text>
<rect x="403.9" y="1516.75" width="58.32" height="34.5" fill="#be1269" />
<line x1="380.1" y1="1534" x2="384.3" y2="1534" stroke="#333" stroke-width="1.1" />
<text font-size="15.3" text-anchor="end" textLength="349.17" lengthAdjust="spacingAndGlyphs" fill="#111" x="376.6" y="1523.8">endonuclease activity, active with either ribo−</text>
<text font-size="15.3" text-anchor="end" textLength="311.22" lengthAdjust="spacingAndGlyphs" fill="#111" x="376.6" y="1539.3">or deoxyribonucleic acids and producing</text>
<text font-size="15.3" text-anchor="end" textLength="181.26" lengthAdjust="spacingAndGlyphs" fill="#111" x="376.6" y="1554.8">5'−phosphomonoesters</text>
<rect x="403.9" y="1555.6" width="87.48" height="34.5" fill="#912d87" />
<line x1="380.1" y1="1572.85" x2="384.3" y2="1572.85" stroke="#333" stroke-width="1.1" />
<text font-size="15.3" text-anchor="end" textLength="208.93" lengthAdjust="spacingAndGlyphs" fill="#111" x="376.6" y="1578.15">protein C−terminus binding</text>
<rect x="403.9" y="1594.45" width="58.32" height="34.5" fill="#3750a0" />
<line x1="380.1" y1="1611.7" x2="384.3" y2="1611.7" stroke="#333" stroke-width="1.1" />
<text font-size="15.3" text-anchor="end" textLength="195.84" lengthAdjust="spacingAndGlyphs" fill="#111" x="376.6" y="1617">endoribonuclease activity</text>
<rect x="384.3" y="1433.1" width="448.1" height="200.9" fill="none" stroke="#333" stroke-width="1.1" />
<rect x="832.4" y="1433.1" width="24.9" height="200.9" fill="#d9d9d9" stroke="#333" stroke-width="1.1" />
<text font-size="14.6" text-anchor="middle" textLength="14.2" lengthAdjust="spacingAndGlyphs" fill="#1a1a1a" transform="translate(839.2 1534.05) rotate(90)">MF</text>
<line x1="403.9" y1="1634" x2="403.9" y2="1638" stroke="#333" stroke-width="1.1" />
<text font-size="13.2" text-anchor="middle" textLength="8.29" lengthAdjust="spacingAndGlyphs" fill="#111" x="403.9" y="1651.4">0</text>
<line x1="549.7" y1="1634" x2="549.7" y2="1638" stroke="#333" stroke-width="1.1" />
<text font-size="13.2" text-anchor="middle" textLength="8.29" lengthAdjust="spacingAndGlyphs" fill="#111" x="549.7" y="1651.4">5</text>
<line x1="695.5" y1="1634" x2="695.5" y2="1638" stroke="#333" stroke-width="1.1" />
<text font-size="13.2" text-anchor="middle" textLength="16.59" lengthAdjust="spacingAndGlyphs" fill="#111" x="695.5" y="1651.4">10</text>
<text font-size="14.6" text-anchor="middle" textLength="46" lengthAdjust="spacingAndGlyphs" x="608.4" y="1668.4">Count</text>
<defs><linearGradient id="pg1" x1="0" y1="0" x2="0" y2="1"><stop offset="0" stop-color="#cb1823"/><stop offset="0.25" stop-color="#c81655"/><stop offset="0.45" stop-color="#b2127d"/><stop offset="0.62" stop-color="#8c378c"/><stop offset="0.8" stop-color="#644196"/><stop offset="1" stop-color="#3750a0"/></linearGradient></defs>
<text font-size="14.3" textLength="46" lengthAdjust="spacingAndGlyphs" x="882" y="1275.4">pvalue</text>
<rect x="881.4" y="1283.2" width="25.5" height="103.7" fill="url(#pg1)" />
<line x1="881.4" y1="1308.6" x2="886.5" y2="1308.6" stroke="#fff" stroke-width="0.9" />
<line x1="901.8" y1="1308.6" x2="906.9" y2="1308.6" stroke="#fff" stroke-width="0.9" />
<text font-size="10.9" textLength="32.2" lengthAdjust="spacingAndGlyphs" fill="#111" x="914.9" y="1312.5">0.002</text>
<line x1="881.4" y1="1333.6" x2="886.5" y2="1333.6" stroke="#fff" stroke-width="0.9" />
<line x1="901.8" y1="1333.6" x2="906.9" y2="1333.6" stroke="#fff" stroke-width="0.9" />
<text font-size="10.9" textLength="32.2" lengthAdjust="spacingAndGlyphs" fill="#111" x="914.9" y="1337.5">0.004</text>
<line x1="881.4" y1="1358.5" x2="886.5" y2="1358.5" stroke="#fff" stroke-width="0.9" />
<line x1="901.8" y1="1358.5" x2="906.9" y2="1358.5" stroke="#fff" stroke-width="0.9" />
<text font-size="10.9" textLength="32.2" lengthAdjust="spacingAndGlyphs" fill="#111" x="914.9" y="1362.4">0.006</text>
<line x1="881.4" y1="1383.5" x2="886.5" y2="1383.5" stroke="#fff" stroke-width="0.9" />
<line x1="901.8" y1="1383.5" x2="906.9" y2="1383.5" stroke="#fff" stroke-width="0.9" />
<text font-size="10.9" textLength="32.2" lengthAdjust="spacingAndGlyphs" fill="#111" x="914.9" y="1387.4">0.008</text>
</g>
<g id="f">
<rect x="1202.5" y="1038.9" width="476.3" height="530.6" fill="#fff" />
<line x1="1294.62" y1="1038.9" x2="1294.62" y2="1569.5" stroke="#efefef" stroke-width="0.7" />
<line x1="1413.88" y1="1038.9" x2="1413.88" y2="1569.5" stroke="#efefef" stroke-width="0.7" />
<line x1="1533.12" y1="1038.9" x2="1533.12" y2="1569.5" stroke="#efefef" stroke-width="0.7" />
<line x1="1652.38" y1="1038.9" x2="1652.38" y2="1569.5" stroke="#efefef" stroke-width="0.7" />
<line x1="1235" y1="1038.9" x2="1235" y2="1569.5" stroke="#e8e8e8" stroke-width="1.2" />
<line x1="1354.25" y1="1038.9" x2="1354.25" y2="1569.5" stroke="#e8e8e8" stroke-width="1.2" />
<line x1="1473.5" y1="1038.9" x2="1473.5" y2="1569.5" stroke="#e8e8e8" stroke-width="1.2" />
<line x1="1592.75" y1="1038.9" x2="1592.75" y2="1569.5" stroke="#e8e8e8" stroke-width="1.2" />
<line x1="1202.5" y1="1073.3" x2="1678.8" y2="1073.3" stroke="#e8e8e8" stroke-width="1.2" />
<line x1="1202.5" y1="1131.1" x2="1678.8" y2="1131.1" stroke="#e8e8e8" stroke-width="1.2" />
<line x1="1202.5" y1="1188.9" x2="1678.8" y2="1188.9" stroke="#e8e8e8" stroke-width="1.2" />
<line x1="1202.5" y1="1246.7" x2="1678.8" y2="1246.7" stroke="#e8e8e8" stroke-width="1.2" />
<line x1="1202.5" y1="1304.5" x2="1678.8" y2="1304.5" stroke="#e8e8e8" stroke-width="1.2" />
<line x1="1202.5" y1="1362.3" x2="1678.8" y2="1362.3" stroke="#e8e8e8" stroke-width="1.2" />
<line x1="1202.5" y1="1420.1" x2="1678.8" y2="1420.1" stroke="#e8e8e8" stroke-width="1.2" />
<line x1="1202.5" y1="1477.9" x2="1678.8" y2="1477.9" stroke="#e8e8e8" stroke-width="1.2" />
<line x1="1202.5" y1="1535.7" x2="1678.8" y2="1535.7" stroke="#e8e8e8" stroke-width="1.2" />
<circle cx="1657.8" cy="1073.3" r="11" fill="#cb1b24"/>
<line x1="1198.5" y1="1073.3" x2="1202.5" y2="1073.3" stroke="#333" stroke-width="1.1" />
<text font-size="15.7" text-anchor="end" textLength="60.79" lengthAdjust="spacingAndGlyphs" fill="#111" x="1196.3" y="1078.9">Cell cycle</text>
<circle cx="1278.36" cy="1131.1" r="6.8" fill="#cb1b24"/>
<line x1="1198.5" y1="1131.1" x2="1202.5" y2="1131.1" stroke="#333" stroke-width="1.1" />
<text font-size="15.7" text-anchor="end" textLength="97.92" lengthAdjust="spacingAndGlyphs" fill="#111" x="1196.3" y="1136.7">DNA replication</text>
<circle cx="1278.36" cy="1188.9" r="6.8" fill="#cb182d"/>
<line x1="1198.5" y1="1188.9" x2="1202.5" y2="1188.9" stroke="#333" stroke-width="1.1" />
<text font-size="15.7" text-anchor="end" textLength="197.85" lengthAdjust="spacingAndGlyphs" fill="#111" x="1196.3" y="1186.65">Progesterone−mediated oocyte</text>
<text font-size="15.7" text-anchor="end" textLength="67.12" lengthAdjust="spacingAndGlyphs" fill="#111" x="1196.3" y="1202.35">maturation</text>
<circle cx="1278.36" cy="1246.7" r="6.8" fill="#c8183c"/>
<line x1="1198.5" y1="1246.7" x2="1202.5" y2="1246.7" stroke="#333" stroke-width="1.1" />
<text font-size="15.7" text-anchor="end" textLength="127.94" lengthAdjust="spacingAndGlyphs" fill="#111" x="1196.3" y="1252.3">Cellular senescence</text>
<circle cx="1278.36" cy="1304.5" r="6.8" fill="#be1473"/>
<line x1="1198.5" y1="1304.5" x2="1202.5" y2="1304.5" stroke="#333" stroke-width="1.1" />
<text font-size="15.7" text-anchor="end" textLength="182.54" lengthAdjust="spacingAndGlyphs" fill="#111" x="1196.3" y="1302.25">Human T−cell leukemia virus</text>
<text font-size="15.7" text-anchor="end" textLength="64.77" lengthAdjust="spacingAndGlyphs" fill="#111" x="1196.3" y="1317.95">1 infection</text>
<circle cx="1224.16" cy="1362.3" r="4.8" fill="#c8195a"/>
<line x1="1198.5" y1="1362.3" x2="1202.5" y2="1362.3" stroke="#333" stroke-width="1.1" />
<text font-size="15.7" text-anchor="end" textLength="140.6" lengthAdjust="spacingAndGlyphs" fill="#111" x="1196.3" y="1367.9">p53 signaling pathway</text>
<circle cx="1224.16" cy="1420.1" r="4.8" fill="#c3196e"/>
<line x1="1198.5" y1="1420.1" x2="1202.5" y2="1420.1" stroke="#333" stroke-width="1.1" />
<text font-size="15.7" text-anchor="end" textLength="188.72" lengthAdjust="spacingAndGlyphs" fill="#111" x="1196.3" y="1425.7">Polycomb repressive complex</text>
<circle cx="1224.16" cy="1477.9" r="4.8" fill="#464ba0"/>
<line x1="1198.5" y1="1477.9" x2="1202.5" y2="1477.9" stroke="#333" stroke-width="1.1" />
<text font-size="15.7" text-anchor="end" textLength="62.4" lengthAdjust="spacingAndGlyphs" fill="#111" x="1196.3" y="1483.5">Apoptosis</text>
<circle cx="1224.16" cy="1535.7" r="4.8" fill="#3755a5"/>
<line x1="1198.5" y1="1535.7" x2="1202.5" y2="1535.7" stroke="#333" stroke-width="1.1" />
<text font-size="15.7" text-anchor="end" textLength="97.12" lengthAdjust="spacingAndGlyphs" fill="#111" x="1196.3" y="1541.3">Oocyte meiosis</text>
<rect x="1202.5" y="1038.9" width="476.3" height="530.6" fill="none" stroke="#6a6a6a" stroke-width="1.2" />
<line x1="1235" y1="1569.5" x2="1235" y2="1573.5" stroke="#333" stroke-width="1.1" />
<text font-size="13.3" text-anchor="middle" textLength="17.56" lengthAdjust="spacingAndGlyphs" fill="#111" x="1235" y="1586.8">0.1</text>
<line x1="1354.25" y1="1569.5" x2="1354.25" y2="1573.5" stroke="#333" stroke-width="1.1" />
<text font-size="13.3" text-anchor="middle" textLength="17.56" lengthAdjust="spacingAndGlyphs" fill="#111" x="1354.25" y="1586.8">0.2</text>
<line x1="1473.5" y1="1569.5" x2="1473.5" y2="1573.5" stroke="#333" stroke-width="1.1" />
<text font-size="13.3" text-anchor="middle" textLength="17.56" lengthAdjust="spacingAndGlyphs" fill="#111" x="1473.5" y="1586.8">0.3</text>
<line x1="1592.75" y1="1569.5" x2="1592.75" y2="1573.5" stroke="#333" stroke-width="1.1" />
<text font-size="13.3" text-anchor="middle" textLength="17.56" lengthAdjust="spacingAndGlyphs" fill="#111" x="1592.75" y="1586.8">0.4</text>
<text font-size="14.2" text-anchor="middle" textLength="68.56" lengthAdjust="spacingAndGlyphs" fill="#111" x="1440.6" y="1603.8">GeneRatio</text>
<text font-size="14.2" textLength="34.6" lengthAdjust="spacingAndGlyphs" fill="#111" x="1699" y="1174.3">Count</text>
<circle cx="1712" cy="1192.8" r="4.7" fill="#0a0a0a"/>
<text font-size="11.2" textLength="5.73" lengthAdjust="spacingAndGlyphs" fill="#111" x="1732.1" y="1196.7">2</text>
<circle cx="1712" cy="1213.2" r="7.85" fill="#0a0a0a"/>
<text font-size="11.2" textLength="5.73" lengthAdjust="spacingAndGlyphs" fill="#111" x="1732.1" y="1217.1">4</text>
<circle cx="1712" cy="1234.6" r="9.15" fill="#0a0a0a"/>
<text font-size="11.2" textLength="5.73" lengthAdjust="spacingAndGlyphs" fill="#111" x="1732.1" y="1238.5">6</text>
<circle cx="1712" cy="1257.9" r="10.2" fill="#0a0a0a"/>
<text font-size="11.2" textLength="5.73" lengthAdjust="spacingAndGlyphs" fill="#111" x="1732.1" y="1261.8">8</text>
<circle cx="1712" cy="1283.9" r="11" fill="#0a0a0a"/>
<text font-size="11.2" textLength="11.46" lengthAdjust="spacingAndGlyphs" fill="#111" x="1732.1" y="1287.8">10</text>
<text font-size="14.2" textLength="37.3" lengthAdjust="spacingAndGlyphs" fill="#111" x="1698.8" y="1334.4">pvalue</text>
<defs><linearGradient id="pg2" x1="0" y1="1" x2="0" y2="0"><stop offset="0" stop-color="#cb1823"/><stop offset="0.25" stop-color="#c81655"/><stop offset="0.45" stop-color="#b2127d"/><stop offset="0.62" stop-color="#8c378c"/><stop offset="0.8" stop-color="#644196"/><stop offset="1" stop-color="#3750a0"/></linearGradient></defs>
<rect x="1698.6" y="1342.6" width="20.3" height="103.2" fill="url(#pg2)" />
<line x1="1698.6" y1="1361.5" x2="1702.7" y2="1361.5" stroke="#fff" stroke-width="0.9" stroke-opacity="0.7"/>
<line x1="1714.8" y1="1361.5" x2="1718.9" y2="1361.5" stroke="#fff" stroke-width="0.9" stroke-opacity="0.7"/>
<text font-size="10.6" textLength="19.8" lengthAdjust="spacingAndGlyphs" fill="#111" x="1725.9" y="1365.4">0.04</text>
<line x1="1698.6" y1="1382.6" x2="1702.7" y2="1382.6" stroke="#fff" stroke-width="0.9" stroke-opacity="0.7"/>
<line x1="1714.8" y1="1382.6" x2="1718.9" y2="1382.6" stroke="#fff" stroke-width="0.9" stroke-opacity="0.7"/>
<text font-size="10.6" textLength="19.8" lengthAdjust="spacingAndGlyphs" fill="#111" x="1725.9" y="1386.5">0.03</text>
<line x1="1698.6" y1="1403.5" x2="1702.7" y2="1403.5" stroke="#fff" stroke-width="0.9" stroke-opacity="0.7"/>
<line x1="1714.8" y1="1403.5" x2="1718.9" y2="1403.5" stroke="#fff" stroke-width="0.9" stroke-opacity="0.7"/>
<text font-size="10.6" textLength="19.8" lengthAdjust="spacingAndGlyphs" fill="#111" x="1725.9" y="1407.4">0.02</text>
<line x1="1698.6" y1="1424.5" x2="1702.7" y2="1424.5" stroke="#fff" stroke-width="0.9" stroke-opacity="0.7"/>
<line x1="1714.8" y1="1424.5" x2="1718.9" y2="1424.5" stroke="#fff" stroke-width="0.9" stroke-opacity="0.7"/>
<text font-size="10.6" textLength="19.8" lengthAdjust="spacingAndGlyphs" fill="#111" x="1725.9" y="1428.4">0.01</text>
</g>
<g id="letters">
<text font-size="39.8" font-weight="bold" textLength="27.59" lengthAdjust="spacingAndGlyphs" x="1.2" y="33">A</text>
<text font-size="39.8" font-weight="bold" textLength="27.59" lengthAdjust="spacingAndGlyphs" x="678.4" y="33">B</text>
<text font-size="39.8" font-weight="bold" textLength="27.59" lengthAdjust="spacingAndGlyphs" x="1169.9" y="33.3">C</text>
<text font-size="39.8" font-weight="bold" textLength="27.59" lengthAdjust="spacingAndGlyphs" x="2.3" y="573.5">D</text>
<text font-size="39.8" font-weight="bold" textLength="25.49" lengthAdjust="spacingAndGlyphs" x="3.2" y="1012">E</text>
<text font-size="39.8" font-weight="bold" textLength="23.34" lengthAdjust="spacingAndGlyphs" x="988.2" y="1012">F</text>
</g>
</svg>
</body></html>
